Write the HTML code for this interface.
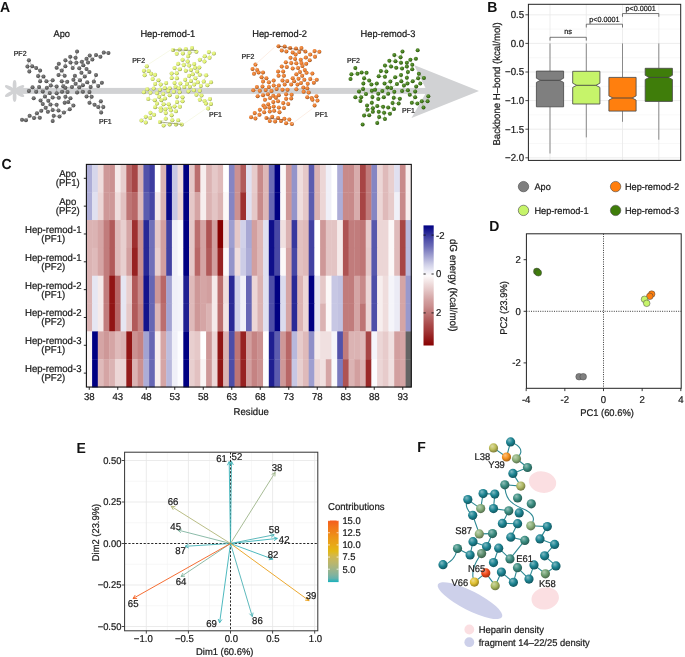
<!DOCTYPE html>
<html><head><meta charset="utf-8"><title>Figure</title>
<style>
html,body{margin:0;padding:0;background:#fff;}
body{width:685px;height:657px;overflow:hidden;}
svg{display:block;will-change:transform;text-rendering:geometricPrecision;font-family:"Liberation Sans", sans-serif;}
</style></head><body>
<svg width="685" height="657" viewBox="0 0 685 657">
<defs><radialGradient id="g0" cx="0.45" cy="0.42" r="0.6" fx="0.4" fy="0.35"><stop offset="0" stop-color="#868686"/><stop offset="0.6" stop-color="#646464"/><stop offset="1" stop-color="#373737"/></radialGradient>
<radialGradient id="g1" cx="0.45" cy="0.42" r="0.6" fx="0.4" fy="0.35"><stop offset="0" stop-color="#e8f592"/><stop offset="0.6" stop-color="#e1f273"/><stop offset="1" stop-color="#7c853f"/></radialGradient>
<radialGradient id="g2" cx="0.45" cy="0.42" r="0.6" fx="0.4" fy="0.35"><stop offset="0" stop-color="#f0995a"/><stop offset="0.6" stop-color="#ec7c2c"/><stop offset="1" stop-color="#824418"/></radialGradient>
<radialGradient id="g3" cx="0.45" cy="0.42" r="0.6" fx="0.4" fy="0.35"><stop offset="0" stop-color="#6a9949"/><stop offset="0.6" stop-color="#407c16"/><stop offset="1" stop-color="#23440c"/></radialGradient>
<linearGradient id="cbar" x1="0" y1="0" x2="0" y2="1"><stop offset="0" stop-color="#000082"/><stop offset="0.04" stop-color="#1a1a8f"/><stop offset="0.08" stop-color="#35359c"/><stop offset="0.12" stop-color="#4f4fa9"/><stop offset="0.17" stop-color="#6969b6"/><stop offset="0.21" stop-color="#8383c2"/><stop offset="0.25" stop-color="#9e9ecf"/><stop offset="0.29" stop-color="#b8b8dc"/><stop offset="0.33" stop-color="#d2d2e9"/><stop offset="0.38" stop-color="#ececf6"/><stop offset="0.42" stop-color="#fdfafa"/><stop offset="0.46" stop-color="#f4e8e8"/><stop offset="0.5" stop-color="#ecd6d6"/><stop offset="0.54" stop-color="#e4c5c5"/><stop offset="0.58" stop-color="#dbb3b3"/><stop offset="0.62" stop-color="#d3a1a1"/><stop offset="0.67" stop-color="#cb9090"/><stop offset="0.71" stop-color="#c27e7e"/><stop offset="0.75" stop-color="#ba6c6c"/><stop offset="0.79" stop-color="#b15a5a"/><stop offset="0.83" stop-color="#a94949"/><stop offset="0.88" stop-color="#a13737"/><stop offset="0.92" stop-color="#982525"/><stop offset="0.96" stop-color="#901313"/><stop offset="1" stop-color="#880202"/></linearGradient>
<linearGradient id="cgr" x1="0" y1="0" x2="0" y2="1"><stop offset="0" stop-color="#f55b1d"/><stop offset="0.06" stop-color="#f36b1c"/><stop offset="0.12" stop-color="#f2781a"/><stop offset="0.19" stop-color="#f08419"/><stop offset="0.25" stop-color="#ee9018"/><stop offset="0.31" stop-color="#eb9b18"/><stop offset="0.38" stop-color="#e9a517"/><stop offset="0.44" stop-color="#e6af17"/><stop offset="0.5" stop-color="#e2b917"/><stop offset="0.56" stop-color="#d6b843"/><stop offset="0.62" stop-color="#c9b75a"/><stop offset="0.69" stop-color="#bbb66c"/><stop offset="0.75" stop-color="#abb57d"/><stop offset="0.81" stop-color="#99b48d"/><stop offset="0.88" stop-color="#83b39d"/><stop offset="0.94" stop-color="#65b2ac"/><stop offset="1" stop-color="#17b1bb"/></linearGradient>
<radialGradient id="g4" cx="0.42" cy="0.38" r="0.62" fx="0.35" fy="0.3"><stop offset="0" stop-color="#82bbc3"/><stop offset="0.55" stop-color="#1c8492"/><stop offset="1" stop-color="#12565f"/></radialGradient>
<radialGradient id="g5" cx="0.42" cy="0.38" r="0.62" fx="0.35" fy="0.3"><stop offset="0" stop-color="#dbdba4"/><stop offset="0.55" stop-color="#bebe5a"/><stop offset="1" stop-color="#7c7c3a"/></radialGradient>
<radialGradient id="g6" cx="0.42" cy="0.38" r="0.62" fx="0.35" fy="0.3"><stop offset="0" stop-color="#fac283"/><stop offset="0.55" stop-color="#f5911e"/><stop offset="1" stop-color="#9f5e14"/></radialGradient>
<radialGradient id="g7" cx="0.42" cy="0.38" r="0.62" fx="0.35" fy="0.3"><stop offset="0" stop-color="#c0d3b5"/><stop offset="0.55" stop-color="#8caf78"/><stop offset="1" stop-color="#5b724e"/></radialGradient>
<radialGradient id="g8" cx="0.42" cy="0.38" r="0.62" fx="0.35" fy="0.3"><stop offset="0" stop-color="#93c0b9"/><stop offset="0.55" stop-color="#3a8c80"/><stop offset="1" stop-color="#265b53"/></radialGradient>
<radialGradient id="g9" cx="0.42" cy="0.38" r="0.62" fx="0.35" fy="0.3"><stop offset="0" stop-color="#d3d8aa"/><stop offset="0.55" stop-color="#afb964"/><stop offset="1" stop-color="#727841"/></radialGradient>
<radialGradient id="g10" cx="0.42" cy="0.38" r="0.62" fx="0.35" fy="0.3"><stop offset="0" stop-color="#bad0b5"/><stop offset="0.55" stop-color="#82aa78"/><stop offset="1" stop-color="#546e4e"/></radialGradient>
<radialGradient id="g11" cx="0.42" cy="0.38" r="0.62" fx="0.35" fy="0.3"><stop offset="0" stop-color="#c0d4b6"/><stop offset="0.55" stop-color="#8cb07a"/><stop offset="1" stop-color="#5b724f"/></radialGradient>
<radialGradient id="g12" cx="0.42" cy="0.38" r="0.62" fx="0.35" fy="0.3"><stop offset="0" stop-color="#c1d4b6"/><stop offset="0.55" stop-color="#8fb07a"/><stop offset="1" stop-color="#5d724f"/></radialGradient>
<radialGradient id="g13" cx="0.42" cy="0.38" r="0.62" fx="0.35" fy="0.3"><stop offset="0" stop-color="#a6c2b0"/><stop offset="0.55" stop-color="#5e9070"/><stop offset="1" stop-color="#3d5e49"/></radialGradient>
<radialGradient id="g14" cx="0.42" cy="0.38" r="0.62" fx="0.35" fy="0.3"><stop offset="0" stop-color="#f79b81"/><stop offset="0.55" stop-color="#f04a1a"/><stop offset="1" stop-color="#9c3011"/></radialGradient>
<radialGradient id="g15" cx="0.42" cy="0.38" r="0.62" fx="0.35" fy="0.3"><stop offset="0" stop-color="#afcab0"/><stop offset="0.55" stop-color="#6e9e70"/><stop offset="1" stop-color="#486749"/></radialGradient>
<radialGradient id="g16" cx="0.42" cy="0.38" r="0.62" fx="0.35" fy="0.3"><stop offset="0" stop-color="#eedc8d"/><stop offset="0.55" stop-color="#e0c030"/><stop offset="1" stop-color="#927d1f"/></radialGradient>
<radialGradient id="g17" cx="0.42" cy="0.38" r="0.62" fx="0.35" fy="0.3"><stop offset="0" stop-color="#cfd8a8"/><stop offset="0.55" stop-color="#a8b860"/><stop offset="1" stop-color="#6d783e"/></radialGradient></defs>
<rect x="0" y="0" width="685" height="657" fill="#fff"/>
<ellipse cx="14.6" cy="85.4" rx="5.4" ry="1.9" fill="#d1d2d4" transform="rotate(-90 14.6 85.4)"/>
<ellipse cx="19.45" cy="88.2" rx="5.4" ry="1.9" fill="#d1d2d4" transform="rotate(-30 19.45 88.2)"/>
<ellipse cx="19.45" cy="93.8" rx="5.4" ry="1.9" fill="#d1d2d4" transform="rotate(30 19.45 93.8)"/>
<ellipse cx="14.6" cy="96.6" rx="5.4" ry="1.9" fill="#d1d2d4" transform="rotate(90 14.6 96.6)"/>
<ellipse cx="9.75" cy="88.2" rx="5.4" ry="1.9" fill="#d1d2d4" transform="rotate(-150 9.75 88.2)"/>
<ellipse cx="9.75" cy="93.8" rx="5.4" ry="1.9" fill="#d1d2d4" transform="rotate(150 9.75 93.8)"/>
<circle cx="14.6" cy="91" r="2.6" fill="#d1d2d4"/>
<rect x="17" y="87.9" width="412" height="6" fill="#d1d2d4" stroke="none" stroke-width="1"/>
<polygon points="414,65 479,91 411.5,118 427,91" fill="#d1d2d4"/>
<text transform="translate(0 11.8) scale(1 1.04)" font-size="14" text-anchor="start" font-weight="bold" fill="#111">A</text>
<text transform="translate(61.7 37) scale(1 1.04)" font-size="9.3" text-anchor="middle" font-weight="normal" fill="#1a1a1a" stroke="#1a1a1a" stroke-width="0.22">Apo</text>
<text transform="translate(167.8 37) scale(1 1.04)" font-size="9.3" text-anchor="middle" font-weight="normal" fill="#1a1a1a" stroke="#1a1a1a" stroke-width="0.22">Hep-remod-1</text>
<text transform="translate(279.6 37) scale(1 1.04)" font-size="9.3" text-anchor="middle" font-weight="normal" fill="#1a1a1a" stroke="#1a1a1a" stroke-width="0.22">Hep-remod-2</text>
<text transform="translate(388 37) scale(1 1.04)" font-size="9.3" text-anchor="middle" font-weight="normal" fill="#1a1a1a" stroke="#1a1a1a" stroke-width="0.22">Hep-remod-3</text>
<line x1="77.04" y1="51.57" x2="75.58" y2="57.85" stroke="#777" stroke-width="0.45"/>
<line x1="103.76" y1="52.59" x2="108.43" y2="53.03" stroke="#777" stroke-width="0.45"/>
<line x1="103.76" y1="52.59" x2="100.4" y2="56.68" stroke="#777" stroke-width="0.45"/>
<line x1="70.18" y1="56.68" x2="75.58" y2="57.85" stroke="#777" stroke-width="0.45"/>
<line x1="70.18" y1="56.68" x2="70.47" y2="62.52" stroke="#777" stroke-width="0.45"/>
<line x1="75.58" y1="57.85" x2="76.31" y2="62.81" stroke="#777" stroke-width="0.45"/>
<line x1="89.74" y1="55.51" x2="86.53" y2="58.87" stroke="#777" stroke-width="0.45"/>
<line x1="89.74" y1="55.51" x2="92.37" y2="59.6" stroke="#777" stroke-width="0.45"/>
<line x1="96.02" y1="54.93" x2="100.4" y2="56.68" stroke="#777" stroke-width="0.45"/>
<line x1="96.02" y1="54.93" x2="92.37" y2="59.6" stroke="#777" stroke-width="0.45"/>
<line x1="92.37" y1="59.6" x2="87.99" y2="62.52" stroke="#777" stroke-width="0.45"/>
<line x1="65.36" y1="60.33" x2="70.47" y2="62.52" stroke="#777" stroke-width="0.45"/>
<line x1="65.36" y1="60.33" x2="65.36" y2="66.17" stroke="#777" stroke-width="0.45"/>
<line x1="70.47" y1="62.52" x2="76.31" y2="62.81" stroke="#777" stroke-width="0.45"/>
<line x1="76.31" y1="62.81" x2="81.86" y2="61.79" stroke="#777" stroke-width="0.45"/>
<line x1="81.86" y1="61.79" x2="83.32" y2="65.15" stroke="#777" stroke-width="0.45"/>
<line x1="81.86" y1="61.79" x2="86.53" y2="58.87" stroke="#777" stroke-width="0.45"/>
<line x1="87.99" y1="62.52" x2="86.53" y2="58.87" stroke="#777" stroke-width="0.45"/>
<line x1="58.8" y1="63.69" x2="56.61" y2="67.63" stroke="#777" stroke-width="0.45"/>
<line x1="65.36" y1="66.17" x2="61.72" y2="70.55" stroke="#777" stroke-width="0.45"/>
<line x1="56.61" y1="67.63" x2="61.72" y2="70.55" stroke="#777" stroke-width="0.45"/>
<line x1="61.72" y1="70.55" x2="58.5" y2="74.93" stroke="#777" stroke-width="0.45"/>
<line x1="72.66" y1="68.07" x2="70.47" y2="62.52" stroke="#777" stroke-width="0.45"/>
<line x1="72.66" y1="68.07" x2="76.31" y2="62.81" stroke="#777" stroke-width="0.45"/>
<line x1="79.23" y1="68.36" x2="81.42" y2="72.74" stroke="#777" stroke-width="0.45"/>
<line x1="79.23" y1="68.36" x2="83.32" y2="65.15" stroke="#777" stroke-width="0.45"/>
<line x1="83.32" y1="65.15" x2="86.53" y2="69.09" stroke="#777" stroke-width="0.45"/>
<line x1="86.53" y1="69.09" x2="89.45" y2="72.01" stroke="#777" stroke-width="0.45"/>
<line x1="89.45" y1="72.01" x2="84.78" y2="76.39" stroke="#777" stroke-width="0.45"/>
<line x1="27.41" y1="66.61" x2="32.23" y2="66.17" stroke="#777" stroke-width="0.45"/>
<line x1="27.41" y1="66.61" x2="29.31" y2="71.57" stroke="#777" stroke-width="0.45"/>
<line x1="32.23" y1="66.17" x2="36.17" y2="68.07" stroke="#777" stroke-width="0.45"/>
<line x1="36.17" y1="68.07" x2="40.11" y2="70.55" stroke="#777" stroke-width="0.45"/>
<line x1="29.31" y1="71.57" x2="32.23" y2="66.17" stroke="#777" stroke-width="0.45"/>
<line x1="40.11" y1="70.55" x2="38.07" y2="75.95" stroke="#777" stroke-width="0.45"/>
<line x1="28.87" y1="60.33" x2="27.41" y2="66.61" stroke="#777" stroke-width="0.45"/>
<line x1="28.87" y1="60.33" x2="32.23" y2="66.17" stroke="#777" stroke-width="0.45"/>
<line x1="58.5" y1="74.93" x2="64.64" y2="75.66" stroke="#777" stroke-width="0.45"/>
<line x1="64.64" y1="75.66" x2="61.72" y2="70.55" stroke="#777" stroke-width="0.45"/>
<line x1="74.85" y1="75.66" x2="73.39" y2="79.74" stroke="#777" stroke-width="0.45"/>
<line x1="74.85" y1="75.66" x2="79.96" y2="80.33" stroke="#777" stroke-width="0.45"/>
<line x1="81.42" y1="72.74" x2="84.78" y2="76.39" stroke="#777" stroke-width="0.45"/>
<line x1="84.78" y1="76.39" x2="79.96" y2="80.33" stroke="#777" stroke-width="0.45"/>
<line x1="96.02" y1="74.93" x2="93.83" y2="81.5" stroke="#777" stroke-width="0.45"/>
<line x1="38.07" y1="75.95" x2="43.47" y2="76.39" stroke="#777" stroke-width="0.45"/>
<line x1="38.07" y1="75.95" x2="40.11" y2="81.2" stroke="#777" stroke-width="0.45"/>
<line x1="43.47" y1="76.39" x2="46.39" y2="81.2" stroke="#777" stroke-width="0.45"/>
<line x1="40.11" y1="81.2" x2="43.47" y2="76.39" stroke="#777" stroke-width="0.45"/>
<line x1="46.39" y1="81.2" x2="50.77" y2="85.58" stroke="#777" stroke-width="0.45"/>
<line x1="52.66" y1="80.33" x2="50.77" y2="85.58" stroke="#777" stroke-width="0.45"/>
<line x1="52.66" y1="80.33" x2="46.39" y2="81.2" stroke="#777" stroke-width="0.45"/>
<line x1="61.72" y1="81.2" x2="63.18" y2="86.17" stroke="#777" stroke-width="0.45"/>
<line x1="61.72" y1="81.2" x2="67.26" y2="81.79" stroke="#777" stroke-width="0.45"/>
<line x1="67.26" y1="81.79" x2="63.18" y2="86.17" stroke="#777" stroke-width="0.45"/>
<line x1="73.39" y1="79.74" x2="75.58" y2="83.69" stroke="#777" stroke-width="0.45"/>
<line x1="79.96" y1="80.33" x2="75.58" y2="83.69" stroke="#777" stroke-width="0.45"/>
<line x1="79.96" y1="80.33" x2="82.88" y2="85.15" stroke="#777" stroke-width="0.45"/>
<line x1="87.26" y1="82.23" x2="82.88" y2="85.15" stroke="#777" stroke-width="0.45"/>
<line x1="87.26" y1="82.23" x2="90.62" y2="87.04" stroke="#777" stroke-width="0.45"/>
<line x1="93.83" y1="81.5" x2="98.21" y2="85.88" stroke="#777" stroke-width="0.45"/>
<line x1="93.83" y1="81.5" x2="90.62" y2="87.04" stroke="#777" stroke-width="0.45"/>
<line x1="101.86" y1="82.66" x2="98.21" y2="85.88" stroke="#777" stroke-width="0.45"/>
<line x1="32.52" y1="87.34" x2="28.87" y2="90.99" stroke="#777" stroke-width="0.45"/>
<line x1="32.52" y1="87.34" x2="36.17" y2="91.72" stroke="#777" stroke-width="0.45"/>
<line x1="39.09" y1="87.04" x2="36.17" y2="91.72" stroke="#777" stroke-width="0.45"/>
<line x1="39.09" y1="87.04" x2="42.74" y2="91.42" stroke="#777" stroke-width="0.45"/>
<line x1="46.82" y1="87.63" x2="50.77" y2="85.58" stroke="#777" stroke-width="0.45"/>
<line x1="46.82" y1="87.63" x2="42.74" y2="91.42" stroke="#777" stroke-width="0.45"/>
<line x1="56.61" y1="86.61" x2="50.77" y2="85.58" stroke="#777" stroke-width="0.45"/>
<line x1="56.61" y1="86.61" x2="56.61" y2="93.18" stroke="#777" stroke-width="0.45"/>
<line x1="63.18" y1="86.17" x2="65.36" y2="87.63" stroke="#777" stroke-width="0.45"/>
<line x1="65.36" y1="87.63" x2="67.55" y2="92.01" stroke="#777" stroke-width="0.45"/>
<line x1="71.93" y1="87.04" x2="75.58" y2="83.69" stroke="#777" stroke-width="0.45"/>
<line x1="71.93" y1="87.04" x2="65.36" y2="87.63" stroke="#777" stroke-width="0.45"/>
<line x1="79.23" y1="87.34" x2="82.88" y2="85.15" stroke="#777" stroke-width="0.45"/>
<line x1="79.23" y1="87.34" x2="75.58" y2="83.69" stroke="#777" stroke-width="0.45"/>
<line x1="90.62" y1="87.04" x2="89.45" y2="92.01" stroke="#777" stroke-width="0.45"/>
<line x1="42.74" y1="91.42" x2="44.93" y2="96.39" stroke="#777" stroke-width="0.45"/>
<line x1="49.74" y1="92.88" x2="52.66" y2="97.55" stroke="#777" stroke-width="0.45"/>
<line x1="49.74" y1="92.88" x2="44.93" y2="96.39" stroke="#777" stroke-width="0.45"/>
<line x1="56.61" y1="93.18" x2="58.8" y2="97.85" stroke="#777" stroke-width="0.45"/>
<line x1="56.61" y1="93.18" x2="62.01" y2="91.72" stroke="#777" stroke-width="0.45"/>
<line x1="62.01" y1="91.72" x2="65.36" y2="87.63" stroke="#777" stroke-width="0.45"/>
<line x1="62.01" y1="91.72" x2="67.55" y2="92.01" stroke="#777" stroke-width="0.45"/>
<line x1="67.55" y1="92.01" x2="65.36" y2="96.82" stroke="#777" stroke-width="0.45"/>
<line x1="77.04" y1="92.45" x2="79.23" y2="87.34" stroke="#777" stroke-width="0.45"/>
<line x1="77.04" y1="92.45" x2="82.88" y2="91.72" stroke="#777" stroke-width="0.45"/>
<line x1="82.88" y1="91.72" x2="79.23" y2="87.34" stroke="#777" stroke-width="0.45"/>
<line x1="89.45" y1="92.01" x2="86.53" y2="96.39" stroke="#777" stroke-width="0.45"/>
<line x1="44.93" y1="96.39" x2="48.28" y2="100.77" stroke="#777" stroke-width="0.45"/>
<line x1="52.66" y1="97.55" x2="48.28" y2="100.77" stroke="#777" stroke-width="0.45"/>
<line x1="58.8" y1="97.85" x2="52.66" y2="97.55" stroke="#777" stroke-width="0.45"/>
<line x1="65.36" y1="96.82" x2="70.47" y2="98.28" stroke="#777" stroke-width="0.45"/>
<line x1="70.47" y1="98.28" x2="68.28" y2="101.93" stroke="#777" stroke-width="0.45"/>
<line x1="86.53" y1="96.39" x2="91.64" y2="96.82" stroke="#777" stroke-width="0.45"/>
<line x1="91.64" y1="96.82" x2="89.45" y2="92.01" stroke="#777" stroke-width="0.45"/>
<line x1="40.55" y1="100.47" x2="42.74" y2="104.12" stroke="#777" stroke-width="0.45"/>
<line x1="40.55" y1="100.47" x2="44.93" y2="96.39" stroke="#777" stroke-width="0.45"/>
<line x1="48.28" y1="100.77" x2="50.47" y2="104.56" stroke="#777" stroke-width="0.45"/>
<line x1="42.74" y1="104.12" x2="45.66" y2="107.77" stroke="#777" stroke-width="0.45"/>
<line x1="50.47" y1="104.56" x2="45.66" y2="107.77" stroke="#777" stroke-width="0.45"/>
<line x1="56.61" y1="104.85" x2="58.5" y2="110.4" stroke="#777" stroke-width="0.45"/>
<line x1="56.61" y1="104.85" x2="50.47" y2="104.56" stroke="#777" stroke-width="0.45"/>
<line x1="64.64" y1="102.66" x2="68.28" y2="101.93" stroke="#777" stroke-width="0.45"/>
<line x1="64.64" y1="102.66" x2="65.36" y2="96.82" stroke="#777" stroke-width="0.45"/>
<line x1="73.39" y1="105.58" x2="69.74" y2="109.23" stroke="#777" stroke-width="0.45"/>
<line x1="73.39" y1="105.58" x2="68.28" y2="101.93" stroke="#777" stroke-width="0.45"/>
<line x1="89.45" y1="102.66" x2="94.56" y2="104.85" stroke="#777" stroke-width="0.45"/>
<line x1="89.45" y1="102.66" x2="91.64" y2="96.82" stroke="#777" stroke-width="0.45"/>
<line x1="94.56" y1="104.85" x2="98.21" y2="107.04" stroke="#777" stroke-width="0.45"/>
<line x1="100.84" y1="101.2" x2="103.32" y2="107.04" stroke="#777" stroke-width="0.45"/>
<line x1="100.84" y1="101.2" x2="98.21" y2="107.04" stroke="#777" stroke-width="0.45"/>
<line x1="98.21" y1="107.04" x2="103.32" y2="107.04" stroke="#777" stroke-width="0.45"/>
<line x1="103.32" y1="107.04" x2="101.13" y2="112.45" stroke="#777" stroke-width="0.45"/>
<line x1="45.66" y1="107.77" x2="47.85" y2="111.86" stroke="#777" stroke-width="0.45"/>
<line x1="52.66" y1="109.96" x2="47.85" y2="111.86" stroke="#777" stroke-width="0.45"/>
<line x1="52.66" y1="109.96" x2="50.47" y2="104.56" stroke="#777" stroke-width="0.45"/>
<line x1="58.5" y1="110.4" x2="63.91" y2="112.45" stroke="#777" stroke-width="0.45"/>
<line x1="58.5" y1="110.4" x2="52.66" y2="109.96" stroke="#777" stroke-width="0.45"/>
<line x1="63.91" y1="112.45" x2="59.53" y2="116.53" stroke="#777" stroke-width="0.45"/>
<line x1="69.74" y1="109.23" x2="63.91" y2="112.45" stroke="#777" stroke-width="0.45"/>
<line x1="36.9" y1="113.32" x2="41.28" y2="110.69" stroke="#777" stroke-width="0.45"/>
<line x1="36.9" y1="113.32" x2="39.82" y2="117.7" stroke="#777" stroke-width="0.45"/>
<line x1="41.28" y1="110.69" x2="45.66" y2="107.77" stroke="#777" stroke-width="0.45"/>
<line x1="101.13" y1="112.45" x2="98.21" y2="107.04" stroke="#777" stroke-width="0.45"/>
<line x1="29.6" y1="115.8" x2="33.98" y2="117.99" stroke="#777" stroke-width="0.45"/>
<line x1="29.6" y1="115.8" x2="25.95" y2="120.18" stroke="#777" stroke-width="0.45"/>
<line x1="33.98" y1="117.99" x2="36.9" y2="113.32" stroke="#777" stroke-width="0.45"/>
<line x1="39.82" y1="117.7" x2="33.98" y2="117.99" stroke="#777" stroke-width="0.45"/>
<line x1="53.69" y1="115.8" x2="52.66" y2="120.91" stroke="#777" stroke-width="0.45"/>
<line x1="53.69" y1="115.8" x2="59.53" y2="116.53" stroke="#777" stroke-width="0.45"/>
<line x1="22.01" y1="119.74" x2="25.95" y2="120.18" stroke="#777" stroke-width="0.45"/>
<circle cx="77.04" cy="51.57" r="2" fill="url(#g0)"/>
<circle cx="103.76" cy="52.59" r="2" fill="url(#g0)"/>
<circle cx="108.43" cy="53.03" r="2" fill="url(#g0)"/>
<circle cx="70.18" cy="56.68" r="2" fill="url(#g0)"/>
<circle cx="75.58" cy="57.85" r="2" fill="url(#g0)"/>
<circle cx="89.74" cy="55.51" r="2" fill="url(#g0)"/>
<circle cx="96.02" cy="54.93" r="2" fill="url(#g0)"/>
<circle cx="100.4" cy="56.68" r="2" fill="url(#g0)"/>
<circle cx="92.37" cy="59.6" r="2" fill="url(#g0)"/>
<circle cx="65.36" cy="60.33" r="2" fill="url(#g0)"/>
<circle cx="70.47" cy="62.52" r="2" fill="url(#g0)"/>
<circle cx="76.31" cy="62.81" r="2" fill="url(#g0)"/>
<circle cx="81.86" cy="61.79" r="2" fill="url(#g0)"/>
<circle cx="87.99" cy="62.52" r="2" fill="url(#g0)"/>
<circle cx="86.53" cy="58.87" r="2" fill="url(#g0)"/>
<circle cx="58.8" cy="63.69" r="2" fill="url(#g0)"/>
<circle cx="65.36" cy="66.17" r="2" fill="url(#g0)"/>
<circle cx="56.61" cy="67.63" r="2" fill="url(#g0)"/>
<circle cx="61.72" cy="70.55" r="2" fill="url(#g0)"/>
<circle cx="72.66" cy="68.07" r="2" fill="url(#g0)"/>
<circle cx="79.23" cy="68.36" r="2" fill="url(#g0)"/>
<circle cx="83.32" cy="65.15" r="2" fill="url(#g0)"/>
<circle cx="86.53" cy="69.09" r="2" fill="url(#g0)"/>
<circle cx="89.45" cy="72.01" r="2" fill="url(#g0)"/>
<circle cx="27.41" cy="66.61" r="2" fill="url(#g0)"/>
<circle cx="32.23" cy="66.17" r="2" fill="url(#g0)"/>
<circle cx="36.17" cy="68.07" r="2" fill="url(#g0)"/>
<circle cx="29.31" cy="71.57" r="2" fill="url(#g0)"/>
<circle cx="40.11" cy="70.55" r="2" fill="url(#g0)"/>
<circle cx="28.87" cy="60.33" r="2" fill="url(#g0)"/>
<circle cx="58.5" cy="74.93" r="2" fill="url(#g0)"/>
<circle cx="64.64" cy="75.66" r="2" fill="url(#g0)"/>
<circle cx="74.85" cy="75.66" r="2" fill="url(#g0)"/>
<circle cx="81.42" cy="72.74" r="2" fill="url(#g0)"/>
<circle cx="84.78" cy="76.39" r="2" fill="url(#g0)"/>
<circle cx="96.02" cy="74.93" r="2" fill="url(#g0)"/>
<circle cx="38.07" cy="75.95" r="2" fill="url(#g0)"/>
<circle cx="43.47" cy="76.39" r="2" fill="url(#g0)"/>
<circle cx="40.11" cy="81.2" r="2" fill="url(#g0)"/>
<circle cx="46.39" cy="81.2" r="2" fill="url(#g0)"/>
<circle cx="52.66" cy="80.33" r="2" fill="url(#g0)"/>
<circle cx="61.72" cy="81.2" r="2" fill="url(#g0)"/>
<circle cx="67.26" cy="81.79" r="2" fill="url(#g0)"/>
<circle cx="73.39" cy="79.74" r="2" fill="url(#g0)"/>
<circle cx="79.96" cy="80.33" r="2" fill="url(#g0)"/>
<circle cx="87.26" cy="82.23" r="2" fill="url(#g0)"/>
<circle cx="93.83" cy="81.5" r="2" fill="url(#g0)"/>
<circle cx="101.86" cy="82.66" r="2" fill="url(#g0)"/>
<circle cx="98.21" cy="85.88" r="2" fill="url(#g0)"/>
<circle cx="32.52" cy="87.34" r="2" fill="url(#g0)"/>
<circle cx="39.09" cy="87.04" r="2" fill="url(#g0)"/>
<circle cx="46.82" cy="87.63" r="2" fill="url(#g0)"/>
<circle cx="50.77" cy="85.58" r="2" fill="url(#g0)"/>
<circle cx="56.61" cy="86.61" r="2" fill="url(#g0)"/>
<circle cx="63.18" cy="86.17" r="2" fill="url(#g0)"/>
<circle cx="65.36" cy="87.63" r="2" fill="url(#g0)"/>
<circle cx="71.93" cy="87.04" r="2" fill="url(#g0)"/>
<circle cx="75.58" cy="83.69" r="2" fill="url(#g0)"/>
<circle cx="79.23" cy="87.34" r="2" fill="url(#g0)"/>
<circle cx="82.88" cy="85.15" r="2" fill="url(#g0)"/>
<circle cx="90.62" cy="87.04" r="2" fill="url(#g0)"/>
<circle cx="28.87" cy="90.99" r="2" fill="url(#g0)"/>
<circle cx="36.17" cy="91.72" r="2" fill="url(#g0)"/>
<circle cx="42.74" cy="91.42" r="2" fill="url(#g0)"/>
<circle cx="49.74" cy="92.88" r="2" fill="url(#g0)"/>
<circle cx="56.61" cy="93.18" r="2" fill="url(#g0)"/>
<circle cx="62.01" cy="91.72" r="2" fill="url(#g0)"/>
<circle cx="67.55" cy="92.01" r="2" fill="url(#g0)"/>
<circle cx="77.04" cy="92.45" r="2" fill="url(#g0)"/>
<circle cx="82.88" cy="91.72" r="2" fill="url(#g0)"/>
<circle cx="89.45" cy="92.01" r="2" fill="url(#g0)"/>
<circle cx="33.69" cy="98.28" r="2" fill="url(#g0)"/>
<circle cx="44.93" cy="96.39" r="2" fill="url(#g0)"/>
<circle cx="52.66" cy="97.55" r="2" fill="url(#g0)"/>
<circle cx="58.8" cy="97.85" r="2" fill="url(#g0)"/>
<circle cx="65.36" cy="96.82" r="2" fill="url(#g0)"/>
<circle cx="70.47" cy="98.28" r="2" fill="url(#g0)"/>
<circle cx="86.53" cy="96.39" r="2" fill="url(#g0)"/>
<circle cx="91.64" cy="96.82" r="2" fill="url(#g0)"/>
<circle cx="40.55" cy="100.47" r="2" fill="url(#g0)"/>
<circle cx="48.28" cy="100.77" r="2" fill="url(#g0)"/>
<circle cx="42.74" cy="104.12" r="2" fill="url(#g0)"/>
<circle cx="50.47" cy="104.56" r="2" fill="url(#g0)"/>
<circle cx="56.61" cy="104.85" r="2" fill="url(#g0)"/>
<circle cx="64.64" cy="102.66" r="2" fill="url(#g0)"/>
<circle cx="68.28" cy="101.93" r="2" fill="url(#g0)"/>
<circle cx="73.39" cy="105.58" r="2" fill="url(#g0)"/>
<circle cx="89.45" cy="102.66" r="2" fill="url(#g0)"/>
<circle cx="94.56" cy="104.85" r="2" fill="url(#g0)"/>
<circle cx="100.84" cy="101.2" r="2" fill="url(#g0)"/>
<circle cx="98.21" cy="107.04" r="2" fill="url(#g0)"/>
<circle cx="103.32" cy="107.04" r="2" fill="url(#g0)"/>
<circle cx="45.66" cy="107.77" r="2" fill="url(#g0)"/>
<circle cx="52.66" cy="109.96" r="2" fill="url(#g0)"/>
<circle cx="58.5" cy="110.4" r="2" fill="url(#g0)"/>
<circle cx="63.91" cy="112.45" r="2" fill="url(#g0)"/>
<circle cx="69.74" cy="109.23" r="2" fill="url(#g0)"/>
<circle cx="36.9" cy="113.32" r="2" fill="url(#g0)"/>
<circle cx="41.28" cy="110.69" r="2" fill="url(#g0)"/>
<circle cx="47.85" cy="111.86" r="2" fill="url(#g0)"/>
<circle cx="101.13" cy="112.45" r="2" fill="url(#g0)"/>
<circle cx="29.6" cy="115.8" r="2" fill="url(#g0)"/>
<circle cx="33.98" cy="117.99" r="2" fill="url(#g0)"/>
<circle cx="39.82" cy="117.7" r="2" fill="url(#g0)"/>
<circle cx="53.69" cy="115.8" r="2" fill="url(#g0)"/>
<circle cx="59.53" cy="116.53" r="2" fill="url(#g0)"/>
<circle cx="22.01" cy="119.74" r="2" fill="url(#g0)"/>
<circle cx="25.95" cy="120.18" r="2" fill="url(#g0)"/>
<circle cx="52.66" cy="120.91" r="2" fill="url(#g0)"/>
<line x1="173.07" y1="49.93" x2="176.72" y2="53.87" stroke="#c8d890" stroke-width="0.45"/>
<line x1="173.07" y1="49.93" x2="179.64" y2="49.49" stroke="#c8d890" stroke-width="0.45"/>
<line x1="179.64" y1="49.49" x2="182.85" y2="53.43" stroke="#c8d890" stroke-width="0.45"/>
<line x1="179.64" y1="49.49" x2="176.72" y2="53.87" stroke="#c8d890" stroke-width="0.45"/>
<line x1="185.77" y1="49.05" x2="182.85" y2="53.43" stroke="#c8d890" stroke-width="0.45"/>
<line x1="185.77" y1="49.05" x2="189.56" y2="52.85" stroke="#c8d890" stroke-width="0.45"/>
<line x1="192.04" y1="48.03" x2="189.56" y2="52.85" stroke="#c8d890" stroke-width="0.45"/>
<line x1="192.04" y1="48.03" x2="196.42" y2="51.68" stroke="#c8d890" stroke-width="0.45"/>
<line x1="196.42" y1="51.68" x2="189.56" y2="52.85" stroke="#c8d890" stroke-width="0.45"/>
<line x1="189.56" y1="52.85" x2="188.1" y2="56.35" stroke="#c8d890" stroke-width="0.45"/>
<line x1="188.1" y1="56.35" x2="187.66" y2="61.61" stroke="#c8d890" stroke-width="0.45"/>
<line x1="208.83" y1="51.97" x2="213.94" y2="53.43" stroke="#c8d890" stroke-width="0.45"/>
<line x1="208.83" y1="51.97" x2="209.56" y2="57.81" stroke="#c8d890" stroke-width="0.45"/>
<line x1="213.94" y1="53.43" x2="209.56" y2="57.81" stroke="#c8d890" stroke-width="0.45"/>
<line x1="204.74" y1="56.35" x2="209.56" y2="57.81" stroke="#c8d890" stroke-width="0.45"/>
<line x1="204.74" y1="56.35" x2="204.45" y2="61.61" stroke="#c8d890" stroke-width="0.45"/>
<line x1="199.78" y1="59.71" x2="204.45" y2="61.61" stroke="#c8d890" stroke-width="0.45"/>
<line x1="199.78" y1="59.71" x2="204.74" y2="56.35" stroke="#c8d890" stroke-width="0.45"/>
<line x1="182.55" y1="59.71" x2="187.66" y2="61.61" stroke="#c8d890" stroke-width="0.45"/>
<line x1="182.55" y1="59.71" x2="183.72" y2="65.11" stroke="#c8d890" stroke-width="0.45"/>
<line x1="187.66" y1="61.61" x2="189.12" y2="65.55" stroke="#c8d890" stroke-width="0.45"/>
<line x1="178.18" y1="63.65" x2="174.53" y2="68.03" stroke="#c8d890" stroke-width="0.45"/>
<line x1="178.18" y1="63.65" x2="183.72" y2="65.11" stroke="#c8d890" stroke-width="0.45"/>
<line x1="183.72" y1="65.11" x2="187.66" y2="61.61" stroke="#c8d890" stroke-width="0.45"/>
<line x1="183.72" y1="65.11" x2="189.12" y2="65.55" stroke="#c8d890" stroke-width="0.45"/>
<line x1="189.12" y1="65.55" x2="191.02" y2="69.93" stroke="#c8d890" stroke-width="0.45"/>
<line x1="194.23" y1="64.09" x2="194.96" y2="67.74" stroke="#c8d890" stroke-width="0.45"/>
<line x1="194.23" y1="64.09" x2="189.12" y2="65.55" stroke="#c8d890" stroke-width="0.45"/>
<line x1="199.34" y1="67.45" x2="194.96" y2="67.74" stroke="#c8d890" stroke-width="0.45"/>
<line x1="199.34" y1="67.45" x2="197.15" y2="71.39" stroke="#c8d890" stroke-width="0.45"/>
<line x1="174.53" y1="68.03" x2="179.93" y2="69.2" stroke="#c8d890" stroke-width="0.45"/>
<line x1="174.53" y1="68.03" x2="176.72" y2="73.28" stroke="#c8d890" stroke-width="0.45"/>
<line x1="179.93" y1="69.2" x2="176.72" y2="73.28" stroke="#c8d890" stroke-width="0.45"/>
<line x1="185.77" y1="70.66" x2="191.02" y2="69.93" stroke="#c8d890" stroke-width="0.45"/>
<line x1="185.77" y1="70.66" x2="183.72" y2="65.11" stroke="#c8d890" stroke-width="0.45"/>
<line x1="191.02" y1="69.93" x2="194.96" y2="67.74" stroke="#c8d890" stroke-width="0.45"/>
<line x1="191.02" y1="69.93" x2="192.77" y2="74.31" stroke="#c8d890" stroke-width="0.45"/>
<line x1="194.96" y1="67.74" x2="197.15" y2="71.39" stroke="#c8d890" stroke-width="0.45"/>
<line x1="146.79" y1="66.28" x2="148.69" y2="70.95" stroke="#c8d890" stroke-width="0.45"/>
<line x1="146.79" y1="66.28" x2="143.87" y2="70.66" stroke="#c8d890" stroke-width="0.45"/>
<line x1="143.87" y1="70.66" x2="144.6" y2="75.33" stroke="#c8d890" stroke-width="0.45"/>
<line x1="143.87" y1="70.66" x2="148.69" y2="70.95" stroke="#c8d890" stroke-width="0.45"/>
<line x1="148.69" y1="70.95" x2="151.17" y2="73.87" stroke="#c8d890" stroke-width="0.45"/>
<line x1="144.6" y1="75.33" x2="148.69" y2="70.95" stroke="#c8d890" stroke-width="0.45"/>
<line x1="151.17" y1="73.87" x2="155.11" y2="74.74" stroke="#c8d890" stroke-width="0.45"/>
<line x1="155.11" y1="74.74" x2="152.63" y2="79.12" stroke="#c8d890" stroke-width="0.45"/>
<line x1="171.61" y1="73.58" x2="171.61" y2="77.96" stroke="#c8d890" stroke-width="0.45"/>
<line x1="171.61" y1="73.58" x2="176.72" y2="73.28" stroke="#c8d890" stroke-width="0.45"/>
<line x1="176.72" y1="73.28" x2="177.01" y2="78.25" stroke="#c8d890" stroke-width="0.45"/>
<line x1="189.12" y1="75.77" x2="192.77" y2="74.31" stroke="#c8d890" stroke-width="0.45"/>
<line x1="189.12" y1="75.77" x2="191.02" y2="80.88" stroke="#c8d890" stroke-width="0.45"/>
<line x1="197.15" y1="71.39" x2="199.78" y2="74.74" stroke="#c8d890" stroke-width="0.45"/>
<line x1="199.78" y1="74.74" x2="195.4" y2="78.25" stroke="#c8d890" stroke-width="0.45"/>
<line x1="206.2" y1="75.33" x2="199.78" y2="74.74" stroke="#c8d890" stroke-width="0.45"/>
<line x1="206.2" y1="75.33" x2="203.72" y2="81.61" stroke="#c8d890" stroke-width="0.45"/>
<line x1="152.63" y1="79.12" x2="151.17" y2="73.87" stroke="#c8d890" stroke-width="0.45"/>
<line x1="158.47" y1="80.15" x2="160.66" y2="84.53" stroke="#c8d890" stroke-width="0.45"/>
<line x1="158.47" y1="80.15" x2="155.11" y2="84.09" stroke="#c8d890" stroke-width="0.45"/>
<line x1="171.61" y1="77.96" x2="177.01" y2="78.25" stroke="#c8d890" stroke-width="0.45"/>
<line x1="185.18" y1="79.71" x2="186.93" y2="83.8" stroke="#c8d890" stroke-width="0.45"/>
<line x1="185.18" y1="79.71" x2="189.12" y2="75.77" stroke="#c8d890" stroke-width="0.45"/>
<line x1="191.02" y1="80.88" x2="194.23" y2="84.53" stroke="#c8d890" stroke-width="0.45"/>
<line x1="191.02" y1="80.88" x2="186.93" y2="83.8" stroke="#c8d890" stroke-width="0.45"/>
<line x1="195.4" y1="78.25" x2="192.77" y2="74.31" stroke="#c8d890" stroke-width="0.45"/>
<line x1="195.4" y1="78.25" x2="197.88" y2="82.34" stroke="#c8d890" stroke-width="0.45"/>
<line x1="197.88" y1="82.34" x2="194.23" y2="84.53" stroke="#c8d890" stroke-width="0.45"/>
<line x1="197.88" y1="82.34" x2="200.8" y2="85.99" stroke="#c8d890" stroke-width="0.45"/>
<line x1="203.72" y1="81.61" x2="207.37" y2="85.26" stroke="#c8d890" stroke-width="0.45"/>
<line x1="203.72" y1="81.61" x2="200.8" y2="85.99" stroke="#c8d890" stroke-width="0.45"/>
<line x1="211.02" y1="82.34" x2="207.37" y2="85.26" stroke="#c8d890" stroke-width="0.45"/>
<line x1="155.11" y1="84.09" x2="153.65" y2="88.47" stroke="#c8d890" stroke-width="0.45"/>
<line x1="160.66" y1="84.53" x2="159.93" y2="89.64" stroke="#c8d890" stroke-width="0.45"/>
<line x1="166.2" y1="83.07" x2="164.74" y2="87.88" stroke="#c8d890" stroke-width="0.45"/>
<line x1="166.2" y1="83.07" x2="160.66" y2="84.53" stroke="#c8d890" stroke-width="0.45"/>
<line x1="174.53" y1="83.07" x2="175.55" y2="86.72" stroke="#c8d890" stroke-width="0.45"/>
<line x1="174.53" y1="83.07" x2="177.01" y2="78.25" stroke="#c8d890" stroke-width="0.45"/>
<line x1="180.36" y1="83.5" x2="178.91" y2="88.18" stroke="#c8d890" stroke-width="0.45"/>
<line x1="180.36" y1="83.5" x2="184.31" y2="87.01" stroke="#c8d890" stroke-width="0.45"/>
<line x1="186.93" y1="83.8" x2="189.85" y2="86.72" stroke="#c8d890" stroke-width="0.45"/>
<line x1="186.93" y1="83.8" x2="184.31" y2="87.01" stroke="#c8d890" stroke-width="0.45"/>
<line x1="200.8" y1="85.99" x2="199.78" y2="90.8" stroke="#c8d890" stroke-width="0.45"/>
<line x1="147.23" y1="89.34" x2="143.87" y2="92.26" stroke="#c8d890" stroke-width="0.45"/>
<line x1="147.23" y1="89.34" x2="150.44" y2="92.85" stroke="#c8d890" stroke-width="0.45"/>
<line x1="153.65" y1="88.47" x2="150.44" y2="92.85" stroke="#c8d890" stroke-width="0.45"/>
<line x1="159.93" y1="89.64" x2="157.01" y2="93.28" stroke="#c8d890" stroke-width="0.45"/>
<line x1="159.93" y1="89.64" x2="164.74" y2="87.88" stroke="#c8d890" stroke-width="0.45"/>
<line x1="164.74" y1="87.88" x2="168.25" y2="91.09" stroke="#c8d890" stroke-width="0.45"/>
<line x1="164.74" y1="87.88" x2="169.71" y2="88.18" stroke="#c8d890" stroke-width="0.45"/>
<line x1="169.71" y1="88.18" x2="168.25" y2="91.09" stroke="#c8d890" stroke-width="0.45"/>
<line x1="175.55" y1="86.72" x2="178.91" y2="88.18" stroke="#c8d890" stroke-width="0.45"/>
<line x1="178.91" y1="88.18" x2="179.64" y2="92.26" stroke="#c8d890" stroke-width="0.45"/>
<line x1="189.85" y1="86.72" x2="188.39" y2="91.39" stroke="#c8d890" stroke-width="0.45"/>
<line x1="143.87" y1="92.26" x2="150.44" y2="92.85" stroke="#c8d890" stroke-width="0.45"/>
<line x1="157.01" y1="93.28" x2="159.2" y2="96.64" stroke="#c8d890" stroke-width="0.45"/>
<line x1="163.28" y1="94.01" x2="165.04" y2="98.39" stroke="#c8d890" stroke-width="0.45"/>
<line x1="163.28" y1="94.01" x2="159.2" y2="96.64" stroke="#c8d890" stroke-width="0.45"/>
<line x1="168.25" y1="91.09" x2="169.71" y2="95.18" stroke="#c8d890" stroke-width="0.45"/>
<line x1="173.8" y1="91.82" x2="169.71" y2="95.18" stroke="#c8d890" stroke-width="0.45"/>
<line x1="173.8" y1="91.82" x2="175.55" y2="86.72" stroke="#c8d890" stroke-width="0.45"/>
<line x1="179.64" y1="92.26" x2="177.01" y2="96.64" stroke="#c8d890" stroke-width="0.45"/>
<line x1="188.39" y1="91.39" x2="193.94" y2="90.36" stroke="#c8d890" stroke-width="0.45"/>
<line x1="193.94" y1="90.36" x2="196.42" y2="94.74" stroke="#c8d890" stroke-width="0.45"/>
<line x1="193.94" y1="90.36" x2="189.85" y2="86.72" stroke="#c8d890" stroke-width="0.45"/>
<line x1="199.78" y1="90.8" x2="201.53" y2="95.47" stroke="#c8d890" stroke-width="0.45"/>
<line x1="159.2" y1="96.64" x2="161.39" y2="100.15" stroke="#c8d890" stroke-width="0.45"/>
<line x1="165.04" y1="98.39" x2="161.39" y2="100.15" stroke="#c8d890" stroke-width="0.45"/>
<line x1="177.01" y1="96.64" x2="177.01" y2="102.04" stroke="#c8d890" stroke-width="0.45"/>
<line x1="182.55" y1="97.23" x2="182.55" y2="101.31" stroke="#c8d890" stroke-width="0.45"/>
<line x1="182.55" y1="97.23" x2="177.01" y2="96.64" stroke="#c8d890" stroke-width="0.45"/>
<line x1="196.42" y1="94.74" x2="201.53" y2="95.47" stroke="#c8d890" stroke-width="0.45"/>
<line x1="201.53" y1="95.47" x2="199.78" y2="99.85" stroke="#c8d890" stroke-width="0.45"/>
<line x1="148.25" y1="99.12" x2="150.44" y2="92.85" stroke="#c8d890" stroke-width="0.45"/>
<line x1="148.25" y1="99.12" x2="154.82" y2="100.15" stroke="#c8d890" stroke-width="0.45"/>
<line x1="154.82" y1="100.15" x2="157.01" y2="103.5" stroke="#c8d890" stroke-width="0.45"/>
<line x1="154.82" y1="100.15" x2="159.2" y2="96.64" stroke="#c8d890" stroke-width="0.45"/>
<line x1="199.78" y1="99.85" x2="204.45" y2="101.02" stroke="#c8d890" stroke-width="0.45"/>
<line x1="204.45" y1="101.02" x2="205.91" y2="103.5" stroke="#c8d890" stroke-width="0.45"/>
<line x1="210" y1="99.12" x2="211.02" y2="103.94" stroke="#c8d890" stroke-width="0.45"/>
<line x1="210" y1="99.12" x2="204.45" y2="101.02" stroke="#c8d890" stroke-width="0.45"/>
<line x1="157.01" y1="103.5" x2="155.11" y2="107.15" stroke="#c8d890" stroke-width="0.45"/>
<line x1="163.58" y1="104.23" x2="161.39" y2="100.15" stroke="#c8d890" stroke-width="0.45"/>
<line x1="163.58" y1="104.23" x2="160.66" y2="108.32" stroke="#c8d890" stroke-width="0.45"/>
<line x1="168.69" y1="104.23" x2="169.71" y2="107.45" stroke="#c8d890" stroke-width="0.45"/>
<line x1="168.69" y1="104.23" x2="163.58" y2="104.23" stroke="#c8d890" stroke-width="0.45"/>
<line x1="177.01" y1="102.04" x2="174.53" y2="106.42" stroke="#c8d890" stroke-width="0.45"/>
<line x1="182.55" y1="101.31" x2="177.01" y2="102.04" stroke="#c8d890" stroke-width="0.45"/>
<line x1="205.91" y1="103.5" x2="211.02" y2="103.94" stroke="#c8d890" stroke-width="0.45"/>
<line x1="155.11" y1="107.15" x2="160.66" y2="108.32" stroke="#c8d890" stroke-width="0.45"/>
<line x1="160.66" y1="108.32" x2="160.66" y2="110.8" stroke="#c8d890" stroke-width="0.45"/>
<line x1="160.66" y1="108.32" x2="165.33" y2="109.34" stroke="#c8d890" stroke-width="0.45"/>
<line x1="165.33" y1="109.34" x2="165.77" y2="112.99" stroke="#c8d890" stroke-width="0.45"/>
<line x1="165.33" y1="109.34" x2="169.71" y2="107.45" stroke="#c8d890" stroke-width="0.45"/>
<line x1="169.71" y1="107.45" x2="170.88" y2="110.36" stroke="#c8d890" stroke-width="0.45"/>
<line x1="174.53" y1="106.42" x2="169.71" y2="107.45" stroke="#c8d890" stroke-width="0.45"/>
<line x1="179.93" y1="106.86" x2="174.53" y2="106.42" stroke="#c8d890" stroke-width="0.45"/>
<line x1="179.93" y1="106.86" x2="177.01" y2="102.04" stroke="#c8d890" stroke-width="0.45"/>
<line x1="208.1" y1="108.61" x2="211.02" y2="103.94" stroke="#c8d890" stroke-width="0.45"/>
<line x1="208.1" y1="108.61" x2="205.91" y2="103.5" stroke="#c8d890" stroke-width="0.45"/>
<line x1="150.44" y1="112.7" x2="154.09" y2="114.74" stroke="#c8d890" stroke-width="0.45"/>
<line x1="150.44" y1="112.7" x2="150.15" y2="118.1" stroke="#c8d890" stroke-width="0.45"/>
<line x1="145.77" y1="116.64" x2="150.15" y2="118.1" stroke="#c8d890" stroke-width="0.45"/>
<line x1="145.77" y1="116.64" x2="145.77" y2="122.48" stroke="#c8d890" stroke-width="0.45"/>
<line x1="154.09" y1="114.74" x2="150.15" y2="118.1" stroke="#c8d890" stroke-width="0.45"/>
<line x1="160.66" y1="110.8" x2="165.33" y2="109.34" stroke="#c8d890" stroke-width="0.45"/>
<line x1="165.77" y1="112.99" x2="160.66" y2="110.8" stroke="#c8d890" stroke-width="0.45"/>
<line x1="170.88" y1="110.36" x2="171.61" y2="115.18" stroke="#c8d890" stroke-width="0.45"/>
<line x1="175.99" y1="111.24" x2="174.53" y2="106.42" stroke="#c8d890" stroke-width="0.45"/>
<line x1="175.99" y1="111.24" x2="170.88" y2="110.36" stroke="#c8d890" stroke-width="0.45"/>
<line x1="171.61" y1="115.18" x2="172.34" y2="120.29" stroke="#c8d890" stroke-width="0.45"/>
<line x1="141.39" y1="120.58" x2="145.77" y2="122.48" stroke="#c8d890" stroke-width="0.45"/>
<line x1="141.39" y1="120.58" x2="145.77" y2="116.64" stroke="#c8d890" stroke-width="0.45"/>
<line x1="159.93" y1="122.04" x2="163.58" y2="125.4" stroke="#c8d890" stroke-width="0.45"/>
<line x1="159.93" y1="122.04" x2="165.77" y2="118.83" stroke="#c8d890" stroke-width="0.45"/>
<line x1="165.77" y1="118.83" x2="165.77" y2="112.99" stroke="#c8d890" stroke-width="0.45"/>
<line x1="172.34" y1="120.29" x2="169.71" y2="124.38" stroke="#c8d890" stroke-width="0.45"/>
<line x1="178.18" y1="120.29" x2="175.99" y2="124.38" stroke="#c8d890" stroke-width="0.45"/>
<line x1="178.18" y1="120.29" x2="181.82" y2="124.38" stroke="#c8d890" stroke-width="0.45"/>
<line x1="163.58" y1="125.4" x2="169.71" y2="124.38" stroke="#c8d890" stroke-width="0.45"/>
<line x1="175.99" y1="124.38" x2="172.34" y2="120.29" stroke="#c8d890" stroke-width="0.45"/>
<line x1="181.82" y1="124.38" x2="175.99" y2="124.38" stroke="#c8d890" stroke-width="0.45"/>
<circle cx="173.07" cy="49.93" r="2" fill="url(#g1)"/>
<circle cx="179.64" cy="49.49" r="2" fill="url(#g1)"/>
<circle cx="185.77" cy="49.05" r="2" fill="url(#g1)"/>
<circle cx="192.04" cy="48.03" r="2" fill="url(#g1)"/>
<circle cx="196.42" cy="51.68" r="2" fill="url(#g1)"/>
<circle cx="176.72" cy="53.87" r="2" fill="url(#g1)"/>
<circle cx="182.85" cy="53.43" r="2" fill="url(#g1)"/>
<circle cx="189.56" cy="52.85" r="2" fill="url(#g1)"/>
<circle cx="188.1" cy="56.35" r="2" fill="url(#g1)"/>
<circle cx="208.83" cy="51.97" r="2" fill="url(#g1)"/>
<circle cx="213.94" cy="53.43" r="2" fill="url(#g1)"/>
<circle cx="204.74" cy="56.35" r="2" fill="url(#g1)"/>
<circle cx="209.56" cy="57.81" r="2" fill="url(#g1)"/>
<circle cx="199.78" cy="59.71" r="2" fill="url(#g1)"/>
<circle cx="204.45" cy="61.61" r="2" fill="url(#g1)"/>
<circle cx="182.55" cy="59.71" r="2" fill="url(#g1)"/>
<circle cx="187.66" cy="61.61" r="2" fill="url(#g1)"/>
<circle cx="178.18" cy="63.65" r="2" fill="url(#g1)"/>
<circle cx="183.72" cy="65.11" r="2" fill="url(#g1)"/>
<circle cx="189.12" cy="65.55" r="2" fill="url(#g1)"/>
<circle cx="194.23" cy="64.09" r="2" fill="url(#g1)"/>
<circle cx="199.34" cy="67.45" r="2" fill="url(#g1)"/>
<circle cx="174.53" cy="68.03" r="2" fill="url(#g1)"/>
<circle cx="179.93" cy="69.2" r="2" fill="url(#g1)"/>
<circle cx="185.77" cy="70.66" r="2" fill="url(#g1)"/>
<circle cx="191.02" cy="69.93" r="2" fill="url(#g1)"/>
<circle cx="194.96" cy="67.74" r="2" fill="url(#g1)"/>
<circle cx="146.79" cy="66.28" r="2" fill="url(#g1)"/>
<circle cx="143.87" cy="70.66" r="2" fill="url(#g1)"/>
<circle cx="148.69" cy="70.95" r="2" fill="url(#g1)"/>
<circle cx="144.6" cy="75.33" r="2" fill="url(#g1)"/>
<circle cx="151.17" cy="73.87" r="2" fill="url(#g1)"/>
<circle cx="155.11" cy="74.74" r="2" fill="url(#g1)"/>
<circle cx="171.61" cy="73.58" r="2" fill="url(#g1)"/>
<circle cx="176.72" cy="73.28" r="2" fill="url(#g1)"/>
<circle cx="189.12" cy="75.77" r="2" fill="url(#g1)"/>
<circle cx="192.77" cy="74.31" r="2" fill="url(#g1)"/>
<circle cx="197.15" cy="71.39" r="2" fill="url(#g1)"/>
<circle cx="199.78" cy="74.74" r="2" fill="url(#g1)"/>
<circle cx="206.2" cy="75.33" r="2" fill="url(#g1)"/>
<circle cx="152.63" cy="79.12" r="2" fill="url(#g1)"/>
<circle cx="158.47" cy="80.15" r="2" fill="url(#g1)"/>
<circle cx="171.61" cy="77.96" r="2" fill="url(#g1)"/>
<circle cx="177.01" cy="78.25" r="2" fill="url(#g1)"/>
<circle cx="185.18" cy="79.71" r="2" fill="url(#g1)"/>
<circle cx="191.02" cy="80.88" r="2" fill="url(#g1)"/>
<circle cx="195.4" cy="78.25" r="2" fill="url(#g1)"/>
<circle cx="197.88" cy="82.34" r="2" fill="url(#g1)"/>
<circle cx="203.72" cy="81.61" r="2" fill="url(#g1)"/>
<circle cx="211.02" cy="82.34" r="2" fill="url(#g1)"/>
<circle cx="155.11" cy="84.09" r="2" fill="url(#g1)"/>
<circle cx="160.66" cy="84.53" r="2" fill="url(#g1)"/>
<circle cx="166.2" cy="83.07" r="2" fill="url(#g1)"/>
<circle cx="174.53" cy="83.07" r="2" fill="url(#g1)"/>
<circle cx="180.36" cy="83.5" r="2" fill="url(#g1)"/>
<circle cx="186.93" cy="83.8" r="2" fill="url(#g1)"/>
<circle cx="194.23" cy="84.53" r="2" fill="url(#g1)"/>
<circle cx="200.8" cy="85.99" r="2" fill="url(#g1)"/>
<circle cx="207.37" cy="85.26" r="2" fill="url(#g1)"/>
<circle cx="147.23" cy="89.34" r="2" fill="url(#g1)"/>
<circle cx="153.65" cy="88.47" r="2" fill="url(#g1)"/>
<circle cx="159.93" cy="89.64" r="2" fill="url(#g1)"/>
<circle cx="164.74" cy="87.88" r="2" fill="url(#g1)"/>
<circle cx="169.71" cy="88.18" r="2" fill="url(#g1)"/>
<circle cx="175.55" cy="86.72" r="2" fill="url(#g1)"/>
<circle cx="178.91" cy="88.18" r="2" fill="url(#g1)"/>
<circle cx="184.31" cy="87.01" r="2" fill="url(#g1)"/>
<circle cx="189.85" cy="86.72" r="2" fill="url(#g1)"/>
<circle cx="143.87" cy="92.26" r="2" fill="url(#g1)"/>
<circle cx="150.44" cy="92.85" r="2" fill="url(#g1)"/>
<circle cx="157.01" cy="93.28" r="2" fill="url(#g1)"/>
<circle cx="163.28" cy="94.01" r="2" fill="url(#g1)"/>
<circle cx="168.25" cy="91.09" r="2" fill="url(#g1)"/>
<circle cx="173.8" cy="91.82" r="2" fill="url(#g1)"/>
<circle cx="179.64" cy="92.26" r="2" fill="url(#g1)"/>
<circle cx="188.39" cy="91.39" r="2" fill="url(#g1)"/>
<circle cx="193.94" cy="90.36" r="2" fill="url(#g1)"/>
<circle cx="199.78" cy="90.8" r="2" fill="url(#g1)"/>
<circle cx="159.2" cy="96.64" r="2" fill="url(#g1)"/>
<circle cx="165.04" cy="98.39" r="2" fill="url(#g1)"/>
<circle cx="169.71" cy="95.18" r="2" fill="url(#g1)"/>
<circle cx="177.01" cy="96.64" r="2" fill="url(#g1)"/>
<circle cx="182.55" cy="97.23" r="2" fill="url(#g1)"/>
<circle cx="196.42" cy="94.74" r="2" fill="url(#g1)"/>
<circle cx="201.53" cy="95.47" r="2" fill="url(#g1)"/>
<circle cx="148.25" cy="99.12" r="2" fill="url(#g1)"/>
<circle cx="154.82" cy="100.15" r="2" fill="url(#g1)"/>
<circle cx="161.39" cy="100.15" r="2" fill="url(#g1)"/>
<circle cx="199.78" cy="99.85" r="2" fill="url(#g1)"/>
<circle cx="204.45" cy="101.02" r="2" fill="url(#g1)"/>
<circle cx="210" cy="99.12" r="2" fill="url(#g1)"/>
<circle cx="157.01" cy="103.5" r="2" fill="url(#g1)"/>
<circle cx="163.58" cy="104.23" r="2" fill="url(#g1)"/>
<circle cx="168.69" cy="104.23" r="2" fill="url(#g1)"/>
<circle cx="177.01" cy="102.04" r="2" fill="url(#g1)"/>
<circle cx="182.55" cy="101.31" r="2" fill="url(#g1)"/>
<circle cx="205.91" cy="103.5" r="2" fill="url(#g1)"/>
<circle cx="211.02" cy="103.94" r="2" fill="url(#g1)"/>
<circle cx="155.11" cy="107.15" r="2" fill="url(#g1)"/>
<circle cx="160.66" cy="108.32" r="2" fill="url(#g1)"/>
<circle cx="165.33" cy="109.34" r="2" fill="url(#g1)"/>
<circle cx="169.71" cy="107.45" r="2" fill="url(#g1)"/>
<circle cx="174.53" cy="106.42" r="2" fill="url(#g1)"/>
<circle cx="179.93" cy="106.86" r="2" fill="url(#g1)"/>
<circle cx="208.1" cy="108.61" r="2" fill="url(#g1)"/>
<circle cx="150.44" cy="112.7" r="2" fill="url(#g1)"/>
<circle cx="145.77" cy="116.64" r="2" fill="url(#g1)"/>
<circle cx="154.09" cy="114.74" r="2" fill="url(#g1)"/>
<circle cx="160.66" cy="110.8" r="2" fill="url(#g1)"/>
<circle cx="165.77" cy="112.99" r="2" fill="url(#g1)"/>
<circle cx="170.88" cy="110.36" r="2" fill="url(#g1)"/>
<circle cx="175.99" cy="111.24" r="2" fill="url(#g1)"/>
<circle cx="171.61" cy="115.18" r="2" fill="url(#g1)"/>
<circle cx="141.39" cy="120.58" r="2" fill="url(#g1)"/>
<circle cx="145.77" cy="122.48" r="2" fill="url(#g1)"/>
<circle cx="150.15" cy="118.1" r="2" fill="url(#g1)"/>
<circle cx="159.93" cy="122.04" r="2" fill="url(#g1)"/>
<circle cx="165.77" cy="118.83" r="2" fill="url(#g1)"/>
<circle cx="172.34" cy="120.29" r="2" fill="url(#g1)"/>
<circle cx="178.18" cy="120.29" r="2" fill="url(#g1)"/>
<circle cx="163.58" cy="125.4" r="2" fill="url(#g1)"/>
<circle cx="169.71" cy="124.38" r="2" fill="url(#g1)"/>
<circle cx="175.99" cy="124.38" r="2" fill="url(#g1)"/>
<circle cx="181.82" cy="124.38" r="2" fill="url(#g1)"/>
<line x1="278.5" y1="46.13" x2="281.72" y2="50.51" stroke="#e8a070" stroke-width="0.45"/>
<line x1="278.5" y1="46.13" x2="284.64" y2="46.57" stroke="#e8a070" stroke-width="0.45"/>
<line x1="284.64" y1="46.57" x2="281.72" y2="50.51" stroke="#e8a070" stroke-width="0.45"/>
<line x1="284.64" y1="46.57" x2="286.39" y2="51.39" stroke="#e8a070" stroke-width="0.45"/>
<line x1="290.18" y1="48.03" x2="292.66" y2="52.41" stroke="#e8a070" stroke-width="0.45"/>
<line x1="290.18" y1="48.03" x2="286.39" y2="51.39" stroke="#e8a070" stroke-width="0.45"/>
<line x1="296.02" y1="48.47" x2="299.23" y2="51.97" stroke="#e8a070" stroke-width="0.45"/>
<line x1="296.02" y1="48.47" x2="292.66" y2="52.41" stroke="#e8a070" stroke-width="0.45"/>
<line x1="301.42" y1="48.03" x2="299.23" y2="51.97" stroke="#e8a070" stroke-width="0.45"/>
<line x1="301.42" y1="48.03" x2="305.36" y2="51.39" stroke="#e8a070" stroke-width="0.45"/>
<line x1="281.72" y1="50.51" x2="286.39" y2="51.39" stroke="#e8a070" stroke-width="0.45"/>
<line x1="292.66" y1="52.41" x2="295.58" y2="54.6" stroke="#e8a070" stroke-width="0.45"/>
<line x1="299.23" y1="51.97" x2="295.58" y2="54.6" stroke="#e8a070" stroke-width="0.45"/>
<line x1="305.36" y1="51.39" x2="310.18" y2="54.6" stroke="#e8a070" stroke-width="0.45"/>
<line x1="314.56" y1="50.95" x2="319.38" y2="51.68" stroke="#e8a070" stroke-width="0.45"/>
<line x1="314.56" y1="50.95" x2="310.18" y2="54.6" stroke="#e8a070" stroke-width="0.45"/>
<line x1="319.38" y1="51.68" x2="315" y2="56.79" stroke="#e8a070" stroke-width="0.45"/>
<line x1="295.58" y1="54.6" x2="295.15" y2="58.98" stroke="#e8a070" stroke-width="0.45"/>
<line x1="310.18" y1="54.6" x2="305.8" y2="57.52" stroke="#e8a070" stroke-width="0.45"/>
<line x1="310.18" y1="54.6" x2="315" y2="56.79" stroke="#e8a070" stroke-width="0.45"/>
<line x1="315" y1="56.79" x2="314.56" y2="50.95" stroke="#e8a070" stroke-width="0.45"/>
<line x1="290.47" y1="57.81" x2="295.15" y2="58.98" stroke="#e8a070" stroke-width="0.45"/>
<line x1="290.47" y1="57.81" x2="291.2" y2="63.07" stroke="#e8a070" stroke-width="0.45"/>
<line x1="295.15" y1="58.98" x2="296.31" y2="63.36" stroke="#e8a070" stroke-width="0.45"/>
<line x1="305.8" y1="57.52" x2="309.74" y2="60.15" stroke="#e8a070" stroke-width="0.45"/>
<line x1="300.69" y1="59.71" x2="301.42" y2="63.07" stroke="#e8a070" stroke-width="0.45"/>
<line x1="300.69" y1="59.71" x2="305.8" y2="57.52" stroke="#e8a070" stroke-width="0.45"/>
<line x1="309.74" y1="60.15" x2="306.24" y2="63.65" stroke="#e8a070" stroke-width="0.45"/>
<line x1="285.8" y1="62.19" x2="286.82" y2="67.01" stroke="#e8a070" stroke-width="0.45"/>
<line x1="285.8" y1="62.19" x2="291.2" y2="63.07" stroke="#e8a070" stroke-width="0.45"/>
<line x1="291.2" y1="63.07" x2="296.31" y2="63.36" stroke="#e8a070" stroke-width="0.45"/>
<line x1="296.31" y1="63.36" x2="298.07" y2="68.03" stroke="#e8a070" stroke-width="0.45"/>
<line x1="301.42" y1="63.07" x2="302.45" y2="65.99" stroke="#e8a070" stroke-width="0.45"/>
<line x1="306.24" y1="63.65" x2="302.45" y2="65.99" stroke="#e8a070" stroke-width="0.45"/>
<line x1="306.24" y1="63.65" x2="301.42" y2="63.07" stroke="#e8a070" stroke-width="0.45"/>
<line x1="281.72" y1="66.57" x2="283.18" y2="71.39" stroke="#e8a070" stroke-width="0.45"/>
<line x1="281.72" y1="66.57" x2="286.82" y2="67.01" stroke="#e8a070" stroke-width="0.45"/>
<line x1="292.66" y1="68.47" x2="298.07" y2="68.03" stroke="#e8a070" stroke-width="0.45"/>
<line x1="292.66" y1="68.47" x2="291.2" y2="63.07" stroke="#e8a070" stroke-width="0.45"/>
<line x1="298.07" y1="68.03" x2="299.96" y2="72.12" stroke="#e8a070" stroke-width="0.45"/>
<line x1="298.07" y1="68.03" x2="302.45" y2="65.99" stroke="#e8a070" stroke-width="0.45"/>
<line x1="304.78" y1="69.93" x2="306.53" y2="72.85" stroke="#e8a070" stroke-width="0.45"/>
<line x1="304.78" y1="69.93" x2="302.45" y2="65.99" stroke="#e8a070" stroke-width="0.45"/>
<line x1="255.44" y1="64.53" x2="252.52" y2="68.91" stroke="#e8a070" stroke-width="0.45"/>
<line x1="255.44" y1="64.53" x2="257.19" y2="69.93" stroke="#e8a070" stroke-width="0.45"/>
<line x1="252.52" y1="68.91" x2="257.19" y2="69.93" stroke="#e8a070" stroke-width="0.45"/>
<line x1="252.52" y1="68.91" x2="253.98" y2="73.87" stroke="#e8a070" stroke-width="0.45"/>
<line x1="257.19" y1="69.93" x2="258.65" y2="72.41" stroke="#e8a070" stroke-width="0.45"/>
<line x1="253.98" y1="73.87" x2="258.65" y2="72.41" stroke="#e8a070" stroke-width="0.45"/>
<line x1="253.98" y1="73.87" x2="257.19" y2="69.93" stroke="#e8a070" stroke-width="0.45"/>
<line x1="258.65" y1="72.41" x2="263.03" y2="72.41" stroke="#e8a070" stroke-width="0.45"/>
<line x1="263.03" y1="72.41" x2="261.57" y2="77.23" stroke="#e8a070" stroke-width="0.45"/>
<line x1="278.07" y1="71.39" x2="278.5" y2="75.77" stroke="#e8a070" stroke-width="0.45"/>
<line x1="278.07" y1="71.39" x2="283.18" y2="71.39" stroke="#e8a070" stroke-width="0.45"/>
<line x1="283.18" y1="71.39" x2="283.91" y2="75.77" stroke="#e8a070" stroke-width="0.45"/>
<line x1="299.96" y1="72.12" x2="302.15" y2="75.77" stroke="#e8a070" stroke-width="0.45"/>
<line x1="299.96" y1="72.12" x2="296.31" y2="74.31" stroke="#e8a070" stroke-width="0.45"/>
<line x1="296.31" y1="74.31" x2="298.5" y2="78.69" stroke="#e8a070" stroke-width="0.45"/>
<line x1="302.15" y1="75.77" x2="304.34" y2="79.71" stroke="#e8a070" stroke-width="0.45"/>
<line x1="306.53" y1="72.85" x2="302.15" y2="75.77" stroke="#e8a070" stroke-width="0.45"/>
<line x1="312.37" y1="73.58" x2="306.53" y2="72.85" stroke="#e8a070" stroke-width="0.45"/>
<line x1="312.37" y1="73.58" x2="310.18" y2="79.12" stroke="#e8a070" stroke-width="0.45"/>
<line x1="261.57" y1="77.23" x2="263.03" y2="81.61" stroke="#e8a070" stroke-width="0.45"/>
<line x1="261.57" y1="77.23" x2="266.39" y2="78.25" stroke="#e8a070" stroke-width="0.45"/>
<line x1="266.39" y1="78.25" x2="263.03" y2="81.61" stroke="#e8a070" stroke-width="0.45"/>
<line x1="266.39" y1="78.25" x2="268.87" y2="82.34" stroke="#e8a070" stroke-width="0.45"/>
<line x1="278.5" y1="75.77" x2="283.91" y2="75.77" stroke="#e8a070" stroke-width="0.45"/>
<line x1="283.91" y1="75.77" x2="282.45" y2="80.58" stroke="#e8a070" stroke-width="0.45"/>
<line x1="292.66" y1="78.25" x2="294.12" y2="81.17" stroke="#e8a070" stroke-width="0.45"/>
<line x1="292.66" y1="78.25" x2="296.31" y2="74.31" stroke="#e8a070" stroke-width="0.45"/>
<line x1="298.5" y1="78.69" x2="302.15" y2="75.77" stroke="#e8a070" stroke-width="0.45"/>
<line x1="304.34" y1="79.71" x2="300.99" y2="83.07" stroke="#e8a070" stroke-width="0.45"/>
<line x1="310.18" y1="79.12" x2="313.83" y2="82.63" stroke="#e8a070" stroke-width="0.45"/>
<line x1="310.18" y1="79.12" x2="307.7" y2="83.8" stroke="#e8a070" stroke-width="0.45"/>
<line x1="316.75" y1="79.71" x2="313.83" y2="82.63" stroke="#e8a070" stroke-width="0.45"/>
<line x1="316.75" y1="79.71" x2="310.18" y2="79.12" stroke="#e8a070" stroke-width="0.45"/>
<line x1="268.87" y1="82.34" x2="268.87" y2="87.01" stroke="#e8a070" stroke-width="0.45"/>
<line x1="273.69" y1="80.58" x2="273.69" y2="85.55" stroke="#e8a070" stroke-width="0.45"/>
<line x1="273.69" y1="80.58" x2="268.87" y2="82.34" stroke="#e8a070" stroke-width="0.45"/>
<line x1="282.45" y1="80.58" x2="284.64" y2="84.53" stroke="#e8a070" stroke-width="0.45"/>
<line x1="282.45" y1="80.58" x2="287.26" y2="80.88" stroke="#e8a070" stroke-width="0.45"/>
<line x1="287.26" y1="80.88" x2="284.64" y2="84.53" stroke="#e8a070" stroke-width="0.45"/>
<line x1="294.12" y1="81.17" x2="291.2" y2="84.53" stroke="#e8a070" stroke-width="0.45"/>
<line x1="300.99" y1="83.07" x2="297.48" y2="84.53" stroke="#e8a070" stroke-width="0.45"/>
<line x1="307.7" y1="83.8" x2="307.26" y2="88.18" stroke="#e8a070" stroke-width="0.45"/>
<line x1="307.7" y1="83.8" x2="304.34" y2="79.71" stroke="#e8a070" stroke-width="0.45"/>
<line x1="256.9" y1="87.01" x2="259.82" y2="90.8" stroke="#e8a070" stroke-width="0.45"/>
<line x1="256.9" y1="87.01" x2="253.25" y2="90.36" stroke="#e8a070" stroke-width="0.45"/>
<line x1="262.45" y1="86.42" x2="265.66" y2="89.93" stroke="#e8a070" stroke-width="0.45"/>
<line x1="262.45" y1="86.42" x2="263.03" y2="81.61" stroke="#e8a070" stroke-width="0.45"/>
<line x1="268.87" y1="87.01" x2="265.66" y2="89.93" stroke="#e8a070" stroke-width="0.45"/>
<line x1="273.69" y1="85.55" x2="276.61" y2="88.91" stroke="#e8a070" stroke-width="0.45"/>
<line x1="278.8" y1="85.55" x2="276.61" y2="88.91" stroke="#e8a070" stroke-width="0.45"/>
<line x1="278.8" y1="85.55" x2="273.69" y2="85.55" stroke="#e8a070" stroke-width="0.45"/>
<line x1="291.2" y1="84.53" x2="287.26" y2="80.88" stroke="#e8a070" stroke-width="0.45"/>
<line x1="297.48" y1="84.53" x2="294.12" y2="81.17" stroke="#e8a070" stroke-width="0.45"/>
<line x1="303.32" y1="87.45" x2="307.26" y2="88.18" stroke="#e8a070" stroke-width="0.45"/>
<line x1="303.32" y1="87.45" x2="303.61" y2="91.82" stroke="#e8a070" stroke-width="0.45"/>
<line x1="253.25" y1="90.36" x2="259.82" y2="90.8" stroke="#e8a070" stroke-width="0.45"/>
<line x1="259.82" y1="90.8" x2="262.45" y2="86.42" stroke="#e8a070" stroke-width="0.45"/>
<line x1="271.5" y1="91.09" x2="268.87" y2="87.01" stroke="#e8a070" stroke-width="0.45"/>
<line x1="271.5" y1="91.09" x2="267.85" y2="94.31" stroke="#e8a070" stroke-width="0.45"/>
<line x1="282.45" y1="89.64" x2="287.55" y2="89.64" stroke="#e8a070" stroke-width="0.45"/>
<line x1="282.45" y1="89.64" x2="278.8" y2="85.55" stroke="#e8a070" stroke-width="0.45"/>
<line x1="287.55" y1="89.64" x2="286.09" y2="94.31" stroke="#e8a070" stroke-width="0.45"/>
<line x1="296.31" y1="89.34" x2="297.48" y2="84.53" stroke="#e8a070" stroke-width="0.45"/>
<line x1="257.63" y1="96.2" x2="263.03" y2="95.18" stroke="#e8a070" stroke-width="0.45"/>
<line x1="257.63" y1="96.2" x2="259.82" y2="90.8" stroke="#e8a070" stroke-width="0.45"/>
<line x1="263.03" y1="95.18" x2="267.85" y2="94.31" stroke="#e8a070" stroke-width="0.45"/>
<line x1="263.03" y1="95.18" x2="264.93" y2="99.85" stroke="#e8a070" stroke-width="0.45"/>
<line x1="267.85" y1="94.31" x2="270.04" y2="98.1" stroke="#e8a070" stroke-width="0.45"/>
<line x1="273.25" y1="95.77" x2="275.88" y2="97.66" stroke="#e8a070" stroke-width="0.45"/>
<line x1="273.25" y1="95.77" x2="270.04" y2="98.1" stroke="#e8a070" stroke-width="0.45"/>
<line x1="278.8" y1="95.18" x2="275.88" y2="97.66" stroke="#e8a070" stroke-width="0.45"/>
<line x1="278.8" y1="95.18" x2="273.25" y2="95.77" stroke="#e8a070" stroke-width="0.45"/>
<line x1="286.09" y1="94.31" x2="286.09" y2="98.69" stroke="#e8a070" stroke-width="0.45"/>
<line x1="291.64" y1="94.74" x2="291.2" y2="98.39" stroke="#e8a070" stroke-width="0.45"/>
<line x1="291.64" y1="94.74" x2="286.09" y2="94.31" stroke="#e8a070" stroke-width="0.45"/>
<line x1="303.61" y1="91.82" x2="308.72" y2="92.55" stroke="#e8a070" stroke-width="0.45"/>
<line x1="308.72" y1="92.55" x2="307.26" y2="88.18" stroke="#e8a070" stroke-width="0.45"/>
<line x1="308.72" y1="92.55" x2="307.26" y2="97.23" stroke="#e8a070" stroke-width="0.45"/>
<line x1="264.93" y1="99.85" x2="270.04" y2="98.1" stroke="#e8a070" stroke-width="0.45"/>
<line x1="286.09" y1="98.69" x2="291.2" y2="98.39" stroke="#e8a070" stroke-width="0.45"/>
<line x1="307.26" y1="97.23" x2="311.64" y2="98.1" stroke="#e8a070" stroke-width="0.45"/>
<line x1="311.64" y1="98.1" x2="312.37" y2="99.85" stroke="#e8a070" stroke-width="0.45"/>
<line x1="316.46" y1="96.2" x2="317.48" y2="100.58" stroke="#e8a070" stroke-width="0.45"/>
<line x1="316.46" y1="96.2" x2="311.64" y2="98.1" stroke="#e8a070" stroke-width="0.45"/>
<line x1="263.47" y1="105.4" x2="264.93" y2="107.45" stroke="#e8a070" stroke-width="0.45"/>
<line x1="263.47" y1="105.4" x2="268.28" y2="104.23" stroke="#e8a070" stroke-width="0.45"/>
<line x1="268.28" y1="104.23" x2="269.31" y2="107.45" stroke="#e8a070" stroke-width="0.45"/>
<line x1="268.28" y1="104.23" x2="264.93" y2="107.45" stroke="#e8a070" stroke-width="0.45"/>
<line x1="273.25" y1="102.04" x2="273.69" y2="106.42" stroke="#e8a070" stroke-width="0.45"/>
<line x1="273.25" y1="102.04" x2="278.07" y2="101.31" stroke="#e8a070" stroke-width="0.45"/>
<line x1="278.07" y1="101.31" x2="275.88" y2="97.66" stroke="#e8a070" stroke-width="0.45"/>
<line x1="283.18" y1="103.07" x2="283.91" y2="107.88" stroke="#e8a070" stroke-width="0.45"/>
<line x1="283.18" y1="103.07" x2="288.28" y2="103.94" stroke="#e8a070" stroke-width="0.45"/>
<line x1="288.28" y1="103.94" x2="286.09" y2="98.69" stroke="#e8a070" stroke-width="0.45"/>
<line x1="312.37" y1="99.85" x2="317.48" y2="100.58" stroke="#e8a070" stroke-width="0.45"/>
<line x1="314.56" y1="105.4" x2="317.48" y2="100.58" stroke="#e8a070" stroke-width="0.45"/>
<line x1="314.56" y1="105.4" x2="312.37" y2="99.85" stroke="#e8a070" stroke-width="0.45"/>
<line x1="259.82" y1="109.78" x2="259.53" y2="114.74" stroke="#e8a070" stroke-width="0.45"/>
<line x1="259.82" y1="109.78" x2="264.2" y2="112.26" stroke="#e8a070" stroke-width="0.45"/>
<line x1="264.93" y1="107.45" x2="269.31" y2="107.45" stroke="#e8a070" stroke-width="0.45"/>
<line x1="269.31" y1="107.45" x2="269.74" y2="111.53" stroke="#e8a070" stroke-width="0.45"/>
<line x1="273.69" y1="106.42" x2="274.12" y2="110.8" stroke="#e8a070" stroke-width="0.45"/>
<line x1="278.8" y1="107.45" x2="279.53" y2="112.26" stroke="#e8a070" stroke-width="0.45"/>
<line x1="278.8" y1="107.45" x2="283.91" y2="107.88" stroke="#e8a070" stroke-width="0.45"/>
<line x1="254.71" y1="112.99" x2="259.53" y2="114.74" stroke="#e8a070" stroke-width="0.45"/>
<line x1="254.71" y1="112.99" x2="255.44" y2="118.54" stroke="#e8a070" stroke-width="0.45"/>
<line x1="264.2" y1="112.26" x2="264.93" y2="107.45" stroke="#e8a070" stroke-width="0.45"/>
<line x1="269.74" y1="111.53" x2="274.12" y2="110.8" stroke="#e8a070" stroke-width="0.45"/>
<line x1="279.53" y1="112.26" x2="274.12" y2="110.8" stroke="#e8a070" stroke-width="0.45"/>
<line x1="251.06" y1="117.37" x2="255.44" y2="118.54" stroke="#e8a070" stroke-width="0.45"/>
<line x1="251.06" y1="117.37" x2="254.71" y2="112.99" stroke="#e8a070" stroke-width="0.45"/>
<line x1="255.44" y1="118.54" x2="259.53" y2="114.74" stroke="#e8a070" stroke-width="0.45"/>
<line x1="266.39" y1="118.1" x2="269.74" y2="121.02" stroke="#e8a070" stroke-width="0.45"/>
<line x1="266.39" y1="118.1" x2="272.23" y2="116.64" stroke="#e8a070" stroke-width="0.45"/>
<line x1="272.23" y1="116.64" x2="269.74" y2="121.02" stroke="#e8a070" stroke-width="0.45"/>
<line x1="272.23" y1="116.64" x2="275.15" y2="121.46" stroke="#e8a070" stroke-width="0.45"/>
<line x1="278.07" y1="118.1" x2="280.99" y2="121.02" stroke="#e8a070" stroke-width="0.45"/>
<line x1="278.07" y1="118.1" x2="275.15" y2="121.46" stroke="#e8a070" stroke-width="0.45"/>
<line x1="284.34" y1="118.83" x2="280.99" y2="121.02" stroke="#e8a070" stroke-width="0.45"/>
<line x1="284.34" y1="118.83" x2="286.09" y2="123.21" stroke="#e8a070" stroke-width="0.45"/>
<line x1="289.31" y1="119.56" x2="286.09" y2="123.21" stroke="#e8a070" stroke-width="0.45"/>
<line x1="289.31" y1="119.56" x2="284.34" y2="118.83" stroke="#e8a070" stroke-width="0.45"/>
<line x1="275.15" y1="121.46" x2="269.74" y2="121.02" stroke="#e8a070" stroke-width="0.45"/>
<line x1="291.93" y1="123.94" x2="289.31" y2="119.56" stroke="#e8a070" stroke-width="0.45"/>
<line x1="291.93" y1="123.94" x2="286.09" y2="123.21" stroke="#e8a070" stroke-width="0.45"/>
<circle cx="278.5" cy="46.13" r="2" fill="url(#g2)"/>
<circle cx="284.64" cy="46.57" r="2" fill="url(#g2)"/>
<circle cx="290.18" cy="48.03" r="2" fill="url(#g2)"/>
<circle cx="296.02" cy="48.47" r="2" fill="url(#g2)"/>
<circle cx="301.42" cy="48.03" r="2" fill="url(#g2)"/>
<circle cx="281.72" cy="50.51" r="2" fill="url(#g2)"/>
<circle cx="286.39" cy="51.39" r="2" fill="url(#g2)"/>
<circle cx="292.66" cy="52.41" r="2" fill="url(#g2)"/>
<circle cx="299.23" cy="51.97" r="2" fill="url(#g2)"/>
<circle cx="305.36" cy="51.39" r="2" fill="url(#g2)"/>
<circle cx="314.56" cy="50.95" r="2" fill="url(#g2)"/>
<circle cx="319.38" cy="51.68" r="2" fill="url(#g2)"/>
<circle cx="295.58" cy="54.6" r="2" fill="url(#g2)"/>
<circle cx="310.18" cy="54.6" r="2" fill="url(#g2)"/>
<circle cx="315" cy="56.79" r="2" fill="url(#g2)"/>
<circle cx="290.47" cy="57.81" r="2" fill="url(#g2)"/>
<circle cx="295.15" cy="58.98" r="2" fill="url(#g2)"/>
<circle cx="305.8" cy="57.52" r="2" fill="url(#g2)"/>
<circle cx="300.69" cy="59.71" r="2" fill="url(#g2)"/>
<circle cx="309.74" cy="60.15" r="2" fill="url(#g2)"/>
<circle cx="285.8" cy="62.19" r="2" fill="url(#g2)"/>
<circle cx="291.2" cy="63.07" r="2" fill="url(#g2)"/>
<circle cx="296.31" cy="63.36" r="2" fill="url(#g2)"/>
<circle cx="301.42" cy="63.07" r="2" fill="url(#g2)"/>
<circle cx="306.24" cy="63.65" r="2" fill="url(#g2)"/>
<circle cx="281.72" cy="66.57" r="2" fill="url(#g2)"/>
<circle cx="286.82" cy="67.01" r="2" fill="url(#g2)"/>
<circle cx="292.66" cy="68.47" r="2" fill="url(#g2)"/>
<circle cx="298.07" cy="68.03" r="2" fill="url(#g2)"/>
<circle cx="302.45" cy="65.99" r="2" fill="url(#g2)"/>
<circle cx="304.78" cy="69.93" r="2" fill="url(#g2)"/>
<circle cx="255.44" cy="64.53" r="2" fill="url(#g2)"/>
<circle cx="252.52" cy="68.91" r="2" fill="url(#g2)"/>
<circle cx="257.19" cy="69.93" r="2" fill="url(#g2)"/>
<circle cx="253.98" cy="73.87" r="2" fill="url(#g2)"/>
<circle cx="258.65" cy="72.41" r="2" fill="url(#g2)"/>
<circle cx="263.03" cy="72.41" r="2" fill="url(#g2)"/>
<circle cx="278.07" cy="71.39" r="2" fill="url(#g2)"/>
<circle cx="283.18" cy="71.39" r="2" fill="url(#g2)"/>
<circle cx="299.96" cy="72.12" r="2" fill="url(#g2)"/>
<circle cx="296.31" cy="74.31" r="2" fill="url(#g2)"/>
<circle cx="302.15" cy="75.77" r="2" fill="url(#g2)"/>
<circle cx="306.53" cy="72.85" r="2" fill="url(#g2)"/>
<circle cx="312.37" cy="73.58" r="2" fill="url(#g2)"/>
<circle cx="261.57" cy="77.23" r="2" fill="url(#g2)"/>
<circle cx="266.39" cy="78.25" r="2" fill="url(#g2)"/>
<circle cx="278.5" cy="75.77" r="2" fill="url(#g2)"/>
<circle cx="283.91" cy="75.77" r="2" fill="url(#g2)"/>
<circle cx="292.66" cy="78.25" r="2" fill="url(#g2)"/>
<circle cx="298.5" cy="78.69" r="2" fill="url(#g2)"/>
<circle cx="304.34" cy="79.71" r="2" fill="url(#g2)"/>
<circle cx="310.18" cy="79.12" r="2" fill="url(#g2)"/>
<circle cx="316.75" cy="79.71" r="2" fill="url(#g2)"/>
<circle cx="263.03" cy="81.61" r="2" fill="url(#g2)"/>
<circle cx="268.87" cy="82.34" r="2" fill="url(#g2)"/>
<circle cx="273.69" cy="80.58" r="2" fill="url(#g2)"/>
<circle cx="282.45" cy="80.58" r="2" fill="url(#g2)"/>
<circle cx="287.26" cy="80.88" r="2" fill="url(#g2)"/>
<circle cx="294.12" cy="81.17" r="2" fill="url(#g2)"/>
<circle cx="300.99" cy="83.07" r="2" fill="url(#g2)"/>
<circle cx="307.7" cy="83.8" r="2" fill="url(#g2)"/>
<circle cx="313.83" cy="82.63" r="2" fill="url(#g2)"/>
<circle cx="256.9" cy="87.01" r="2" fill="url(#g2)"/>
<circle cx="262.45" cy="86.42" r="2" fill="url(#g2)"/>
<circle cx="268.87" cy="87.01" r="2" fill="url(#g2)"/>
<circle cx="273.69" cy="85.55" r="2" fill="url(#g2)"/>
<circle cx="278.8" cy="85.55" r="2" fill="url(#g2)"/>
<circle cx="284.64" cy="84.53" r="2" fill="url(#g2)"/>
<circle cx="291.2" cy="84.53" r="2" fill="url(#g2)"/>
<circle cx="297.48" cy="84.53" r="2" fill="url(#g2)"/>
<circle cx="303.32" cy="87.45" r="2" fill="url(#g2)"/>
<circle cx="307.26" cy="88.18" r="2" fill="url(#g2)"/>
<circle cx="253.25" cy="90.36" r="2" fill="url(#g2)"/>
<circle cx="259.82" cy="90.8" r="2" fill="url(#g2)"/>
<circle cx="265.66" cy="89.93" r="2" fill="url(#g2)"/>
<circle cx="271.5" cy="91.09" r="2" fill="url(#g2)"/>
<circle cx="276.61" cy="88.91" r="2" fill="url(#g2)"/>
<circle cx="282.45" cy="89.64" r="2" fill="url(#g2)"/>
<circle cx="287.55" cy="89.64" r="2" fill="url(#g2)"/>
<circle cx="296.31" cy="89.34" r="2" fill="url(#g2)"/>
<circle cx="257.63" cy="96.2" r="2" fill="url(#g2)"/>
<circle cx="263.03" cy="95.18" r="2" fill="url(#g2)"/>
<circle cx="267.85" cy="94.31" r="2" fill="url(#g2)"/>
<circle cx="273.25" cy="95.77" r="2" fill="url(#g2)"/>
<circle cx="278.8" cy="95.18" r="2" fill="url(#g2)"/>
<circle cx="286.09" cy="94.31" r="2" fill="url(#g2)"/>
<circle cx="291.64" cy="94.74" r="2" fill="url(#g2)"/>
<circle cx="303.61" cy="91.82" r="2" fill="url(#g2)"/>
<circle cx="308.72" cy="92.55" r="2" fill="url(#g2)"/>
<circle cx="264.93" cy="99.85" r="2" fill="url(#g2)"/>
<circle cx="270.04" cy="98.1" r="2" fill="url(#g2)"/>
<circle cx="275.88" cy="97.66" r="2" fill="url(#g2)"/>
<circle cx="286.09" cy="98.69" r="2" fill="url(#g2)"/>
<circle cx="291.2" cy="98.39" r="2" fill="url(#g2)"/>
<circle cx="307.26" cy="97.23" r="2" fill="url(#g2)"/>
<circle cx="311.64" cy="98.1" r="2" fill="url(#g2)"/>
<circle cx="316.46" cy="96.2" r="2" fill="url(#g2)"/>
<circle cx="263.47" cy="105.4" r="2" fill="url(#g2)"/>
<circle cx="268.28" cy="104.23" r="2" fill="url(#g2)"/>
<circle cx="273.25" cy="102.04" r="2" fill="url(#g2)"/>
<circle cx="278.07" cy="101.31" r="2" fill="url(#g2)"/>
<circle cx="283.18" cy="103.07" r="2" fill="url(#g2)"/>
<circle cx="288.28" cy="103.94" r="2" fill="url(#g2)"/>
<circle cx="312.37" cy="99.85" r="2" fill="url(#g2)"/>
<circle cx="317.48" cy="100.58" r="2" fill="url(#g2)"/>
<circle cx="314.56" cy="105.4" r="2" fill="url(#g2)"/>
<circle cx="259.82" cy="109.78" r="2" fill="url(#g2)"/>
<circle cx="264.93" cy="107.45" r="2" fill="url(#g2)"/>
<circle cx="269.31" cy="107.45" r="2" fill="url(#g2)"/>
<circle cx="273.69" cy="106.42" r="2" fill="url(#g2)"/>
<circle cx="278.8" cy="107.45" r="2" fill="url(#g2)"/>
<circle cx="283.91" cy="107.88" r="2" fill="url(#g2)"/>
<circle cx="254.71" cy="112.99" r="2" fill="url(#g2)"/>
<circle cx="259.53" cy="114.74" r="2" fill="url(#g2)"/>
<circle cx="264.2" cy="112.26" r="2" fill="url(#g2)"/>
<circle cx="269.74" cy="111.53" r="2" fill="url(#g2)"/>
<circle cx="274.12" cy="110.8" r="2" fill="url(#g2)"/>
<circle cx="279.53" cy="112.26" r="2" fill="url(#g2)"/>
<circle cx="251.06" cy="117.37" r="2" fill="url(#g2)"/>
<circle cx="255.44" cy="118.54" r="2" fill="url(#g2)"/>
<circle cx="266.39" cy="118.1" r="2" fill="url(#g2)"/>
<circle cx="272.23" cy="116.64" r="2" fill="url(#g2)"/>
<circle cx="278.07" cy="118.1" r="2" fill="url(#g2)"/>
<circle cx="284.34" cy="118.83" r="2" fill="url(#g2)"/>
<circle cx="289.31" cy="119.56" r="2" fill="url(#g2)"/>
<circle cx="269.74" cy="121.02" r="2" fill="url(#g2)"/>
<circle cx="275.15" cy="121.46" r="2" fill="url(#g2)"/>
<circle cx="280.99" cy="121.02" r="2" fill="url(#g2)"/>
<circle cx="286.09" cy="123.21" r="2" fill="url(#g2)"/>
<circle cx="291.93" cy="123.94" r="2" fill="url(#g2)"/>
<line x1="402.48" y1="51.39" x2="400.58" y2="57.23" stroke="#8ab070" stroke-width="0.45"/>
<line x1="394.31" y1="54.89" x2="395.47" y2="61.17" stroke="#8ab070" stroke-width="0.45"/>
<line x1="394.31" y1="54.89" x2="400.58" y2="57.23" stroke="#8ab070" stroke-width="0.45"/>
<line x1="400.58" y1="57.23" x2="401.02" y2="62.63" stroke="#8ab070" stroke-width="0.45"/>
<line x1="415.91" y1="58.69" x2="410.36" y2="59.71" stroke="#8ab070" stroke-width="0.45"/>
<line x1="410.36" y1="59.71" x2="406.86" y2="62.63" stroke="#8ab070" stroke-width="0.45"/>
<line x1="410.36" y1="59.71" x2="412.26" y2="64.82" stroke="#8ab070" stroke-width="0.45"/>
<line x1="389.34" y1="60.73" x2="391.09" y2="66.57" stroke="#8ab070" stroke-width="0.45"/>
<line x1="389.34" y1="60.73" x2="395.47" y2="61.17" stroke="#8ab070" stroke-width="0.45"/>
<line x1="395.47" y1="61.17" x2="401.02" y2="62.63" stroke="#8ab070" stroke-width="0.45"/>
<line x1="406.86" y1="62.63" x2="406.86" y2="66.57" stroke="#8ab070" stroke-width="0.45"/>
<line x1="412.26" y1="64.82" x2="412.26" y2="69.2" stroke="#8ab070" stroke-width="0.45"/>
<line x1="384.96" y1="65.55" x2="386.42" y2="71.39" stroke="#8ab070" stroke-width="0.45"/>
<line x1="384.96" y1="65.55" x2="391.09" y2="66.57" stroke="#8ab070" stroke-width="0.45"/>
<line x1="391.09" y1="66.57" x2="396.2" y2="67.74" stroke="#8ab070" stroke-width="0.45"/>
<line x1="396.2" y1="67.74" x2="402.04" y2="68.47" stroke="#8ab070" stroke-width="0.45"/>
<line x1="402.04" y1="68.47" x2="406.86" y2="66.57" stroke="#8ab070" stroke-width="0.45"/>
<line x1="412.26" y1="69.2" x2="407.88" y2="72.12" stroke="#8ab070" stroke-width="0.45"/>
<line x1="407.88" y1="72.12" x2="406.86" y2="66.57" stroke="#8ab070" stroke-width="0.45"/>
<line x1="355.33" y1="68.03" x2="357.52" y2="73.87" stroke="#8ab070" stroke-width="0.45"/>
<line x1="351.39" y1="74.31" x2="350.51" y2="79.12" stroke="#8ab070" stroke-width="0.45"/>
<line x1="351.39" y1="74.31" x2="357.52" y2="73.87" stroke="#8ab070" stroke-width="0.45"/>
<line x1="357.52" y1="73.87" x2="361.61" y2="72.41" stroke="#8ab070" stroke-width="0.45"/>
<line x1="361.61" y1="72.41" x2="366.57" y2="72.85" stroke="#8ab070" stroke-width="0.45"/>
<line x1="366.57" y1="72.85" x2="364.09" y2="78.25" stroke="#8ab070" stroke-width="0.45"/>
<line x1="380.88" y1="70.95" x2="386.42" y2="71.39" stroke="#8ab070" stroke-width="0.45"/>
<line x1="380.88" y1="70.95" x2="378.69" y2="76.2" stroke="#8ab070" stroke-width="0.45"/>
<line x1="386.42" y1="71.39" x2="384.96" y2="76.79" stroke="#8ab070" stroke-width="0.45"/>
<line x1="378.69" y1="76.2" x2="384.96" y2="76.79" stroke="#8ab070" stroke-width="0.45"/>
<line x1="395.18" y1="77.23" x2="401.02" y2="75.04" stroke="#8ab070" stroke-width="0.45"/>
<line x1="395.18" y1="77.23" x2="390.36" y2="81.61" stroke="#8ab070" stroke-width="0.45"/>
<line x1="401.02" y1="75.04" x2="401.31" y2="81.17" stroke="#8ab070" stroke-width="0.45"/>
<line x1="406.86" y1="77.66" x2="407.88" y2="72.12" stroke="#8ab070" stroke-width="0.45"/>
<line x1="406.86" y1="77.66" x2="407.45" y2="83.5" stroke="#8ab070" stroke-width="0.45"/>
<line x1="412.7" y1="81.17" x2="407.45" y2="83.5" stroke="#8ab070" stroke-width="0.45"/>
<line x1="412.7" y1="81.17" x2="418.1" y2="78.25" stroke="#8ab070" stroke-width="0.45"/>
<line x1="418.83" y1="73.87" x2="418.1" y2="78.25" stroke="#8ab070" stroke-width="0.45"/>
<line x1="418.83" y1="73.87" x2="423.94" y2="77.96" stroke="#8ab070" stroke-width="0.45"/>
<line x1="418.1" y1="78.25" x2="420.29" y2="83.5" stroke="#8ab070" stroke-width="0.45"/>
<line x1="423.94" y1="77.96" x2="418.1" y2="78.25" stroke="#8ab070" stroke-width="0.45"/>
<line x1="364.09" y1="78.25" x2="363.36" y2="83.5" stroke="#8ab070" stroke-width="0.45"/>
<line x1="364.09" y1="78.25" x2="369.2" y2="80.58" stroke="#8ab070" stroke-width="0.45"/>
<line x1="369.2" y1="80.58" x2="371.39" y2="84.53" stroke="#8ab070" stroke-width="0.45"/>
<line x1="363.36" y1="83.5" x2="363.07" y2="88.91" stroke="#8ab070" stroke-width="0.45"/>
<line x1="371.39" y1="84.53" x2="376.79" y2="83.5" stroke="#8ab070" stroke-width="0.45"/>
<line x1="376.79" y1="83.5" x2="375.04" y2="89.64" stroke="#8ab070" stroke-width="0.45"/>
<line x1="384.53" y1="83.5" x2="387.45" y2="87.45" stroke="#8ab070" stroke-width="0.45"/>
<line x1="384.53" y1="83.5" x2="390.36" y2="81.61" stroke="#8ab070" stroke-width="0.45"/>
<line x1="390.36" y1="81.61" x2="391.09" y2="87.88" stroke="#8ab070" stroke-width="0.45"/>
<line x1="396.93" y1="84.09" x2="401.31" y2="81.17" stroke="#8ab070" stroke-width="0.45"/>
<line x1="396.93" y1="84.09" x2="391.09" y2="87.88" stroke="#8ab070" stroke-width="0.45"/>
<line x1="401.31" y1="81.17" x2="403.94" y2="85.55" stroke="#8ab070" stroke-width="0.45"/>
<line x1="407.45" y1="83.5" x2="403.94" y2="85.55" stroke="#8ab070" stroke-width="0.45"/>
<line x1="420.29" y1="83.5" x2="416.2" y2="86.42" stroke="#8ab070" stroke-width="0.45"/>
<line x1="416.2" y1="86.42" x2="415.18" y2="91.39" stroke="#8ab070" stroke-width="0.45"/>
<line x1="358.98" y1="91.39" x2="363.07" y2="88.91" stroke="#8ab070" stroke-width="0.45"/>
<line x1="358.98" y1="91.39" x2="361.17" y2="97.23" stroke="#8ab070" stroke-width="0.45"/>
<line x1="365.99" y1="94.01" x2="361.17" y2="97.23" stroke="#8ab070" stroke-width="0.45"/>
<line x1="365.99" y1="94.01" x2="363.07" y2="88.91" stroke="#8ab070" stroke-width="0.45"/>
<line x1="371.82" y1="90.8" x2="375.04" y2="89.64" stroke="#8ab070" stroke-width="0.45"/>
<line x1="371.82" y1="90.8" x2="372.41" y2="96.93" stroke="#8ab070" stroke-width="0.45"/>
<line x1="375.04" y1="89.64" x2="378.25" y2="93.72" stroke="#8ab070" stroke-width="0.45"/>
<line x1="378.25" y1="93.72" x2="382.34" y2="91.09" stroke="#8ab070" stroke-width="0.45"/>
<line x1="382.34" y1="91.09" x2="387.45" y2="87.45" stroke="#8ab070" stroke-width="0.45"/>
<line x1="387.45" y1="87.45" x2="391.09" y2="87.88" stroke="#8ab070" stroke-width="0.45"/>
<line x1="391.09" y1="87.88" x2="394.31" y2="91.82" stroke="#8ab070" stroke-width="0.45"/>
<line x1="394.31" y1="91.82" x2="393.72" y2="97.66" stroke="#8ab070" stroke-width="0.45"/>
<line x1="388.18" y1="93.72" x2="383.8" y2="97.23" stroke="#8ab070" stroke-width="0.45"/>
<line x1="388.18" y1="93.72" x2="387.45" y2="87.45" stroke="#8ab070" stroke-width="0.45"/>
<line x1="402.04" y1="91.09" x2="403.94" y2="85.55" stroke="#8ab070" stroke-width="0.45"/>
<line x1="402.04" y1="91.09" x2="407.88" y2="90.36" stroke="#8ab070" stroke-width="0.45"/>
<line x1="407.88" y1="90.36" x2="409.78" y2="94.74" stroke="#8ab070" stroke-width="0.45"/>
<line x1="409.78" y1="94.74" x2="415.18" y2="97.23" stroke="#8ab070" stroke-width="0.45"/>
<line x1="415.18" y1="91.39" x2="415.18" y2="97.23" stroke="#8ab070" stroke-width="0.45"/>
<line x1="355.33" y1="97.23" x2="361.17" y2="97.23" stroke="#8ab070" stroke-width="0.45"/>
<line x1="355.33" y1="97.23" x2="360.44" y2="101.02" stroke="#8ab070" stroke-width="0.45"/>
<line x1="361.17" y1="97.23" x2="360.44" y2="101.02" stroke="#8ab070" stroke-width="0.45"/>
<line x1="372.41" y1="96.93" x2="371.82" y2="102.77" stroke="#8ab070" stroke-width="0.45"/>
<line x1="378.25" y1="99.12" x2="378.25" y2="93.72" stroke="#8ab070" stroke-width="0.45"/>
<line x1="378.25" y1="99.12" x2="383.8" y2="97.23" stroke="#8ab070" stroke-width="0.45"/>
<line x1="393.72" y1="97.66" x2="392.55" y2="103.07" stroke="#8ab070" stroke-width="0.45"/>
<line x1="399.85" y1="98.69" x2="398.69" y2="103.5" stroke="#8ab070" stroke-width="0.45"/>
<line x1="399.85" y1="98.69" x2="393.72" y2="97.66" stroke="#8ab070" stroke-width="0.45"/>
<line x1="428.32" y1="96.2" x2="427.59" y2="101.31" stroke="#8ab070" stroke-width="0.45"/>
<line x1="427.59" y1="101.31" x2="421.75" y2="101.31" stroke="#8ab070" stroke-width="0.45"/>
<line x1="367.01" y1="105.4" x2="367.45" y2="109.78" stroke="#8ab070" stroke-width="0.45"/>
<line x1="367.01" y1="105.4" x2="371.82" y2="102.77" stroke="#8ab070" stroke-width="0.45"/>
<line x1="371.82" y1="102.77" x2="372.85" y2="108.32" stroke="#8ab070" stroke-width="0.45"/>
<line x1="377.23" y1="105.99" x2="372.85" y2="108.32" stroke="#8ab070" stroke-width="0.45"/>
<line x1="377.23" y1="105.99" x2="383.07" y2="106.86" stroke="#8ab070" stroke-width="0.45"/>
<line x1="383.07" y1="106.86" x2="388.18" y2="107.45" stroke="#8ab070" stroke-width="0.45"/>
<line x1="388.18" y1="107.45" x2="394.01" y2="108.91" stroke="#8ab070" stroke-width="0.45"/>
<line x1="392.55" y1="103.07" x2="394.01" y2="108.91" stroke="#8ab070" stroke-width="0.45"/>
<line x1="398.69" y1="103.5" x2="392.55" y2="103.07" stroke="#8ab070" stroke-width="0.45"/>
<line x1="411.82" y1="102.77" x2="417.37" y2="103.5" stroke="#8ab070" stroke-width="0.45"/>
<line x1="411.82" y1="102.77" x2="415.18" y2="97.23" stroke="#8ab070" stroke-width="0.45"/>
<line x1="417.37" y1="103.5" x2="421.75" y2="101.31" stroke="#8ab070" stroke-width="0.45"/>
<line x1="423.5" y1="107.45" x2="421.75" y2="101.31" stroke="#8ab070" stroke-width="0.45"/>
<line x1="367.45" y1="109.78" x2="372.85" y2="108.32" stroke="#8ab070" stroke-width="0.45"/>
<line x1="372.85" y1="108.32" x2="372.85" y2="111.82" stroke="#8ab070" stroke-width="0.45"/>
<line x1="372.85" y1="111.82" x2="369.2" y2="115.18" stroke="#8ab070" stroke-width="0.45"/>
<line x1="378.69" y1="111.82" x2="379.12" y2="117.08" stroke="#8ab070" stroke-width="0.45"/>
<line x1="378.69" y1="111.82" x2="384.09" y2="112.7" stroke="#8ab070" stroke-width="0.45"/>
<line x1="384.09" y1="112.7" x2="383.07" y2="106.86" stroke="#8ab070" stroke-width="0.45"/>
<line x1="389.93" y1="113.72" x2="384.09" y2="112.7" stroke="#8ab070" stroke-width="0.45"/>
<line x1="389.93" y1="113.72" x2="394.01" y2="108.91" stroke="#8ab070" stroke-width="0.45"/>
<line x1="364.09" y1="115.62" x2="369.2" y2="115.18" stroke="#8ab070" stroke-width="0.45"/>
<line x1="364.09" y1="115.62" x2="367.45" y2="109.78" stroke="#8ab070" stroke-width="0.45"/>
<line x1="379.12" y1="117.08" x2="377.23" y2="122.92" stroke="#8ab070" stroke-width="0.45"/>
<line x1="384.96" y1="119.12" x2="379.12" y2="117.08" stroke="#8ab070" stroke-width="0.45"/>
<line x1="384.96" y1="119.12" x2="384.09" y2="112.7" stroke="#8ab070" stroke-width="0.45"/>
<circle cx="402.48" cy="51.39" r="2" fill="url(#g3)"/>
<circle cx="417.66" cy="50.22" r="2" fill="url(#g3)"/>
<circle cx="394.31" cy="54.89" r="2" fill="url(#g3)"/>
<circle cx="400.58" cy="57.23" r="2" fill="url(#g3)"/>
<circle cx="415.91" cy="58.69" r="2" fill="url(#g3)"/>
<circle cx="410.36" cy="59.71" r="2" fill="url(#g3)"/>
<circle cx="389.34" cy="60.73" r="2" fill="url(#g3)"/>
<circle cx="395.47" cy="61.17" r="2" fill="url(#g3)"/>
<circle cx="401.02" cy="62.63" r="2" fill="url(#g3)"/>
<circle cx="406.86" cy="62.63" r="2" fill="url(#g3)"/>
<circle cx="412.26" cy="64.82" r="2" fill="url(#g3)"/>
<circle cx="384.96" cy="65.55" r="2" fill="url(#g3)"/>
<circle cx="391.09" cy="66.57" r="2" fill="url(#g3)"/>
<circle cx="396.2" cy="67.74" r="2" fill="url(#g3)"/>
<circle cx="402.04" cy="68.47" r="2" fill="url(#g3)"/>
<circle cx="406.86" cy="66.57" r="2" fill="url(#g3)"/>
<circle cx="412.26" cy="69.2" r="2" fill="url(#g3)"/>
<circle cx="407.88" cy="72.12" r="2" fill="url(#g3)"/>
<circle cx="355.33" cy="68.03" r="2" fill="url(#g3)"/>
<circle cx="351.39" cy="74.31" r="2" fill="url(#g3)"/>
<circle cx="357.52" cy="73.87" r="2" fill="url(#g3)"/>
<circle cx="361.61" cy="72.41" r="2" fill="url(#g3)"/>
<circle cx="366.57" cy="72.85" r="2" fill="url(#g3)"/>
<circle cx="350.51" cy="79.12" r="2" fill="url(#g3)"/>
<circle cx="380.88" cy="70.95" r="2" fill="url(#g3)"/>
<circle cx="386.42" cy="71.39" r="2" fill="url(#g3)"/>
<circle cx="378.69" cy="76.2" r="2" fill="url(#g3)"/>
<circle cx="384.96" cy="76.79" r="2" fill="url(#g3)"/>
<circle cx="395.18" cy="77.23" r="2" fill="url(#g3)"/>
<circle cx="401.02" cy="75.04" r="2" fill="url(#g3)"/>
<circle cx="406.86" cy="77.66" r="2" fill="url(#g3)"/>
<circle cx="412.7" cy="81.17" r="2" fill="url(#g3)"/>
<circle cx="418.83" cy="73.87" r="2" fill="url(#g3)"/>
<circle cx="418.1" cy="78.25" r="2" fill="url(#g3)"/>
<circle cx="423.94" cy="77.96" r="2" fill="url(#g3)"/>
<circle cx="364.09" cy="78.25" r="2" fill="url(#g3)"/>
<circle cx="369.2" cy="80.58" r="2" fill="url(#g3)"/>
<circle cx="363.36" cy="83.5" r="2" fill="url(#g3)"/>
<circle cx="371.39" cy="84.53" r="2" fill="url(#g3)"/>
<circle cx="376.79" cy="83.5" r="2" fill="url(#g3)"/>
<circle cx="384.53" cy="83.5" r="2" fill="url(#g3)"/>
<circle cx="390.36" cy="81.61" r="2" fill="url(#g3)"/>
<circle cx="396.93" cy="84.09" r="2" fill="url(#g3)"/>
<circle cx="401.31" cy="81.17" r="2" fill="url(#g3)"/>
<circle cx="407.45" cy="83.5" r="2" fill="url(#g3)"/>
<circle cx="420.29" cy="83.5" r="2" fill="url(#g3)"/>
<circle cx="416.2" cy="86.42" r="2" fill="url(#g3)"/>
<circle cx="358.98" cy="91.39" r="2" fill="url(#g3)"/>
<circle cx="363.07" cy="88.91" r="2" fill="url(#g3)"/>
<circle cx="365.99" cy="94.01" r="2" fill="url(#g3)"/>
<circle cx="371.82" cy="90.8" r="2" fill="url(#g3)"/>
<circle cx="375.04" cy="89.64" r="2" fill="url(#g3)"/>
<circle cx="378.25" cy="93.72" r="2" fill="url(#g3)"/>
<circle cx="382.34" cy="91.09" r="2" fill="url(#g3)"/>
<circle cx="387.45" cy="87.45" r="2" fill="url(#g3)"/>
<circle cx="391.09" cy="87.88" r="2" fill="url(#g3)"/>
<circle cx="394.31" cy="91.82" r="2" fill="url(#g3)"/>
<circle cx="388.18" cy="93.72" r="2" fill="url(#g3)"/>
<circle cx="402.04" cy="91.09" r="2" fill="url(#g3)"/>
<circle cx="407.88" cy="90.36" r="2" fill="url(#g3)"/>
<circle cx="409.78" cy="94.74" r="2" fill="url(#g3)"/>
<circle cx="415.18" cy="91.39" r="2" fill="url(#g3)"/>
<circle cx="403.94" cy="85.55" r="2" fill="url(#g3)"/>
<circle cx="355.33" cy="97.23" r="2" fill="url(#g3)"/>
<circle cx="361.17" cy="97.23" r="2" fill="url(#g3)"/>
<circle cx="360.44" cy="101.02" r="2" fill="url(#g3)"/>
<circle cx="372.41" cy="96.93" r="2" fill="url(#g3)"/>
<circle cx="378.25" cy="99.12" r="2" fill="url(#g3)"/>
<circle cx="383.8" cy="97.23" r="2" fill="url(#g3)"/>
<circle cx="393.72" cy="97.66" r="2" fill="url(#g3)"/>
<circle cx="399.85" cy="98.69" r="2" fill="url(#g3)"/>
<circle cx="415.18" cy="97.23" r="2" fill="url(#g3)"/>
<circle cx="428.32" cy="96.2" r="2" fill="url(#g3)"/>
<circle cx="427.59" cy="101.31" r="2" fill="url(#g3)"/>
<circle cx="367.01" cy="105.4" r="2" fill="url(#g3)"/>
<circle cx="371.82" cy="102.77" r="2" fill="url(#g3)"/>
<circle cx="377.23" cy="105.99" r="2" fill="url(#g3)"/>
<circle cx="383.07" cy="106.86" r="2" fill="url(#g3)"/>
<circle cx="388.18" cy="107.45" r="2" fill="url(#g3)"/>
<circle cx="392.55" cy="103.07" r="2" fill="url(#g3)"/>
<circle cx="398.69" cy="103.5" r="2" fill="url(#g3)"/>
<circle cx="394.01" cy="108.91" r="2" fill="url(#g3)"/>
<circle cx="411.82" cy="102.77" r="2" fill="url(#g3)"/>
<circle cx="417.37" cy="103.5" r="2" fill="url(#g3)"/>
<circle cx="421.75" cy="101.31" r="2" fill="url(#g3)"/>
<circle cx="423.5" cy="107.45" r="2" fill="url(#g3)"/>
<circle cx="367.45" cy="109.78" r="2" fill="url(#g3)"/>
<circle cx="372.85" cy="108.32" r="2" fill="url(#g3)"/>
<circle cx="372.85" cy="111.82" r="2" fill="url(#g3)"/>
<circle cx="378.69" cy="111.82" r="2" fill="url(#g3)"/>
<circle cx="384.09" cy="112.7" r="2" fill="url(#g3)"/>
<circle cx="389.93" cy="113.72" r="2" fill="url(#g3)"/>
<circle cx="364.09" cy="115.62" r="2" fill="url(#g3)"/>
<circle cx="369.2" cy="115.18" r="2" fill="url(#g3)"/>
<circle cx="379.12" cy="117.08" r="2" fill="url(#g3)"/>
<circle cx="384.96" cy="119.12" r="2" fill="url(#g3)"/>
<circle cx="377.23" cy="122.92" r="2" fill="url(#g3)"/>
<circle cx="362.63" cy="124.38" r="2" fill="url(#g3)"/>
<line x1="149" y1="64" x2="172.3" y2="48.8" stroke="#eef3cf" stroke-width="0.5"/>
<line x1="182.6" y1="124.7" x2="205.9" y2="108.6" stroke="#eef3cf" stroke-width="0.5"/>
<line x1="173" y1="49.9" x2="196.4" y2="50.5" stroke="#6d7440" stroke-width="0.6"/>
<line x1="159.9" y1="122" x2="181.8" y2="124.4" stroke="#6d7440" stroke-width="0.6"/>
<line x1="255.4" y1="64.5" x2="274.4" y2="47.3" stroke="#f8dccb" stroke-width="0.5"/>
<line x1="291.9" y1="123.9" x2="312.4" y2="108.6" stroke="#f8dccb" stroke-width="0.5"/>
<line x1="278.5" y1="46.1" x2="305" y2="51" stroke="#7a4020" stroke-width="0.6"/>
<line x1="266.4" y1="118.1" x2="283.2" y2="119.6" stroke="#7a4020" stroke-width="0.6"/>
<text transform="translate(13.7 56.2) scale(1 1.04)" font-size="7" text-anchor="start" font-weight="normal" fill="#222" stroke="#222" stroke-width="0.22">PF2</text>
<text transform="translate(98.9 123.8) scale(1 1.04)" font-size="7" text-anchor="start" font-weight="normal" fill="#222" stroke="#222" stroke-width="0.22">PF1</text>
<text transform="translate(132.2 62.6) scale(1 1.04)" font-size="7" text-anchor="start" font-weight="normal" fill="#222" stroke="#222" stroke-width="0.22">PF2</text>
<text transform="translate(209.1 116.6) scale(1 1.04)" font-size="7" text-anchor="start" font-weight="normal" fill="#222" stroke="#222" stroke-width="0.22">PF1</text>
<text transform="translate(241.6 59.3) scale(1 1.04)" font-size="7" text-anchor="start" font-weight="normal" fill="#222" stroke="#222" stroke-width="0.22">PF2</text>
<text transform="translate(315 117.1) scale(1 1.04)" font-size="7" text-anchor="start" font-weight="normal" fill="#222" stroke="#222" stroke-width="0.22">PF1</text>
<text transform="translate(347 62.6) scale(1 1.04)" font-size="7" text-anchor="start" font-weight="normal" fill="#222" stroke="#222" stroke-width="0.22">PF2</text>
<text transform="translate(402 112.6) scale(1 1.04)" font-size="7" text-anchor="start" font-weight="normal" fill="#222" stroke="#222" stroke-width="0.22">PF1</text>
<rect x="528.4" y="4.3" width="152.3" height="156.1" fill="#ffffff" stroke="none" stroke-width="1"/>
<line x1="528.4" y1="29.1" x2="680.7" y2="29.1" stroke="#f3f3f3" stroke-width="0.6"/>
<line x1="528.4" y1="57.7" x2="680.7" y2="57.7" stroke="#f3f3f3" stroke-width="0.6"/>
<line x1="528.4" y1="86.3" x2="680.7" y2="86.3" stroke="#f3f3f3" stroke-width="0.6"/>
<line x1="528.4" y1="114.9" x2="680.7" y2="114.9" stroke="#f3f3f3" stroke-width="0.6"/>
<line x1="528.4" y1="143.5" x2="680.7" y2="143.5" stroke="#f3f3f3" stroke-width="0.6"/>
<line x1="528.4" y1="14.8" x2="680.7" y2="14.8" stroke="#e9e9e9" stroke-width="0.8"/>
<line x1="528.4" y1="43.4" x2="680.7" y2="43.4" stroke="#e9e9e9" stroke-width="0.8"/>
<line x1="528.4" y1="72" x2="680.7" y2="72" stroke="#e9e9e9" stroke-width="0.8"/>
<line x1="528.4" y1="100.6" x2="680.7" y2="100.6" stroke="#e9e9e9" stroke-width="0.8"/>
<line x1="528.4" y1="129.2" x2="680.7" y2="129.2" stroke="#e9e9e9" stroke-width="0.8"/>
<line x1="528.4" y1="157.8" x2="680.7" y2="157.8" stroke="#e9e9e9" stroke-width="0.8"/>
<line x1="550" y1="4.3" x2="550" y2="160.4" stroke="#e9e9e9" stroke-width="0.8"/>
<line x1="586.3" y1="4.3" x2="586.3" y2="160.4" stroke="#e9e9e9" stroke-width="0.8"/>
<line x1="622.5" y1="4.3" x2="622.5" y2="160.4" stroke="#e9e9e9" stroke-width="0.8"/>
<line x1="658.8" y1="4.3" x2="658.8" y2="160.4" stroke="#e9e9e9" stroke-width="0.8"/>
<line x1="550" y1="43.4" x2="550" y2="71.1" stroke="#8a8a8a" stroke-width="1"/>
<line x1="550" y1="106.8" x2="550" y2="153.5" stroke="#8a8a8a" stroke-width="1"/>
<polygon points="536.4,71.1 563.6,71.1 563.6,78.2 559.6,80.3 563.6,82.4 563.6,106.8 536.4,106.8 536.4,82.4 540.4,80.3 536.4,78.2" fill="#7f7f7f" stroke="#4a4a4a" stroke-width="0.85"/>
<line x1="540.4" y1="80.3" x2="559.6" y2="80.3" stroke="#444" stroke-width="0.9"/>
<line x1="586.3" y1="43.4" x2="586.3" y2="71.3" stroke="#8a8a8a" stroke-width="1"/>
<line x1="586.3" y1="104" x2="586.3" y2="137.4" stroke="#8a8a8a" stroke-width="1"/>
<polygon points="572.7,71.3 599.9,71.3 599.9,83.2 595.9,85.3 599.9,87.4 599.9,104 572.7,104 572.7,87.4 576.7,85.3 572.7,83.2" fill="#c6f46a" stroke="#4a4a4a" stroke-width="0.85"/>
<line x1="576.7" y1="85.3" x2="595.9" y2="85.3" stroke="#444" stroke-width="0.9"/>
<line x1="622.5" y1="43.4" x2="622.5" y2="77.4" stroke="#8a8a8a" stroke-width="1"/>
<line x1="622.5" y1="111.1" x2="622.5" y2="121.8" stroke="#8a8a8a" stroke-width="1"/>
<polygon points="608.9,77.4 636.1,77.4 636.1,95.9 632.1,98 636.1,100.1 636.1,111.1 608.9,111.1 608.9,100.1 612.9,98 608.9,95.9" fill="#ff7f0e" stroke="#4a4a4a" stroke-width="0.85"/>
<line x1="612.9" y1="98" x2="632.1" y2="98" stroke="#444" stroke-width="0.9"/>
<line x1="658.8" y1="43.4" x2="658.8" y2="68.3" stroke="#8a8a8a" stroke-width="1"/>
<line x1="658.8" y1="101.4" x2="658.8" y2="139.7" stroke="#8a8a8a" stroke-width="1"/>
<polygon points="645.2,68.3 672.4,68.3 672.4,75.3 668.4,77.4 672.4,79.5 672.4,101.4 645.2,101.4 645.2,79.5 649.2,77.4 645.2,75.3" fill="#3f7d0a" stroke="#4a4a4a" stroke-width="0.85"/>
<line x1="649.2" y1="77.4" x2="668.4" y2="77.4" stroke="#444" stroke-width="0.9"/>
<rect x="528.4" y="4.3" width="152.3" height="156.1" fill="none" stroke="#222" stroke-width="1"/>
<line x1="525.4" y1="14.8" x2="528.4" y2="14.8" stroke="#222" stroke-width="0.8"/>
<text transform="translate(524.2 18.2) scale(1 1.04)" font-size="9.7" text-anchor="end" font-weight="normal" fill="#1a1a1a" stroke="#1a1a1a" stroke-width="0.22">0.5</text>
<line x1="525.4" y1="43.4" x2="528.4" y2="43.4" stroke="#222" stroke-width="0.8"/>
<text transform="translate(524.2 46.8) scale(1 1.04)" font-size="9.7" text-anchor="end" font-weight="normal" fill="#1a1a1a" stroke="#1a1a1a" stroke-width="0.22">0.0</text>
<line x1="525.4" y1="72" x2="528.4" y2="72" stroke="#222" stroke-width="0.8"/>
<text transform="translate(524.2 75.4) scale(1 1.04)" font-size="9.7" text-anchor="end" font-weight="normal" fill="#1a1a1a" stroke="#1a1a1a" stroke-width="0.22">−0.5</text>
<line x1="525.4" y1="100.6" x2="528.4" y2="100.6" stroke="#222" stroke-width="0.8"/>
<text transform="translate(524.2 104) scale(1 1.04)" font-size="9.7" text-anchor="end" font-weight="normal" fill="#1a1a1a" stroke="#1a1a1a" stroke-width="0.22">−1.0</text>
<line x1="525.4" y1="129.2" x2="528.4" y2="129.2" stroke="#222" stroke-width="0.8"/>
<text transform="translate(524.2 132.6) scale(1 1.04)" font-size="9.7" text-anchor="end" font-weight="normal" fill="#1a1a1a" stroke="#1a1a1a" stroke-width="0.22">−1.5</text>
<line x1="525.4" y1="157.8" x2="528.4" y2="157.8" stroke="#222" stroke-width="0.8"/>
<text transform="translate(524.2 161.2) scale(1 1.04)" font-size="9.7" text-anchor="end" font-weight="normal" fill="#1a1a1a" stroke="#1a1a1a" stroke-width="0.22">−2.0</text>
<text transform="translate(497.5 84) rotate(-90) scale(1 1.04)" font-size="9.6" text-anchor="middle" font-weight="normal" fill="#1a1a1a" stroke="#1a1a1a" stroke-width="0.22" dominant-baseline="central">Backbone H–bond (kcal/mol)</text>
<polyline points="550,40.6 550,37.3 586.3,37.3 586.3,40.6" fill="none" stroke="#555" stroke-width="0.8"/>
<text transform="translate(568.15 33.5) scale(1 1.04)" font-size="7.4" text-anchor="middle" font-weight="normal" fill="#222" stroke="#222" stroke-width="0.22">ns</text>
<polyline points="586.3,27.5 586.3,24.2 622.5,24.2 622.5,27.5" fill="none" stroke="#555" stroke-width="0.8"/>
<text transform="translate(604.4 21.6) scale(1 1.04)" font-size="7.2" text-anchor="middle" font-weight="normal" fill="#222" stroke="#222" stroke-width="0.22">p&lt;0.0001</text>
<polyline points="622.5,16.8 622.5,13.5 658.8,13.5 658.8,16.8" fill="none" stroke="#555" stroke-width="0.8"/>
<text transform="translate(640.65 11) scale(1 1.04)" font-size="7.2" text-anchor="middle" font-weight="normal" fill="#222" stroke="#222" stroke-width="0.22">p&lt;0.0001</text>
<text transform="translate(487.3 11.5) scale(1 1.04)" font-size="14" text-anchor="start" font-weight="bold" fill="#111">B</text>
<circle cx="523.5" cy="186.6" r="5.2" fill="#7f7f7f" stroke="#444" stroke-width="0.6"/>
<text transform="translate(534.4 190) scale(1 1.04)" font-size="9.2" text-anchor="start" font-weight="normal" fill="#1a1a1a" stroke="#1a1a1a" stroke-width="0.22">Apo</text>
<circle cx="615.6" cy="186.6" r="5.2" fill="#ff7f0e" stroke="#444" stroke-width="0.6"/>
<text transform="translate(624.9 190) scale(1 1.04)" font-size="9.2" text-anchor="start" font-weight="normal" fill="#1a1a1a" stroke="#1a1a1a" stroke-width="0.22">Hep-remod-2</text>
<circle cx="523.5" cy="210.4" r="5.2" fill="#c6f46a" stroke="#444" stroke-width="0.6"/>
<text transform="translate(534.4 213.8) scale(1 1.04)" font-size="9.2" text-anchor="start" font-weight="normal" fill="#1a1a1a" stroke="#1a1a1a" stroke-width="0.22">Hep-remod-1</text>
<circle cx="615.6" cy="210.4" r="5.2" fill="#3f7d0a" stroke="#444" stroke-width="0.6"/>
<text transform="translate(624.9 213.8) scale(1 1.04)" font-size="9.2" text-anchor="start" font-weight="normal" fill="#1a1a1a" stroke="#1a1a1a" stroke-width="0.22">Hep-remod-3</text>
<rect x="86.4" y="164.4" width="6.05" height="28.18" fill="#adadd7" stroke="none" stroke-width="1"/>
<rect x="92.1" y="164.4" width="6.05" height="28.18" fill="#d6d6eb" stroke="none" stroke-width="1"/>
<rect x="97.8" y="164.4" width="6.05" height="28.18" fill="#efdddd" stroke="none" stroke-width="1"/>
<rect x="103.5" y="164.4" width="6.05" height="28.18" fill="#ce9898" stroke="none" stroke-width="1"/>
<rect x="109.2" y="164.4" width="6.05" height="28.18" fill="#cb9191" stroke="none" stroke-width="1"/>
<rect x="114.9" y="164.4" width="6.05" height="28.18" fill="#f5eaea" stroke="none" stroke-width="1"/>
<rect x="120.6" y="164.4" width="6.05" height="28.18" fill="#e8cfcf" stroke="none" stroke-width="1"/>
<rect x="126.3" y="164.4" width="6.05" height="28.18" fill="#b86767" stroke="none" stroke-width="1"/>
<rect x="132" y="164.4" width="6.05" height="28.18" fill="#a74545" stroke="none" stroke-width="1"/>
<rect x="137.7" y="164.4" width="6.05" height="28.18" fill="#dbb3b3" stroke="none" stroke-width="1"/>
<rect x="143.4" y="164.4" width="6.05" height="28.18" fill="#5252aa" stroke="none" stroke-width="1"/>
<rect x="149.1" y="164.4" width="6.05" height="28.18" fill="#3d3da0" stroke="none" stroke-width="1"/>
<rect x="154.8" y="164.4" width="6.05" height="28.18" fill="#ffffff" stroke="none" stroke-width="1"/>
<rect x="160.5" y="164.4" width="6.05" height="28.18" fill="#dbb3b3" stroke="none" stroke-width="1"/>
<rect x="166.2" y="164.4" width="6.05" height="28.18" fill="#0a0a87" stroke="none" stroke-width="1"/>
<rect x="171.9" y="164.4" width="6.05" height="28.18" fill="#c7c7e4" stroke="none" stroke-width="1"/>
<rect x="177.6" y="164.4" width="6.05" height="28.18" fill="#efdddd" stroke="none" stroke-width="1"/>
<rect x="183.3" y="164.4" width="6.05" height="28.18" fill="#000082" stroke="none" stroke-width="1"/>
<rect x="189" y="164.4" width="6.05" height="28.18" fill="#e5c8c8" stroke="none" stroke-width="1"/>
<rect x="194.7" y="164.4" width="6.05" height="28.18" fill="#bb6e6e" stroke="none" stroke-width="1"/>
<rect x="200.4" y="164.4" width="6.05" height="28.18" fill="#f7eeee" stroke="none" stroke-width="1"/>
<rect x="206.1" y="164.4" width="6.05" height="28.18" fill="#dbb3b3" stroke="none" stroke-width="1"/>
<rect x="211.8" y="164.4" width="6.05" height="28.18" fill="#e5c8c8" stroke="none" stroke-width="1"/>
<rect x="217.5" y="164.4" width="6.05" height="28.18" fill="#dfbaba" stroke="none" stroke-width="1"/>
<rect x="223.2" y="164.4" width="6.05" height="28.18" fill="#ffffff" stroke="none" stroke-width="1"/>
<rect x="228.9" y="164.4" width="6.05" height="28.18" fill="#8585c3" stroke="none" stroke-width="1"/>
<rect x="234.6" y="164.4" width="6.05" height="28.18" fill="#cb9191" stroke="none" stroke-width="1"/>
<rect x="240.3" y="164.4" width="6.05" height="28.18" fill="#b15a5a" stroke="none" stroke-width="1"/>
<rect x="246" y="164.4" width="6.05" height="28.18" fill="#e0e0f0" stroke="none" stroke-width="1"/>
<rect x="251.7" y="164.4" width="6.05" height="28.18" fill="#e7cbcb" stroke="none" stroke-width="1"/>
<rect x="257.4" y="164.4" width="6.05" height="28.18" fill="#c88a8a" stroke="none" stroke-width="1"/>
<rect x="263.1" y="164.4" width="6.05" height="28.18" fill="#ddb7b7" stroke="none" stroke-width="1"/>
<rect x="268.8" y="164.4" width="6.05" height="28.18" fill="#6b6bb6" stroke="none" stroke-width="1"/>
<rect x="274.5" y="164.4" width="6.05" height="28.18" fill="#000082" stroke="none" stroke-width="1"/>
<rect x="280.2" y="164.4" width="6.05" height="28.18" fill="#fcf8f8" stroke="none" stroke-width="1"/>
<rect x="285.9" y="164.4" width="6.05" height="28.18" fill="#ce9898" stroke="none" stroke-width="1"/>
<rect x="291.6" y="164.4" width="6.05" height="28.18" fill="#9494ca" stroke="none" stroke-width="1"/>
<rect x="297.3" y="164.4" width="6.05" height="28.18" fill="#efdddd" stroke="none" stroke-width="1"/>
<rect x="303" y="164.4" width="6.05" height="28.18" fill="#e5c8c8" stroke="none" stroke-width="1"/>
<rect x="308.7" y="164.4" width="6.05" height="28.18" fill="#5c5caf" stroke="none" stroke-width="1"/>
<rect x="314.4" y="164.4" width="6.05" height="28.18" fill="#dbb3b3" stroke="none" stroke-width="1"/>
<rect x="320.1" y="164.4" width="6.05" height="28.18" fill="#ecd6d6" stroke="none" stroke-width="1"/>
<rect x="325.8" y="164.4" width="6.05" height="28.18" fill="#f0f0f8" stroke="none" stroke-width="1"/>
<rect x="331.5" y="164.4" width="6.05" height="28.18" fill="#ffffff" stroke="none" stroke-width="1"/>
<rect x="337.2" y="164.4" width="6.05" height="28.18" fill="#adadd7" stroke="none" stroke-width="1"/>
<rect x="342.9" y="164.4" width="6.05" height="28.18" fill="#c88a8a" stroke="none" stroke-width="1"/>
<rect x="348.6" y="164.4" width="6.05" height="28.18" fill="#c88a8a" stroke="none" stroke-width="1"/>
<rect x="354.3" y="164.4" width="6.05" height="28.18" fill="#d8acac" stroke="none" stroke-width="1"/>
<rect x="360" y="164.4" width="6.05" height="28.18" fill="#a74545" stroke="none" stroke-width="1"/>
<rect x="365.7" y="164.4" width="6.05" height="28.18" fill="#c17c7c" stroke="none" stroke-width="1"/>
<rect x="371.4" y="164.4" width="6.05" height="28.18" fill="#8585c3" stroke="none" stroke-width="1"/>
<rect x="377.1" y="164.4" width="6.05" height="28.18" fill="#ecd6d6" stroke="none" stroke-width="1"/>
<rect x="382.8" y="164.4" width="6.05" height="28.18" fill="#dfbaba" stroke="none" stroke-width="1"/>
<rect x="388.5" y="164.4" width="6.05" height="28.18" fill="#e8cfcf" stroke="none" stroke-width="1"/>
<rect x="394.2" y="164.4" width="6.05" height="28.18" fill="#e0e0f0" stroke="none" stroke-width="1"/>
<rect x="399.9" y="164.4" width="6.05" height="28.18" fill="#c88a8a" stroke="none" stroke-width="1"/>
<rect x="405.6" y="164.4" width="6.05" height="28.18" fill="#f7eeee" stroke="none" stroke-width="1"/>
<rect x="86.4" y="192.23" width="6.05" height="28.18" fill="#adadd7" stroke="none" stroke-width="1"/>
<rect x="92.1" y="192.23" width="6.05" height="28.18" fill="#e0e0f0" stroke="none" stroke-width="1"/>
<rect x="97.8" y="192.23" width="6.05" height="28.18" fill="#ecd6d6" stroke="none" stroke-width="1"/>
<rect x="103.5" y="192.23" width="6.05" height="28.18" fill="#ce9898" stroke="none" stroke-width="1"/>
<rect x="109.2" y="192.23" width="6.05" height="28.18" fill="#ce9898" stroke="none" stroke-width="1"/>
<rect x="114.9" y="192.23" width="6.05" height="28.18" fill="#efdddd" stroke="none" stroke-width="1"/>
<rect x="120.6" y="192.23" width="6.05" height="28.18" fill="#e2c1c1" stroke="none" stroke-width="1"/>
<rect x="126.3" y="192.23" width="6.05" height="28.18" fill="#be7575" stroke="none" stroke-width="1"/>
<rect x="132" y="192.23" width="6.05" height="28.18" fill="#b86767" stroke="none" stroke-width="1"/>
<rect x="137.7" y="192.23" width="6.05" height="28.18" fill="#dfbaba" stroke="none" stroke-width="1"/>
<rect x="143.4" y="192.23" width="6.05" height="28.18" fill="#5c5caf" stroke="none" stroke-width="1"/>
<rect x="149.1" y="192.23" width="6.05" height="28.18" fill="#4747a5" stroke="none" stroke-width="1"/>
<rect x="154.8" y="192.23" width="6.05" height="28.18" fill="#f5eaea" stroke="none" stroke-width="1"/>
<rect x="160.5" y="192.23" width="6.05" height="28.18" fill="#dbb3b3" stroke="none" stroke-width="1"/>
<rect x="166.2" y="192.23" width="6.05" height="28.18" fill="#0a0a87" stroke="none" stroke-width="1"/>
<rect x="171.9" y="192.23" width="6.05" height="28.18" fill="#c7c7e4" stroke="none" stroke-width="1"/>
<rect x="177.6" y="192.23" width="6.05" height="28.18" fill="#ecd6d6" stroke="none" stroke-width="1"/>
<rect x="183.3" y="192.23" width="6.05" height="28.18" fill="#000082" stroke="none" stroke-width="1"/>
<rect x="189" y="192.23" width="6.05" height="28.18" fill="#e5c8c8" stroke="none" stroke-width="1"/>
<rect x="194.7" y="192.23" width="6.05" height="28.18" fill="#d5a5a5" stroke="none" stroke-width="1"/>
<rect x="200.4" y="192.23" width="6.05" height="28.18" fill="#f7eeee" stroke="none" stroke-width="1"/>
<rect x="206.1" y="192.23" width="6.05" height="28.18" fill="#dbb3b3" stroke="none" stroke-width="1"/>
<rect x="211.8" y="192.23" width="6.05" height="28.18" fill="#e3c4c4" stroke="none" stroke-width="1"/>
<rect x="217.5" y="192.23" width="6.05" height="28.18" fill="#dbb3b3" stroke="none" stroke-width="1"/>
<rect x="223.2" y="192.23" width="6.05" height="28.18" fill="#fcf8f8" stroke="none" stroke-width="1"/>
<rect x="228.9" y="192.23" width="6.05" height="28.18" fill="#8585c3" stroke="none" stroke-width="1"/>
<rect x="234.6" y="192.23" width="6.05" height="28.18" fill="#cb9191" stroke="none" stroke-width="1"/>
<rect x="240.3" y="192.23" width="6.05" height="28.18" fill="#9e3030" stroke="none" stroke-width="1"/>
<rect x="246" y="192.23" width="6.05" height="28.18" fill="#e0e0f0" stroke="none" stroke-width="1"/>
<rect x="251.7" y="192.23" width="6.05" height="28.18" fill="#e5c8c8" stroke="none" stroke-width="1"/>
<rect x="257.4" y="192.23" width="6.05" height="28.18" fill="#c88a8a" stroke="none" stroke-width="1"/>
<rect x="263.1" y="192.23" width="6.05" height="28.18" fill="#ddb7b7" stroke="none" stroke-width="1"/>
<rect x="268.8" y="192.23" width="6.05" height="28.18" fill="#6666b4" stroke="none" stroke-width="1"/>
<rect x="274.5" y="192.23" width="6.05" height="28.18" fill="#000082" stroke="none" stroke-width="1"/>
<rect x="280.2" y="192.23" width="6.05" height="28.18" fill="#fcf8f8" stroke="none" stroke-width="1"/>
<rect x="285.9" y="192.23" width="6.05" height="28.18" fill="#ce9898" stroke="none" stroke-width="1"/>
<rect x="291.6" y="192.23" width="6.05" height="28.18" fill="#9494ca" stroke="none" stroke-width="1"/>
<rect x="297.3" y="192.23" width="6.05" height="28.18" fill="#efdddd" stroke="none" stroke-width="1"/>
<rect x="303" y="192.23" width="6.05" height="28.18" fill="#e5c8c8" stroke="none" stroke-width="1"/>
<rect x="308.7" y="192.23" width="6.05" height="28.18" fill="#5c5caf" stroke="none" stroke-width="1"/>
<rect x="314.4" y="192.23" width="6.05" height="28.18" fill="#dbb3b3" stroke="none" stroke-width="1"/>
<rect x="320.1" y="192.23" width="6.05" height="28.18" fill="#ecd6d6" stroke="none" stroke-width="1"/>
<rect x="325.8" y="192.23" width="6.05" height="28.18" fill="#f0f0f8" stroke="none" stroke-width="1"/>
<rect x="331.5" y="192.23" width="6.05" height="28.18" fill="#ffffff" stroke="none" stroke-width="1"/>
<rect x="337.2" y="192.23" width="6.05" height="28.18" fill="#adadd7" stroke="none" stroke-width="1"/>
<rect x="342.9" y="192.23" width="6.05" height="28.18" fill="#c88a8a" stroke="none" stroke-width="1"/>
<rect x="348.6" y="192.23" width="6.05" height="28.18" fill="#c88a8a" stroke="none" stroke-width="1"/>
<rect x="354.3" y="192.23" width="6.05" height="28.18" fill="#d8acac" stroke="none" stroke-width="1"/>
<rect x="360" y="192.23" width="6.05" height="28.18" fill="#a74545" stroke="none" stroke-width="1"/>
<rect x="365.7" y="192.23" width="6.05" height="28.18" fill="#c17c7c" stroke="none" stroke-width="1"/>
<rect x="371.4" y="192.23" width="6.05" height="28.18" fill="#8585c3" stroke="none" stroke-width="1"/>
<rect x="377.1" y="192.23" width="6.05" height="28.18" fill="#ecd6d6" stroke="none" stroke-width="1"/>
<rect x="382.8" y="192.23" width="6.05" height="28.18" fill="#dfbaba" stroke="none" stroke-width="1"/>
<rect x="388.5" y="192.23" width="6.05" height="28.18" fill="#e7cbcb" stroke="none" stroke-width="1"/>
<rect x="394.2" y="192.23" width="6.05" height="28.18" fill="#f0f0f8" stroke="none" stroke-width="1"/>
<rect x="399.9" y="192.23" width="6.05" height="28.18" fill="#c88a8a" stroke="none" stroke-width="1"/>
<rect x="405.6" y="192.23" width="6.05" height="28.18" fill="#f7eeee" stroke="none" stroke-width="1"/>
<rect x="86.4" y="220.06" width="6.05" height="28.18" fill="#dbb3b3" stroke="none" stroke-width="1"/>
<rect x="92.1" y="220.06" width="6.05" height="28.18" fill="#dbb3b3" stroke="none" stroke-width="1"/>
<rect x="97.8" y="220.06" width="6.05" height="28.18" fill="#d5a5a5" stroke="none" stroke-width="1"/>
<rect x="103.5" y="220.06" width="6.05" height="28.18" fill="#c17c7c" stroke="none" stroke-width="1"/>
<rect x="109.2" y="220.06" width="6.05" height="28.18" fill="#b15a5a" stroke="none" stroke-width="1"/>
<rect x="114.9" y="220.06" width="6.05" height="28.18" fill="#dfbaba" stroke="none" stroke-width="1"/>
<rect x="120.6" y="220.06" width="6.05" height="28.18" fill="#e8cfcf" stroke="none" stroke-width="1"/>
<rect x="126.3" y="220.06" width="6.05" height="28.18" fill="#d5a5a5" stroke="none" stroke-width="1"/>
<rect x="132" y="220.06" width="6.05" height="28.18" fill="#9e3030" stroke="none" stroke-width="1"/>
<rect x="137.7" y="220.06" width="6.05" height="28.18" fill="#cb9191" stroke="none" stroke-width="1"/>
<rect x="143.4" y="220.06" width="6.05" height="28.18" fill="#292996" stroke="none" stroke-width="1"/>
<rect x="149.1" y="220.06" width="6.05" height="28.18" fill="#7070b9" stroke="none" stroke-width="1"/>
<rect x="154.8" y="220.06" width="6.05" height="28.18" fill="#e5c8c8" stroke="none" stroke-width="1"/>
<rect x="160.5" y="220.06" width="6.05" height="28.18" fill="#d29f9f" stroke="none" stroke-width="1"/>
<rect x="166.2" y="220.06" width="6.05" height="28.18" fill="#4242a2" stroke="none" stroke-width="1"/>
<rect x="171.9" y="220.06" width="6.05" height="28.18" fill="#f0f0f8" stroke="none" stroke-width="1"/>
<rect x="177.6" y="220.06" width="6.05" height="28.18" fill="#fafafc" stroke="none" stroke-width="1"/>
<rect x="183.3" y="220.06" width="6.05" height="28.18" fill="#000082" stroke="none" stroke-width="1"/>
<rect x="189" y="220.06" width="6.05" height="28.18" fill="#e5c8c8" stroke="none" stroke-width="1"/>
<rect x="194.7" y="220.06" width="6.05" height="28.18" fill="#bb6e6e" stroke="none" stroke-width="1"/>
<rect x="200.4" y="220.06" width="6.05" height="28.18" fill="#d5a5a5" stroke="none" stroke-width="1"/>
<rect x="206.1" y="220.06" width="6.05" height="28.18" fill="#ae5353" stroke="none" stroke-width="1"/>
<rect x="211.8" y="220.06" width="6.05" height="28.18" fill="#d29f9f" stroke="none" stroke-width="1"/>
<rect x="217.5" y="220.06" width="6.05" height="28.18" fill="#870000" stroke="none" stroke-width="1"/>
<rect x="223.2" y="220.06" width="6.05" height="28.18" fill="#efdddd" stroke="none" stroke-width="1"/>
<rect x="228.9" y="220.06" width="6.05" height="28.18" fill="#9e9ed0" stroke="none" stroke-width="1"/>
<rect x="234.6" y="220.06" width="6.05" height="28.18" fill="#e5c8c8" stroke="none" stroke-width="1"/>
<rect x="240.3" y="220.06" width="6.05" height="28.18" fill="#d1d1e9" stroke="none" stroke-width="1"/>
<rect x="246" y="220.06" width="6.05" height="28.18" fill="#a8a8d4" stroke="none" stroke-width="1"/>
<rect x="251.7" y="220.06" width="6.05" height="28.18" fill="#d29f9f" stroke="none" stroke-width="1"/>
<rect x="257.4" y="220.06" width="6.05" height="28.18" fill="#ddb7b7" stroke="none" stroke-width="1"/>
<rect x="263.1" y="220.06" width="6.05" height="28.18" fill="#e0e0f0" stroke="none" stroke-width="1"/>
<rect x="268.8" y="220.06" width="6.05" height="28.18" fill="#0f0f8a" stroke="none" stroke-width="1"/>
<rect x="274.5" y="220.06" width="6.05" height="28.18" fill="#4747a5" stroke="none" stroke-width="1"/>
<rect x="280.2" y="220.06" width="6.05" height="28.18" fill="#f0e0e0" stroke="none" stroke-width="1"/>
<rect x="285.9" y="220.06" width="6.05" height="28.18" fill="#dbb3b3" stroke="none" stroke-width="1"/>
<rect x="291.6" y="220.06" width="6.05" height="28.18" fill="#38389e" stroke="none" stroke-width="1"/>
<rect x="297.3" y="220.06" width="6.05" height="28.18" fill="#e2c1c1" stroke="none" stroke-width="1"/>
<rect x="303" y="220.06" width="6.05" height="28.18" fill="#dfbaba" stroke="none" stroke-width="1"/>
<rect x="308.7" y="220.06" width="6.05" height="28.18" fill="#4242a2" stroke="none" stroke-width="1"/>
<rect x="314.4" y="220.06" width="6.05" height="28.18" fill="#ffffff" stroke="none" stroke-width="1"/>
<rect x="320.1" y="220.06" width="6.05" height="28.18" fill="#ce9898" stroke="none" stroke-width="1"/>
<rect x="325.8" y="220.06" width="6.05" height="28.18" fill="#e3c4c4" stroke="none" stroke-width="1"/>
<rect x="331.5" y="220.06" width="6.05" height="28.18" fill="#e3c4c4" stroke="none" stroke-width="1"/>
<rect x="337.2" y="220.06" width="6.05" height="28.18" fill="#f5eaea" stroke="none" stroke-width="1"/>
<rect x="342.9" y="220.06" width="6.05" height="28.18" fill="#ae5353" stroke="none" stroke-width="1"/>
<rect x="348.6" y="220.06" width="6.05" height="28.18" fill="#c17c7c" stroke="none" stroke-width="1"/>
<rect x="354.3" y="220.06" width="6.05" height="28.18" fill="#c17c7c" stroke="none" stroke-width="1"/>
<rect x="360" y="220.06" width="6.05" height="28.18" fill="#be7575" stroke="none" stroke-width="1"/>
<rect x="365.7" y="220.06" width="6.05" height="28.18" fill="#e7cbcb" stroke="none" stroke-width="1"/>
<rect x="371.4" y="220.06" width="6.05" height="28.18" fill="#5757ac" stroke="none" stroke-width="1"/>
<rect x="377.1" y="220.06" width="6.05" height="28.18" fill="#ecd6d6" stroke="none" stroke-width="1"/>
<rect x="382.8" y="220.06" width="6.05" height="28.18" fill="#ecd6d6" stroke="none" stroke-width="1"/>
<rect x="388.5" y="220.06" width="6.05" height="28.18" fill="#fcf8f8" stroke="none" stroke-width="1"/>
<rect x="394.2" y="220.06" width="6.05" height="28.18" fill="#dfbaba" stroke="none" stroke-width="1"/>
<rect x="399.9" y="220.06" width="6.05" height="28.18" fill="#a74545" stroke="none" stroke-width="1"/>
<rect x="405.6" y="220.06" width="6.05" height="28.18" fill="#b8b8dc" stroke="none" stroke-width="1"/>
<rect x="86.4" y="247.89" width="6.05" height="28.18" fill="#dbb3b3" stroke="none" stroke-width="1"/>
<rect x="92.1" y="247.89" width="6.05" height="28.18" fill="#dfbaba" stroke="none" stroke-width="1"/>
<rect x="97.8" y="247.89" width="6.05" height="28.18" fill="#d5a5a5" stroke="none" stroke-width="1"/>
<rect x="103.5" y="247.89" width="6.05" height="28.18" fill="#c17c7c" stroke="none" stroke-width="1"/>
<rect x="109.2" y="247.89" width="6.05" height="28.18" fill="#b15a5a" stroke="none" stroke-width="1"/>
<rect x="114.9" y="247.89" width="6.05" height="28.18" fill="#dfbaba" stroke="none" stroke-width="1"/>
<rect x="120.6" y="247.89" width="6.05" height="28.18" fill="#e8cfcf" stroke="none" stroke-width="1"/>
<rect x="126.3" y="247.89" width="6.05" height="28.18" fill="#d29f9f" stroke="none" stroke-width="1"/>
<rect x="132" y="247.89" width="6.05" height="28.18" fill="#972222" stroke="none" stroke-width="1"/>
<rect x="137.7" y="247.89" width="6.05" height="28.18" fill="#cb9191" stroke="none" stroke-width="1"/>
<rect x="143.4" y="247.89" width="6.05" height="28.18" fill="#292996" stroke="none" stroke-width="1"/>
<rect x="149.1" y="247.89" width="6.05" height="28.18" fill="#7070b9" stroke="none" stroke-width="1"/>
<rect x="154.8" y="247.89" width="6.05" height="28.18" fill="#e8cfcf" stroke="none" stroke-width="1"/>
<rect x="160.5" y="247.89" width="6.05" height="28.18" fill="#d29f9f" stroke="none" stroke-width="1"/>
<rect x="166.2" y="247.89" width="6.05" height="28.18" fill="#4242a2" stroke="none" stroke-width="1"/>
<rect x="171.9" y="247.89" width="6.05" height="28.18" fill="#f0f0f8" stroke="none" stroke-width="1"/>
<rect x="177.6" y="247.89" width="6.05" height="28.18" fill="#fafafc" stroke="none" stroke-width="1"/>
<rect x="183.3" y="247.89" width="6.05" height="28.18" fill="#000082" stroke="none" stroke-width="1"/>
<rect x="189" y="247.89" width="6.05" height="28.18" fill="#e5c8c8" stroke="none" stroke-width="1"/>
<rect x="194.7" y="247.89" width="6.05" height="28.18" fill="#b86767" stroke="none" stroke-width="1"/>
<rect x="200.4" y="247.89" width="6.05" height="28.18" fill="#d5a5a5" stroke="none" stroke-width="1"/>
<rect x="206.1" y="247.89" width="6.05" height="28.18" fill="#b15a5a" stroke="none" stroke-width="1"/>
<rect x="211.8" y="247.89" width="6.05" height="28.18" fill="#d29f9f" stroke="none" stroke-width="1"/>
<rect x="217.5" y="247.89" width="6.05" height="28.18" fill="#972222" stroke="none" stroke-width="1"/>
<rect x="223.2" y="247.89" width="6.05" height="28.18" fill="#fcf8f8" stroke="none" stroke-width="1"/>
<rect x="228.9" y="247.89" width="6.05" height="28.18" fill="#9494ca" stroke="none" stroke-width="1"/>
<rect x="234.6" y="247.89" width="6.05" height="28.18" fill="#efdddd" stroke="none" stroke-width="1"/>
<rect x="240.3" y="247.89" width="6.05" height="28.18" fill="#cccce6" stroke="none" stroke-width="1"/>
<rect x="246" y="247.89" width="6.05" height="28.18" fill="#adadd7" stroke="none" stroke-width="1"/>
<rect x="251.7" y="247.89" width="6.05" height="28.18" fill="#d29f9f" stroke="none" stroke-width="1"/>
<rect x="257.4" y="247.89" width="6.05" height="28.18" fill="#ddb7b7" stroke="none" stroke-width="1"/>
<rect x="263.1" y="247.89" width="6.05" height="28.18" fill="#e0e0f0" stroke="none" stroke-width="1"/>
<rect x="268.8" y="247.89" width="6.05" height="28.18" fill="#0f0f8a" stroke="none" stroke-width="1"/>
<rect x="274.5" y="247.89" width="6.05" height="28.18" fill="#4747a5" stroke="none" stroke-width="1"/>
<rect x="280.2" y="247.89" width="6.05" height="28.18" fill="#fcf8f8" stroke="none" stroke-width="1"/>
<rect x="285.9" y="247.89" width="6.05" height="28.18" fill="#d5a5a5" stroke="none" stroke-width="1"/>
<rect x="291.6" y="247.89" width="6.05" height="28.18" fill="#4747a5" stroke="none" stroke-width="1"/>
<rect x="297.3" y="247.89" width="6.05" height="28.18" fill="#e2c1c1" stroke="none" stroke-width="1"/>
<rect x="303" y="247.89" width="6.05" height="28.18" fill="#dfbaba" stroke="none" stroke-width="1"/>
<rect x="308.7" y="247.89" width="6.05" height="28.18" fill="#4242a2" stroke="none" stroke-width="1"/>
<rect x="314.4" y="247.89" width="6.05" height="28.18" fill="#ffffff" stroke="none" stroke-width="1"/>
<rect x="320.1" y="247.89" width="6.05" height="28.18" fill="#ce9898" stroke="none" stroke-width="1"/>
<rect x="325.8" y="247.89" width="6.05" height="28.18" fill="#e3c4c4" stroke="none" stroke-width="1"/>
<rect x="331.5" y="247.89" width="6.05" height="28.18" fill="#e3c4c4" stroke="none" stroke-width="1"/>
<rect x="337.2" y="247.89" width="6.05" height="28.18" fill="#f5eaea" stroke="none" stroke-width="1"/>
<rect x="342.9" y="247.89" width="6.05" height="28.18" fill="#ae5353" stroke="none" stroke-width="1"/>
<rect x="348.6" y="247.89" width="6.05" height="28.18" fill="#c17c7c" stroke="none" stroke-width="1"/>
<rect x="354.3" y="247.89" width="6.05" height="28.18" fill="#c17c7c" stroke="none" stroke-width="1"/>
<rect x="360" y="247.89" width="6.05" height="28.18" fill="#be7575" stroke="none" stroke-width="1"/>
<rect x="365.7" y="247.89" width="6.05" height="28.18" fill="#e5c8c8" stroke="none" stroke-width="1"/>
<rect x="371.4" y="247.89" width="6.05" height="28.18" fill="#5757ac" stroke="none" stroke-width="1"/>
<rect x="377.1" y="247.89" width="6.05" height="28.18" fill="#ecd6d6" stroke="none" stroke-width="1"/>
<rect x="382.8" y="247.89" width="6.05" height="28.18" fill="#ecd6d6" stroke="none" stroke-width="1"/>
<rect x="388.5" y="247.89" width="6.05" height="28.18" fill="#fcf8f8" stroke="none" stroke-width="1"/>
<rect x="394.2" y="247.89" width="6.05" height="28.18" fill="#dfbaba" stroke="none" stroke-width="1"/>
<rect x="399.9" y="247.89" width="6.05" height="28.18" fill="#a74545" stroke="none" stroke-width="1"/>
<rect x="405.6" y="247.89" width="6.05" height="28.18" fill="#b8b8dc" stroke="none" stroke-width="1"/>
<rect x="86.4" y="275.72" width="6.05" height="28.18" fill="#dbb3b3" stroke="none" stroke-width="1"/>
<rect x="92.1" y="275.72" width="6.05" height="28.18" fill="#e6e6f2" stroke="none" stroke-width="1"/>
<rect x="97.8" y="275.72" width="6.05" height="28.18" fill="#f5eaea" stroke="none" stroke-width="1"/>
<rect x="103.5" y="275.72" width="6.05" height="28.18" fill="#c17c7c" stroke="none" stroke-width="1"/>
<rect x="109.2" y="275.72" width="6.05" height="28.18" fill="#911515" stroke="none" stroke-width="1"/>
<rect x="114.9" y="275.72" width="6.05" height="28.18" fill="#b86767" stroke="none" stroke-width="1"/>
<rect x="120.6" y="275.72" width="6.05" height="28.18" fill="#e6e6f2" stroke="none" stroke-width="1"/>
<rect x="126.3" y="275.72" width="6.05" height="28.18" fill="#e8cfcf" stroke="none" stroke-width="1"/>
<rect x="132" y="275.72" width="6.05" height="28.18" fill="#b15a5a" stroke="none" stroke-width="1"/>
<rect x="137.7" y="275.72" width="6.05" height="28.18" fill="#c88a8a" stroke="none" stroke-width="1"/>
<rect x="143.4" y="275.72" width="6.05" height="28.18" fill="#14148c" stroke="none" stroke-width="1"/>
<rect x="149.1" y="275.72" width="6.05" height="28.18" fill="#6666b4" stroke="none" stroke-width="1"/>
<rect x="154.8" y="275.72" width="6.05" height="28.18" fill="#ce9898" stroke="none" stroke-width="1"/>
<rect x="160.5" y="275.72" width="6.05" height="28.18" fill="#b86767" stroke="none" stroke-width="1"/>
<rect x="166.2" y="275.72" width="6.05" height="28.18" fill="#a3a3d2" stroke="none" stroke-width="1"/>
<rect x="171.9" y="275.72" width="6.05" height="28.18" fill="#f0f0f8" stroke="none" stroke-width="1"/>
<rect x="177.6" y="275.72" width="6.05" height="28.18" fill="#f3f3f9" stroke="none" stroke-width="1"/>
<rect x="183.3" y="275.72" width="6.05" height="28.18" fill="#1f1f91" stroke="none" stroke-width="1"/>
<rect x="189" y="275.72" width="6.05" height="28.18" fill="#dfbaba" stroke="none" stroke-width="1"/>
<rect x="194.7" y="275.72" width="6.05" height="28.18" fill="#ce9898" stroke="none" stroke-width="1"/>
<rect x="200.4" y="275.72" width="6.05" height="28.18" fill="#d5a5a5" stroke="none" stroke-width="1"/>
<rect x="206.1" y="275.72" width="6.05" height="28.18" fill="#d29f9f" stroke="none" stroke-width="1"/>
<rect x="211.8" y="275.72" width="6.05" height="28.18" fill="#f5eaea" stroke="none" stroke-width="1"/>
<rect x="217.5" y="275.72" width="6.05" height="28.18" fill="#bb6e6e" stroke="none" stroke-width="1"/>
<rect x="223.2" y="275.72" width="6.05" height="28.18" fill="#efdddd" stroke="none" stroke-width="1"/>
<rect x="228.9" y="275.72" width="6.05" height="28.18" fill="#292996" stroke="none" stroke-width="1"/>
<rect x="234.6" y="275.72" width="6.05" height="28.18" fill="#d1d1e9" stroke="none" stroke-width="1"/>
<rect x="240.3" y="275.72" width="6.05" height="28.18" fill="#f0f0f8" stroke="none" stroke-width="1"/>
<rect x="246" y="275.72" width="6.05" height="28.18" fill="#6666b4" stroke="none" stroke-width="1"/>
<rect x="251.7" y="275.72" width="6.05" height="28.18" fill="#ecd6d6" stroke="none" stroke-width="1"/>
<rect x="257.4" y="275.72" width="6.05" height="28.18" fill="#dbb3b3" stroke="none" stroke-width="1"/>
<rect x="263.1" y="275.72" width="6.05" height="28.18" fill="#e0e0f0" stroke="none" stroke-width="1"/>
<rect x="268.8" y="275.72" width="6.05" height="28.18" fill="#4d4da8" stroke="none" stroke-width="1"/>
<rect x="274.5" y="275.72" width="6.05" height="28.18" fill="#000082" stroke="none" stroke-width="1"/>
<rect x="280.2" y="275.72" width="6.05" height="28.18" fill="#dbdbed" stroke="none" stroke-width="1"/>
<rect x="285.9" y="275.72" width="6.05" height="28.18" fill="#d5a5a5" stroke="none" stroke-width="1"/>
<rect x="291.6" y="275.72" width="6.05" height="28.18" fill="#292996" stroke="none" stroke-width="1"/>
<rect x="297.3" y="275.72" width="6.05" height="28.18" fill="#dbb3b3" stroke="none" stroke-width="1"/>
<rect x="303" y="275.72" width="6.05" height="28.18" fill="#ecd6d6" stroke="none" stroke-width="1"/>
<rect x="308.7" y="275.72" width="6.05" height="28.18" fill="#000082" stroke="none" stroke-width="1"/>
<rect x="314.4" y="275.72" width="6.05" height="28.18" fill="#e6e6f2" stroke="none" stroke-width="1"/>
<rect x="320.1" y="275.72" width="6.05" height="28.18" fill="#e5c8c8" stroke="none" stroke-width="1"/>
<rect x="325.8" y="275.72" width="6.05" height="28.18" fill="#fcf8f8" stroke="none" stroke-width="1"/>
<rect x="331.5" y="275.72" width="6.05" height="28.18" fill="#c7c7e4" stroke="none" stroke-width="1"/>
<rect x="337.2" y="275.72" width="6.05" height="28.18" fill="#c2c2e1" stroke="none" stroke-width="1"/>
<rect x="342.9" y="275.72" width="6.05" height="28.18" fill="#c17c7c" stroke="none" stroke-width="1"/>
<rect x="348.6" y="275.72" width="6.05" height="28.18" fill="#c17c7c" stroke="none" stroke-width="1"/>
<rect x="354.3" y="275.72" width="6.05" height="28.18" fill="#d5a5a5" stroke="none" stroke-width="1"/>
<rect x="360" y="275.72" width="6.05" height="28.18" fill="#c88a8a" stroke="none" stroke-width="1"/>
<rect x="365.7" y="275.72" width="6.05" height="28.18" fill="#ecd6d6" stroke="none" stroke-width="1"/>
<rect x="371.4" y="275.72" width="6.05" height="28.18" fill="#4d4da8" stroke="none" stroke-width="1"/>
<rect x="377.1" y="275.72" width="6.05" height="28.18" fill="#f7eeee" stroke="none" stroke-width="1"/>
<rect x="382.8" y="275.72" width="6.05" height="28.18" fill="#efdddd" stroke="none" stroke-width="1"/>
<rect x="388.5" y="275.72" width="6.05" height="28.18" fill="#f5f5fa" stroke="none" stroke-width="1"/>
<rect x="394.2" y="275.72" width="6.05" height="28.18" fill="#ebebf5" stroke="none" stroke-width="1"/>
<rect x="399.9" y="275.72" width="6.05" height="28.18" fill="#d5a5a5" stroke="none" stroke-width="1"/>
<rect x="405.6" y="275.72" width="6.05" height="28.18" fill="#9999cd" stroke="none" stroke-width="1"/>
<rect x="86.4" y="303.55" width="6.05" height="28.18" fill="#dbb3b3" stroke="none" stroke-width="1"/>
<rect x="92.1" y="303.55" width="6.05" height="28.18" fill="#e6e6f2" stroke="none" stroke-width="1"/>
<rect x="97.8" y="303.55" width="6.05" height="28.18" fill="#f5eaea" stroke="none" stroke-width="1"/>
<rect x="103.5" y="303.55" width="6.05" height="28.18" fill="#c17c7c" stroke="none" stroke-width="1"/>
<rect x="109.2" y="303.55" width="6.05" height="28.18" fill="#911515" stroke="none" stroke-width="1"/>
<rect x="114.9" y="303.55" width="6.05" height="28.18" fill="#b86767" stroke="none" stroke-width="1"/>
<rect x="120.6" y="303.55" width="6.05" height="28.18" fill="#e6e6f2" stroke="none" stroke-width="1"/>
<rect x="126.3" y="303.55" width="6.05" height="28.18" fill="#e5c8c8" stroke="none" stroke-width="1"/>
<rect x="132" y="303.55" width="6.05" height="28.18" fill="#b15a5a" stroke="none" stroke-width="1"/>
<rect x="137.7" y="303.55" width="6.05" height="28.18" fill="#c58383" stroke="none" stroke-width="1"/>
<rect x="143.4" y="303.55" width="6.05" height="28.18" fill="#14148c" stroke="none" stroke-width="1"/>
<rect x="149.1" y="303.55" width="6.05" height="28.18" fill="#6666b4" stroke="none" stroke-width="1"/>
<rect x="154.8" y="303.55" width="6.05" height="28.18" fill="#ddb7b7" stroke="none" stroke-width="1"/>
<rect x="160.5" y="303.55" width="6.05" height="28.18" fill="#bb6e6e" stroke="none" stroke-width="1"/>
<rect x="166.2" y="303.55" width="6.05" height="28.18" fill="#a3a3d2" stroke="none" stroke-width="1"/>
<rect x="171.9" y="303.55" width="6.05" height="28.18" fill="#f0f0f8" stroke="none" stroke-width="1"/>
<rect x="177.6" y="303.55" width="6.05" height="28.18" fill="#f3f3f9" stroke="none" stroke-width="1"/>
<rect x="183.3" y="303.55" width="6.05" height="28.18" fill="#1f1f91" stroke="none" stroke-width="1"/>
<rect x="189" y="303.55" width="6.05" height="28.18" fill="#dfbaba" stroke="none" stroke-width="1"/>
<rect x="194.7" y="303.55" width="6.05" height="28.18" fill="#ce9898" stroke="none" stroke-width="1"/>
<rect x="200.4" y="303.55" width="6.05" height="28.18" fill="#d5a5a5" stroke="none" stroke-width="1"/>
<rect x="206.1" y="303.55" width="6.05" height="28.18" fill="#dbb3b3" stroke="none" stroke-width="1"/>
<rect x="211.8" y="303.55" width="6.05" height="28.18" fill="#f5eaea" stroke="none" stroke-width="1"/>
<rect x="217.5" y="303.55" width="6.05" height="28.18" fill="#bb6e6e" stroke="none" stroke-width="1"/>
<rect x="223.2" y="303.55" width="6.05" height="28.18" fill="#f2e3e3" stroke="none" stroke-width="1"/>
<rect x="228.9" y="303.55" width="6.05" height="28.18" fill="#292996" stroke="none" stroke-width="1"/>
<rect x="234.6" y="303.55" width="6.05" height="28.18" fill="#d1d1e9" stroke="none" stroke-width="1"/>
<rect x="240.3" y="303.55" width="6.05" height="28.18" fill="#f0f0f8" stroke="none" stroke-width="1"/>
<rect x="246" y="303.55" width="6.05" height="28.18" fill="#6666b4" stroke="none" stroke-width="1"/>
<rect x="251.7" y="303.55" width="6.05" height="28.18" fill="#ecd6d6" stroke="none" stroke-width="1"/>
<rect x="257.4" y="303.55" width="6.05" height="28.18" fill="#dbb3b3" stroke="none" stroke-width="1"/>
<rect x="263.1" y="303.55" width="6.05" height="28.18" fill="#e0e0f0" stroke="none" stroke-width="1"/>
<rect x="268.8" y="303.55" width="6.05" height="28.18" fill="#4d4da8" stroke="none" stroke-width="1"/>
<rect x="274.5" y="303.55" width="6.05" height="28.18" fill="#000082" stroke="none" stroke-width="1"/>
<rect x="280.2" y="303.55" width="6.05" height="28.18" fill="#dbdbed" stroke="none" stroke-width="1"/>
<rect x="285.9" y="303.55" width="6.05" height="28.18" fill="#d5a5a5" stroke="none" stroke-width="1"/>
<rect x="291.6" y="303.55" width="6.05" height="28.18" fill="#292996" stroke="none" stroke-width="1"/>
<rect x="297.3" y="303.55" width="6.05" height="28.18" fill="#dbb3b3" stroke="none" stroke-width="1"/>
<rect x="303" y="303.55" width="6.05" height="28.18" fill="#ecd6d6" stroke="none" stroke-width="1"/>
<rect x="308.7" y="303.55" width="6.05" height="28.18" fill="#000082" stroke="none" stroke-width="1"/>
<rect x="314.4" y="303.55" width="6.05" height="28.18" fill="#e6e6f2" stroke="none" stroke-width="1"/>
<rect x="320.1" y="303.55" width="6.05" height="28.18" fill="#dbb3b3" stroke="none" stroke-width="1"/>
<rect x="325.8" y="303.55" width="6.05" height="28.18" fill="#fcf8f8" stroke="none" stroke-width="1"/>
<rect x="331.5" y="303.55" width="6.05" height="28.18" fill="#c7c7e4" stroke="none" stroke-width="1"/>
<rect x="337.2" y="303.55" width="6.05" height="28.18" fill="#c2c2e1" stroke="none" stroke-width="1"/>
<rect x="342.9" y="303.55" width="6.05" height="28.18" fill="#c17c7c" stroke="none" stroke-width="1"/>
<rect x="348.6" y="303.55" width="6.05" height="28.18" fill="#c17c7c" stroke="none" stroke-width="1"/>
<rect x="354.3" y="303.55" width="6.05" height="28.18" fill="#d5a5a5" stroke="none" stroke-width="1"/>
<rect x="360" y="303.55" width="6.05" height="28.18" fill="#be7575" stroke="none" stroke-width="1"/>
<rect x="365.7" y="303.55" width="6.05" height="28.18" fill="#ecd6d6" stroke="none" stroke-width="1"/>
<rect x="371.4" y="303.55" width="6.05" height="28.18" fill="#4d4da8" stroke="none" stroke-width="1"/>
<rect x="377.1" y="303.55" width="6.05" height="28.18" fill="#f7eeee" stroke="none" stroke-width="1"/>
<rect x="382.8" y="303.55" width="6.05" height="28.18" fill="#efdddd" stroke="none" stroke-width="1"/>
<rect x="388.5" y="303.55" width="6.05" height="28.18" fill="#f5f5fa" stroke="none" stroke-width="1"/>
<rect x="394.2" y="303.55" width="6.05" height="28.18" fill="#ebebf5" stroke="none" stroke-width="1"/>
<rect x="399.9" y="303.55" width="6.05" height="28.18" fill="#d5a5a5" stroke="none" stroke-width="1"/>
<rect x="405.6" y="303.55" width="6.05" height="28.18" fill="#9999cd" stroke="none" stroke-width="1"/>
<rect x="86.4" y="331.38" width="6.05" height="28.18" fill="#faf5f5" stroke="none" stroke-width="1"/>
<rect x="92.1" y="331.38" width="6.05" height="28.18" fill="#000082" stroke="none" stroke-width="1"/>
<rect x="97.8" y="331.38" width="6.05" height="28.18" fill="#d5a5a5" stroke="none" stroke-width="1"/>
<rect x="103.5" y="331.38" width="6.05" height="28.18" fill="#ce9898" stroke="none" stroke-width="1"/>
<rect x="109.2" y="331.38" width="6.05" height="28.18" fill="#d5a5a5" stroke="none" stroke-width="1"/>
<rect x="114.9" y="331.38" width="6.05" height="28.18" fill="#dfbaba" stroke="none" stroke-width="1"/>
<rect x="120.6" y="331.38" width="6.05" height="28.18" fill="#dbb3b3" stroke="none" stroke-width="1"/>
<rect x="126.3" y="331.38" width="6.05" height="28.18" fill="#911515" stroke="none" stroke-width="1"/>
<rect x="132" y="331.38" width="6.05" height="28.18" fill="#cb9191" stroke="none" stroke-width="1"/>
<rect x="137.7" y="331.38" width="6.05" height="28.18" fill="#c58383" stroke="none" stroke-width="1"/>
<rect x="143.4" y="331.38" width="6.05" height="28.18" fill="#a3a3d2" stroke="none" stroke-width="1"/>
<rect x="149.1" y="331.38" width="6.05" height="28.18" fill="#6666b4" stroke="none" stroke-width="1"/>
<rect x="154.8" y="331.38" width="6.05" height="28.18" fill="#f7eeee" stroke="none" stroke-width="1"/>
<rect x="160.5" y="331.38" width="6.05" height="28.18" fill="#d5a5a5" stroke="none" stroke-width="1"/>
<rect x="166.2" y="331.38" width="6.05" height="28.18" fill="#bdbdde" stroke="none" stroke-width="1"/>
<rect x="171.9" y="331.38" width="6.05" height="28.18" fill="#f0f0f8" stroke="none" stroke-width="1"/>
<rect x="177.6" y="331.38" width="6.05" height="28.18" fill="#fcfcfe" stroke="none" stroke-width="1"/>
<rect x="183.3" y="331.38" width="6.05" height="28.18" fill="#000082" stroke="none" stroke-width="1"/>
<rect x="189" y="331.38" width="6.05" height="28.18" fill="#e8cfcf" stroke="none" stroke-width="1"/>
<rect x="194.7" y="331.38" width="6.05" height="28.18" fill="#e5c8c8" stroke="none" stroke-width="1"/>
<rect x="200.4" y="331.38" width="6.05" height="28.18" fill="#ffffff" stroke="none" stroke-width="1"/>
<rect x="206.1" y="331.38" width="6.05" height="28.18" fill="#ce9898" stroke="none" stroke-width="1"/>
<rect x="211.8" y="331.38" width="6.05" height="28.18" fill="#ecd6d6" stroke="none" stroke-width="1"/>
<rect x="217.5" y="331.38" width="6.05" height="28.18" fill="#911515" stroke="none" stroke-width="1"/>
<rect x="223.2" y="331.38" width="6.05" height="28.18" fill="#dbb3b3" stroke="none" stroke-width="1"/>
<rect x="228.9" y="331.38" width="6.05" height="28.18" fill="#4d4da8" stroke="none" stroke-width="1"/>
<rect x="234.6" y="331.38" width="6.05" height="28.18" fill="#be7575" stroke="none" stroke-width="1"/>
<rect x="240.3" y="331.38" width="6.05" height="28.18" fill="#972222" stroke="none" stroke-width="1"/>
<rect x="246" y="331.38" width="6.05" height="28.18" fill="#d29f9f" stroke="none" stroke-width="1"/>
<rect x="251.7" y="331.38" width="6.05" height="28.18" fill="#c58383" stroke="none" stroke-width="1"/>
<rect x="257.4" y="331.38" width="6.05" height="28.18" fill="#cb9191" stroke="none" stroke-width="1"/>
<rect x="263.1" y="331.38" width="6.05" height="28.18" fill="#ffffff" stroke="none" stroke-width="1"/>
<rect x="268.8" y="331.38" width="6.05" height="28.18" fill="#1f1f91" stroke="none" stroke-width="1"/>
<rect x="274.5" y="331.38" width="6.05" height="28.18" fill="#5c5caf" stroke="none" stroke-width="1"/>
<rect x="280.2" y="331.38" width="6.05" height="28.18" fill="#ce9898" stroke="none" stroke-width="1"/>
<rect x="285.9" y="331.38" width="6.05" height="28.18" fill="#b86767" stroke="none" stroke-width="1"/>
<rect x="291.6" y="331.38" width="6.05" height="28.18" fill="#b8b8dc" stroke="none" stroke-width="1"/>
<rect x="297.3" y="331.38" width="6.05" height="28.18" fill="#e7cbcb" stroke="none" stroke-width="1"/>
<rect x="303" y="331.38" width="6.05" height="28.18" fill="#dfbaba" stroke="none" stroke-width="1"/>
<rect x="308.7" y="331.38" width="6.05" height="28.18" fill="#8f8fc8" stroke="none" stroke-width="1"/>
<rect x="314.4" y="331.38" width="6.05" height="28.18" fill="#f5eaea" stroke="none" stroke-width="1"/>
<rect x="320.1" y="331.38" width="6.05" height="28.18" fill="#f0e0e0" stroke="none" stroke-width="1"/>
<rect x="325.8" y="331.38" width="6.05" height="28.18" fill="#f0e0e0" stroke="none" stroke-width="1"/>
<rect x="331.5" y="331.38" width="6.05" height="28.18" fill="#f5f5fa" stroke="none" stroke-width="1"/>
<rect x="337.2" y="331.38" width="6.05" height="28.18" fill="#5252aa" stroke="none" stroke-width="1"/>
<rect x="342.9" y="331.38" width="6.05" height="28.18" fill="#c17c7c" stroke="none" stroke-width="1"/>
<rect x="348.6" y="331.38" width="6.05" height="28.18" fill="#dbb3b3" stroke="none" stroke-width="1"/>
<rect x="354.3" y="331.38" width="6.05" height="28.18" fill="#dbb3b3" stroke="none" stroke-width="1"/>
<rect x="360" y="331.38" width="6.05" height="28.18" fill="#dfbaba" stroke="none" stroke-width="1"/>
<rect x="365.7" y="331.38" width="6.05" height="28.18" fill="#a74545" stroke="none" stroke-width="1"/>
<rect x="371.4" y="331.38" width="6.05" height="28.18" fill="#f5f5fa" stroke="none" stroke-width="1"/>
<rect x="377.1" y="331.38" width="6.05" height="28.18" fill="#ecd6d6" stroke="none" stroke-width="1"/>
<rect x="382.8" y="331.38" width="6.05" height="28.18" fill="#e7cbcb" stroke="none" stroke-width="1"/>
<rect x="388.5" y="331.38" width="6.05" height="28.18" fill="#f0e0e0" stroke="none" stroke-width="1"/>
<rect x="394.2" y="331.38" width="6.05" height="28.18" fill="#d29f9f" stroke="none" stroke-width="1"/>
<rect x="399.9" y="331.38" width="6.05" height="28.18" fill="#d5a5a5" stroke="none" stroke-width="1"/>
<rect x="405.6" y="331.38" width="6.05" height="28.18" fill="#646464" stroke="none" stroke-width="1"/>
<rect x="86.4" y="359.21" width="6.05" height="28.18" fill="#faf5f5" stroke="none" stroke-width="1"/>
<rect x="92.1" y="359.21" width="6.05" height="28.18" fill="#000082" stroke="none" stroke-width="1"/>
<rect x="97.8" y="359.21" width="6.05" height="28.18" fill="#dfbaba" stroke="none" stroke-width="1"/>
<rect x="103.5" y="359.21" width="6.05" height="28.18" fill="#d5a5a5" stroke="none" stroke-width="1"/>
<rect x="109.2" y="359.21" width="6.05" height="28.18" fill="#dbb3b3" stroke="none" stroke-width="1"/>
<rect x="114.9" y="359.21" width="6.05" height="28.18" fill="#ecd6d6" stroke="none" stroke-width="1"/>
<rect x="120.6" y="359.21" width="6.05" height="28.18" fill="#ecd6d6" stroke="none" stroke-width="1"/>
<rect x="126.3" y="359.21" width="6.05" height="28.18" fill="#941c1c" stroke="none" stroke-width="1"/>
<rect x="132" y="359.21" width="6.05" height="28.18" fill="#dbb3b3" stroke="none" stroke-width="1"/>
<rect x="137.7" y="359.21" width="6.05" height="28.18" fill="#cb9191" stroke="none" stroke-width="1"/>
<rect x="143.4" y="359.21" width="6.05" height="28.18" fill="#adadd7" stroke="none" stroke-width="1"/>
<rect x="149.1" y="359.21" width="6.05" height="28.18" fill="#6666b4" stroke="none" stroke-width="1"/>
<rect x="154.8" y="359.21" width="6.05" height="28.18" fill="#f7eeee" stroke="none" stroke-width="1"/>
<rect x="160.5" y="359.21" width="6.05" height="28.18" fill="#d5a5a5" stroke="none" stroke-width="1"/>
<rect x="166.2" y="359.21" width="6.05" height="28.18" fill="#b8b8dc" stroke="none" stroke-width="1"/>
<rect x="171.9" y="359.21" width="6.05" height="28.18" fill="#f0f0f8" stroke="none" stroke-width="1"/>
<rect x="177.6" y="359.21" width="6.05" height="28.18" fill="#fcfcfe" stroke="none" stroke-width="1"/>
<rect x="183.3" y="359.21" width="6.05" height="28.18" fill="#000082" stroke="none" stroke-width="1"/>
<rect x="189" y="359.21" width="6.05" height="28.18" fill="#e8cfcf" stroke="none" stroke-width="1"/>
<rect x="194.7" y="359.21" width="6.05" height="28.18" fill="#e2c1c1" stroke="none" stroke-width="1"/>
<rect x="200.4" y="359.21" width="6.05" height="28.18" fill="#faf5f5" stroke="none" stroke-width="1"/>
<rect x="206.1" y="359.21" width="6.05" height="28.18" fill="#ce9898" stroke="none" stroke-width="1"/>
<rect x="211.8" y="359.21" width="6.05" height="28.18" fill="#ecd6d6" stroke="none" stroke-width="1"/>
<rect x="217.5" y="359.21" width="6.05" height="28.18" fill="#911515" stroke="none" stroke-width="1"/>
<rect x="223.2" y="359.21" width="6.05" height="28.18" fill="#dbb3b3" stroke="none" stroke-width="1"/>
<rect x="228.9" y="359.21" width="6.05" height="28.18" fill="#4d4da8" stroke="none" stroke-width="1"/>
<rect x="234.6" y="359.21" width="6.05" height="28.18" fill="#be7575" stroke="none" stroke-width="1"/>
<rect x="240.3" y="359.21" width="6.05" height="28.18" fill="#972222" stroke="none" stroke-width="1"/>
<rect x="246" y="359.21" width="6.05" height="28.18" fill="#d29f9f" stroke="none" stroke-width="1"/>
<rect x="251.7" y="359.21" width="6.05" height="28.18" fill="#c58383" stroke="none" stroke-width="1"/>
<rect x="257.4" y="359.21" width="6.05" height="28.18" fill="#cb9191" stroke="none" stroke-width="1"/>
<rect x="263.1" y="359.21" width="6.05" height="28.18" fill="#fdfdfe" stroke="none" stroke-width="1"/>
<rect x="268.8" y="359.21" width="6.05" height="28.18" fill="#1f1f91" stroke="none" stroke-width="1"/>
<rect x="274.5" y="359.21" width="6.05" height="28.18" fill="#5c5caf" stroke="none" stroke-width="1"/>
<rect x="280.2" y="359.21" width="6.05" height="28.18" fill="#ce9898" stroke="none" stroke-width="1"/>
<rect x="285.9" y="359.21" width="6.05" height="28.18" fill="#b86767" stroke="none" stroke-width="1"/>
<rect x="291.6" y="359.21" width="6.05" height="28.18" fill="#c7c7e4" stroke="none" stroke-width="1"/>
<rect x="297.3" y="359.21" width="6.05" height="28.18" fill="#e8cfcf" stroke="none" stroke-width="1"/>
<rect x="303" y="359.21" width="6.05" height="28.18" fill="#dfbaba" stroke="none" stroke-width="1"/>
<rect x="308.7" y="359.21" width="6.05" height="28.18" fill="#9e9ed0" stroke="none" stroke-width="1"/>
<rect x="314.4" y="359.21" width="6.05" height="28.18" fill="#ecd6d6" stroke="none" stroke-width="1"/>
<rect x="320.1" y="359.21" width="6.05" height="28.18" fill="#f0e0e0" stroke="none" stroke-width="1"/>
<rect x="325.8" y="359.21" width="6.05" height="28.18" fill="#d5a5a5" stroke="none" stroke-width="1"/>
<rect x="331.5" y="359.21" width="6.05" height="28.18" fill="#fafafc" stroke="none" stroke-width="1"/>
<rect x="337.2" y="359.21" width="6.05" height="28.18" fill="#7a7abe" stroke="none" stroke-width="1"/>
<rect x="342.9" y="359.21" width="6.05" height="28.18" fill="#ae5353" stroke="none" stroke-width="1"/>
<rect x="348.6" y="359.21" width="6.05" height="28.18" fill="#dbb3b3" stroke="none" stroke-width="1"/>
<rect x="354.3" y="359.21" width="6.05" height="28.18" fill="#d29f9f" stroke="none" stroke-width="1"/>
<rect x="360" y="359.21" width="6.05" height="28.18" fill="#dbb3b3" stroke="none" stroke-width="1"/>
<rect x="365.7" y="359.21" width="6.05" height="28.18" fill="#9a2929" stroke="none" stroke-width="1"/>
<rect x="371.4" y="359.21" width="6.05" height="28.18" fill="#fcfcfe" stroke="none" stroke-width="1"/>
<rect x="377.1" y="359.21" width="6.05" height="28.18" fill="#ecd6d6" stroke="none" stroke-width="1"/>
<rect x="382.8" y="359.21" width="6.05" height="28.18" fill="#e7cbcb" stroke="none" stroke-width="1"/>
<rect x="388.5" y="359.21" width="6.05" height="28.18" fill="#f0e0e0" stroke="none" stroke-width="1"/>
<rect x="394.2" y="359.21" width="6.05" height="28.18" fill="#d29f9f" stroke="none" stroke-width="1"/>
<rect x="399.9" y="359.21" width="6.05" height="28.18" fill="#d5a5a5" stroke="none" stroke-width="1"/>
<rect x="405.6" y="359.21" width="6.05" height="28.18" fill="#646464" stroke="none" stroke-width="1"/>
<rect x="86.4" y="164.4" width="324.9" height="222.64" fill="none" stroke="#111" stroke-width="1.1"/>
<line x1="83.8" y1="178.31" x2="86.4" y2="178.31" stroke="#111" stroke-width="0.9"/>
<text transform="translate(67.7 177.31) scale(1 1.04)" font-size="9.6" text-anchor="middle" font-weight="normal" fill="#1a1a1a" stroke="#1a1a1a" stroke-width="0.22">Apo</text>
<text transform="translate(67.7 186.22) scale(1 1.04)" font-size="9.6" text-anchor="middle" font-weight="normal" fill="#1a1a1a" stroke="#1a1a1a" stroke-width="0.22">(PF1)</text>
<line x1="83.8" y1="206.15" x2="86.4" y2="206.15" stroke="#111" stroke-width="0.9"/>
<text transform="translate(67.7 205.15) scale(1 1.04)" font-size="9.6" text-anchor="middle" font-weight="normal" fill="#1a1a1a" stroke="#1a1a1a" stroke-width="0.22">Apo</text>
<text transform="translate(67.7 214.05) scale(1 1.04)" font-size="9.6" text-anchor="middle" font-weight="normal" fill="#1a1a1a" stroke="#1a1a1a" stroke-width="0.22">(PF2)</text>
<line x1="83.8" y1="233.97" x2="86.4" y2="233.97" stroke="#111" stroke-width="0.9"/>
<text transform="translate(53.23 232.97) scale(1 1.04)" font-size="9.6" text-anchor="middle" font-weight="normal" fill="#1a1a1a" stroke="#1a1a1a" stroke-width="0.22">Hep-remod-1</text>
<text transform="translate(53.23 241.88) scale(1 1.04)" font-size="9.6" text-anchor="middle" font-weight="normal" fill="#1a1a1a" stroke="#1a1a1a" stroke-width="0.22">(PF1)</text>
<line x1="83.8" y1="261.81" x2="86.4" y2="261.81" stroke="#111" stroke-width="0.9"/>
<text transform="translate(53.23 260.81) scale(1 1.04)" font-size="9.6" text-anchor="middle" font-weight="normal" fill="#1a1a1a" stroke="#1a1a1a" stroke-width="0.22">Hep-remod-1</text>
<text transform="translate(53.23 269.7) scale(1 1.04)" font-size="9.6" text-anchor="middle" font-weight="normal" fill="#1a1a1a" stroke="#1a1a1a" stroke-width="0.22">(PF2)</text>
<line x1="83.8" y1="289.63" x2="86.4" y2="289.63" stroke="#111" stroke-width="0.9"/>
<text transform="translate(53.23 288.63) scale(1 1.04)" font-size="9.6" text-anchor="middle" font-weight="normal" fill="#1a1a1a" stroke="#1a1a1a" stroke-width="0.22">Hep-remod-2</text>
<text transform="translate(53.23 297.53) scale(1 1.04)" font-size="9.6" text-anchor="middle" font-weight="normal" fill="#1a1a1a" stroke="#1a1a1a" stroke-width="0.22">(PF1)</text>
<line x1="83.8" y1="317.47" x2="86.4" y2="317.47" stroke="#111" stroke-width="0.9"/>
<text transform="translate(53.23 316.47) scale(1 1.04)" font-size="9.6" text-anchor="middle" font-weight="normal" fill="#1a1a1a" stroke="#1a1a1a" stroke-width="0.22">Hep-remod-2</text>
<text transform="translate(53.23 325.37) scale(1 1.04)" font-size="9.6" text-anchor="middle" font-weight="normal" fill="#1a1a1a" stroke="#1a1a1a" stroke-width="0.22">(PF2)</text>
<line x1="83.8" y1="345.29" x2="86.4" y2="345.29" stroke="#111" stroke-width="0.9"/>
<text transform="translate(53.23 344.29) scale(1 1.04)" font-size="9.6" text-anchor="middle" font-weight="normal" fill="#1a1a1a" stroke="#1a1a1a" stroke-width="0.22">Hep-remod-3</text>
<text transform="translate(53.23 353.19) scale(1 1.04)" font-size="9.6" text-anchor="middle" font-weight="normal" fill="#1a1a1a" stroke="#1a1a1a" stroke-width="0.22">(PF1)</text>
<line x1="83.8" y1="373.12" x2="86.4" y2="373.12" stroke="#111" stroke-width="0.9"/>
<text transform="translate(53.23 372.12) scale(1 1.04)" font-size="9.6" text-anchor="middle" font-weight="normal" fill="#1a1a1a" stroke="#1a1a1a" stroke-width="0.22">Hep-remod-3</text>
<text transform="translate(53.23 381.02) scale(1 1.04)" font-size="9.6" text-anchor="middle" font-weight="normal" fill="#1a1a1a" stroke="#1a1a1a" stroke-width="0.22">(PF2)</text>
<line x1="89.25" y1="387.04" x2="89.25" y2="389.84" stroke="#111" stroke-width="0.9"/>
<text transform="translate(89.25 399.5) scale(1 1.04)" font-size="9.6" text-anchor="middle" font-weight="normal" fill="#1a1a1a" stroke="#1a1a1a" stroke-width="0.22">38</text>
<line x1="117.75" y1="387.04" x2="117.75" y2="389.84" stroke="#111" stroke-width="0.9"/>
<text transform="translate(117.75 399.5) scale(1 1.04)" font-size="9.6" text-anchor="middle" font-weight="normal" fill="#1a1a1a" stroke="#1a1a1a" stroke-width="0.22">43</text>
<line x1="146.25" y1="387.04" x2="146.25" y2="389.84" stroke="#111" stroke-width="0.9"/>
<text transform="translate(146.25 399.5) scale(1 1.04)" font-size="9.6" text-anchor="middle" font-weight="normal" fill="#1a1a1a" stroke="#1a1a1a" stroke-width="0.22">48</text>
<line x1="174.75" y1="387.04" x2="174.75" y2="389.84" stroke="#111" stroke-width="0.9"/>
<text transform="translate(174.75 399.5) scale(1 1.04)" font-size="9.6" text-anchor="middle" font-weight="normal" fill="#1a1a1a" stroke="#1a1a1a" stroke-width="0.22">53</text>
<line x1="203.25" y1="387.04" x2="203.25" y2="389.84" stroke="#111" stroke-width="0.9"/>
<text transform="translate(203.25 399.5) scale(1 1.04)" font-size="9.6" text-anchor="middle" font-weight="normal" fill="#1a1a1a" stroke="#1a1a1a" stroke-width="0.22">58</text>
<line x1="231.75" y1="387.04" x2="231.75" y2="389.84" stroke="#111" stroke-width="0.9"/>
<text transform="translate(231.75 399.5) scale(1 1.04)" font-size="9.6" text-anchor="middle" font-weight="normal" fill="#1a1a1a" stroke="#1a1a1a" stroke-width="0.22">63</text>
<line x1="260.25" y1="387.04" x2="260.25" y2="389.84" stroke="#111" stroke-width="0.9"/>
<text transform="translate(260.25 399.5) scale(1 1.04)" font-size="9.6" text-anchor="middle" font-weight="normal" fill="#1a1a1a" stroke="#1a1a1a" stroke-width="0.22">68</text>
<line x1="288.75" y1="387.04" x2="288.75" y2="389.84" stroke="#111" stroke-width="0.9"/>
<text transform="translate(288.75 399.5) scale(1 1.04)" font-size="9.6" text-anchor="middle" font-weight="normal" fill="#1a1a1a" stroke="#1a1a1a" stroke-width="0.22">73</text>
<line x1="317.25" y1="387.04" x2="317.25" y2="389.84" stroke="#111" stroke-width="0.9"/>
<text transform="translate(317.25 399.5) scale(1 1.04)" font-size="9.6" text-anchor="middle" font-weight="normal" fill="#1a1a1a" stroke="#1a1a1a" stroke-width="0.22">78</text>
<line x1="345.75" y1="387.04" x2="345.75" y2="389.84" stroke="#111" stroke-width="0.9"/>
<text transform="translate(345.75 399.5) scale(1 1.04)" font-size="9.6" text-anchor="middle" font-weight="normal" fill="#1a1a1a" stroke="#1a1a1a" stroke-width="0.22">83</text>
<line x1="374.25" y1="387.04" x2="374.25" y2="389.84" stroke="#111" stroke-width="0.9"/>
<text transform="translate(374.25 399.5) scale(1 1.04)" font-size="9.6" text-anchor="middle" font-weight="normal" fill="#1a1a1a" stroke="#1a1a1a" stroke-width="0.22">88</text>
<line x1="402.75" y1="387.04" x2="402.75" y2="389.84" stroke="#111" stroke-width="0.9"/>
<text transform="translate(402.75 399.5) scale(1 1.04)" font-size="9.6" text-anchor="middle" font-weight="normal" fill="#1a1a1a" stroke="#1a1a1a" stroke-width="0.22">93</text>
<text transform="translate(251.2 414.8) scale(1 1.04)" font-size="9.6" text-anchor="middle" font-weight="normal" fill="#1a1a1a" stroke="#1a1a1a" stroke-width="0.22">Residue</text>
<text transform="translate(1.5 168.6) scale(1 1.04)" font-size="14" text-anchor="start" font-weight="bold" fill="#111">C</text>
<rect x="423.5" y="225.4" width="10.2" height="120.1" fill="url(#cbar)" stroke="none" stroke-width="1"/>
<line x1="423.5" y1="235.1" x2="425.7" y2="235.1" stroke="#111" stroke-width="0.9"/>
<line x1="431.5" y1="235.1" x2="433.7" y2="235.1" stroke="#111" stroke-width="0.9"/>
<text transform="translate(436 238.5) scale(1 1.04)" font-size="9.6" text-anchor="start" font-weight="normal" fill="#1a1a1a" stroke="#1a1a1a" stroke-width="0.22">-2</text>
<line x1="423.5" y1="274" x2="425.7" y2="274" stroke="#111" stroke-width="0.9"/>
<line x1="431.5" y1="274" x2="433.7" y2="274" stroke="#111" stroke-width="0.9"/>
<text transform="translate(436 277.4) scale(1 1.04)" font-size="9.6" text-anchor="start" font-weight="normal" fill="#1a1a1a" stroke="#1a1a1a" stroke-width="0.22">0</text>
<line x1="423.5" y1="312.9" x2="425.7" y2="312.9" stroke="#111" stroke-width="0.9"/>
<line x1="431.5" y1="312.9" x2="433.7" y2="312.9" stroke="#111" stroke-width="0.9"/>
<text transform="translate(436 316.3) scale(1 1.04)" font-size="9.6" text-anchor="start" font-weight="normal" fill="#1a1a1a" stroke="#1a1a1a" stroke-width="0.22">2</text>
<text transform="translate(452.9 285.2) rotate(90) scale(1 1.04)" font-size="9.8" text-anchor="middle" font-weight="normal" fill="#1a1a1a" stroke="#1a1a1a" stroke-width="0.22" dominant-baseline="central">dG energy (Kcal/mol)</text>
<rect x="526.4" y="233.8" width="154.8" height="154.5" fill="none" stroke="#222" stroke-width="1"/>
<line x1="603.5" y1="233.8" x2="603.5" y2="388.3" stroke="#222" stroke-width="0.9" stroke-dasharray="1,1.3"/>
<line x1="526.4" y1="311.3" x2="681.2" y2="311.3" stroke="#222" stroke-width="0.9" stroke-dasharray="1,1.3"/>
<line x1="526.18" y1="388.3" x2="526.18" y2="391.1" stroke="#222" stroke-width="0.9"/>
<text transform="translate(526.18 403) scale(1 1.04)" font-size="9.6" text-anchor="middle" font-weight="normal" fill="#1a1a1a" stroke="#1a1a1a" stroke-width="0.22">-4</text>
<line x1="564.84" y1="388.3" x2="564.84" y2="391.1" stroke="#222" stroke-width="0.9"/>
<text transform="translate(564.84 403) scale(1 1.04)" font-size="9.6" text-anchor="middle" font-weight="normal" fill="#1a1a1a" stroke="#1a1a1a" stroke-width="0.22">-2</text>
<line x1="603.5" y1="388.3" x2="603.5" y2="391.1" stroke="#222" stroke-width="0.9"/>
<text transform="translate(603.5 403) scale(1 1.04)" font-size="9.6" text-anchor="middle" font-weight="normal" fill="#1a1a1a" stroke="#1a1a1a" stroke-width="0.22">0</text>
<line x1="642.16" y1="388.3" x2="642.16" y2="391.1" stroke="#222" stroke-width="0.9"/>
<text transform="translate(642.16 403) scale(1 1.04)" font-size="9.6" text-anchor="middle" font-weight="normal" fill="#1a1a1a" stroke="#1a1a1a" stroke-width="0.22">2</text>
<line x1="680.82" y1="388.3" x2="680.82" y2="391.1" stroke="#222" stroke-width="0.9"/>
<text transform="translate(680.82 403) scale(1 1.04)" font-size="9.6" text-anchor="middle" font-weight="normal" fill="#1a1a1a" stroke="#1a1a1a" stroke-width="0.22">4</text>
<line x1="523.6" y1="362.9" x2="526.4" y2="362.9" stroke="#222" stroke-width="0.9"/>
<text transform="translate(520.9 366.3) scale(1 1.04)" font-size="9.6" text-anchor="end" font-weight="normal" fill="#1a1a1a" stroke="#1a1a1a" stroke-width="0.22">-2</text>
<line x1="523.6" y1="311.3" x2="526.4" y2="311.3" stroke="#222" stroke-width="0.9"/>
<text transform="translate(520.9 314.7) scale(1 1.04)" font-size="9.6" text-anchor="end" font-weight="normal" fill="#1a1a1a" stroke="#1a1a1a" stroke-width="0.22">0</text>
<line x1="523.6" y1="259.7" x2="526.4" y2="259.7" stroke="#222" stroke-width="0.9"/>
<text transform="translate(520.9 263.1) scale(1 1.04)" font-size="9.6" text-anchor="end" font-weight="normal" fill="#1a1a1a" stroke="#1a1a1a" stroke-width="0.22">2</text>
<text transform="translate(607 415.6) scale(1 1.04)" font-size="9.4" text-anchor="middle" font-weight="normal" fill="#1a1a1a" stroke="#1a1a1a" stroke-width="0.22">PC1 (60.6%)</text>
<text transform="translate(503.8 308) rotate(-90) scale(1 1.04)" font-size="9.4" text-anchor="middle" font-weight="normal" fill="#1a1a1a" stroke="#1a1a1a" stroke-width="0.22" dominant-baseline="central">PC2 (23.9%)</text>
<circle cx="536.8" cy="271.4" r="3.3" fill="#3f7d0a" stroke="#444" stroke-width="0.5"/>
<circle cx="538.3" cy="272.8" r="3.3" fill="#3f7d0a" stroke="#444" stroke-width="0.5"/>
<circle cx="579.1" cy="376.7" r="3.3" fill="#7f7f7f" stroke="#444" stroke-width="0.5"/>
<circle cx="583.2" cy="376.7" r="3.3" fill="#7f7f7f" stroke="#444" stroke-width="0.5"/>
<circle cx="651.7" cy="294.1" r="3.3" fill="#ff7f0e" stroke="#444" stroke-width="0.5"/>
<circle cx="649.8" cy="296.3" r="3.3" fill="#ff7f0e" stroke="#444" stroke-width="0.5"/>
<circle cx="644.5" cy="299.3" r="3.3" fill="#c6f46a" stroke="#444" stroke-width="0.5"/>
<circle cx="646.7" cy="303.3" r="3.3" fill="#c6f46a" stroke="#444" stroke-width="0.5"/>
<text transform="translate(489.3 230.6) scale(1 1.04)" font-size="14" text-anchor="start" font-weight="bold" fill="#111">D</text>
<line x1="167.35" y1="452.2" x2="167.35" y2="630.8" stroke="#f2f2f2" stroke-width="0.6"/>
<line x1="209.45" y1="452.2" x2="209.45" y2="630.8" stroke="#f2f2f2" stroke-width="0.6"/>
<line x1="251.55" y1="452.2" x2="251.55" y2="630.8" stroke="#f2f2f2" stroke-width="0.6"/>
<line x1="293.65" y1="452.2" x2="293.65" y2="630.8" stroke="#f2f2f2" stroke-width="0.6"/>
<line x1="124.6" y1="481.25" x2="317.8" y2="481.25" stroke="#f2f2f2" stroke-width="0.6"/>
<line x1="124.6" y1="522.75" x2="317.8" y2="522.75" stroke="#f2f2f2" stroke-width="0.6"/>
<line x1="124.6" y1="564.25" x2="317.8" y2="564.25" stroke="#f2f2f2" stroke-width="0.6"/>
<line x1="124.6" y1="605.75" x2="317.8" y2="605.75" stroke="#f2f2f2" stroke-width="0.6"/>
<line x1="146.3" y1="452.2" x2="146.3" y2="630.8" stroke="#e6e6e6" stroke-width="0.8"/>
<line x1="188.4" y1="452.2" x2="188.4" y2="630.8" stroke="#e6e6e6" stroke-width="0.8"/>
<line x1="272.6" y1="452.2" x2="272.6" y2="630.8" stroke="#e6e6e6" stroke-width="0.8"/>
<line x1="314.7" y1="452.2" x2="314.7" y2="630.8" stroke="#e6e6e6" stroke-width="0.8"/>
<line x1="124.6" y1="460.5" x2="317.8" y2="460.5" stroke="#e6e6e6" stroke-width="0.8"/>
<line x1="124.6" y1="502" x2="317.8" y2="502" stroke="#e6e6e6" stroke-width="0.8"/>
<line x1="124.6" y1="585" x2="317.8" y2="585" stroke="#e6e6e6" stroke-width="0.8"/>
<line x1="124.6" y1="626.5" x2="317.8" y2="626.5" stroke="#e6e6e6" stroke-width="0.8"/>
<line x1="230.5" y1="452.2" x2="230.5" y2="630.8" stroke="#111" stroke-width="0.9" stroke-dasharray="2.2,1.6"/>
<line x1="124.6" y1="543.5" x2="317.8" y2="543.5" stroke="#111" stroke-width="0.9" stroke-dasharray="2.2,1.6"/>
<line x1="230.5" y1="543.5" x2="229.2" y2="461.6" stroke="#3ab1b8" stroke-width="0.9"/>
<polyline points="231.16,465.17 229.2,461.6 227.36,465.23" fill="none" stroke="#3ab1b8" stroke-width="0.9"/>
<line x1="230.5" y1="543.5" x2="277.4" y2="538.4" stroke="#3ab1b8" stroke-width="0.9"/>
<polyline points="274.03,540.68 277.4,538.4 273.62,536.9" fill="none" stroke="#3ab1b8" stroke-width="0.9"/>
<line x1="230.5" y1="543.5" x2="272.8" y2="559.2" stroke="#3ab1b8" stroke-width="0.9"/>
<polyline points="268.76,559.73 272.8,559.2 270.09,556.17" fill="none" stroke="#3ab1b8" stroke-width="0.9"/>
<line x1="230.5" y1="543.5" x2="219.6" y2="622.8" stroke="#3ab1b8" stroke-width="0.9"/>
<polyline points="218.21,618.97 219.6,622.8 221.97,619.49" fill="none" stroke="#3ab1b8" stroke-width="0.9"/>
<line x1="230.5" y1="543.5" x2="231.5" y2="461.3" stroke="#44b1b6" stroke-width="0.9"/>
<polyline points="233.36,464.92 231.5,461.3 229.56,464.88" fill="none" stroke="#44b1b6" stroke-width="0.9"/>
<line x1="230.5" y1="543.5" x2="185" y2="546.3" stroke="#44b1b6" stroke-width="0.9"/>
<polyline points="188.48,544.18 185,546.3 188.71,547.98" fill="none" stroke="#44b1b6" stroke-width="0.9"/>
<line x1="230.5" y1="543.5" x2="274.2" y2="534.8" stroke="#4cb1b4" stroke-width="0.9"/>
<polyline points="271.04,537.37 274.2,534.8 270.3,533.64" fill="none" stroke="#4cb1b4" stroke-width="0.9"/>
<line x1="230.5" y1="543.5" x2="252.3" y2="616.6" stroke="#4cb1b4" stroke-width="0.9"/>
<polyline points="249.45,613.69 252.3,616.6 253.09,612.61" fill="none" stroke="#4cb1b4" stroke-width="0.9"/>
<line x1="230.5" y1="543.5" x2="177.8" y2="530" stroke="#7fb39f" stroke-width="0.9"/>
<polyline points="181.76,529.05 177.8,530 180.82,532.73" fill="none" stroke="#7fb39f" stroke-width="0.9"/>
<line x1="230.5" y1="543.5" x2="181" y2="576.6" stroke="#82b39d" stroke-width="0.9"/>
<polyline points="182.94,573.02 181,576.6 185.05,576.18" fill="none" stroke="#82b39d" stroke-width="0.9"/>
<line x1="230.5" y1="543.5" x2="275.2" y2="472.4" stroke="#9db489" stroke-width="0.9"/>
<polyline points="274.89,476.46 275.2,472.4 271.68,474.44" fill="none" stroke="#9db489" stroke-width="0.9"/>
<line x1="230.5" y1="543.5" x2="171.2" y2="506.3" stroke="#b1b577" stroke-width="0.9"/>
<polyline points="175.26,506.6 171.2,506.3 173.24,509.82" fill="none" stroke="#b1b577" stroke-width="0.9"/>
<line x1="230.5" y1="543.5" x2="309.1" y2="600.7" stroke="#ea9f18" stroke-width="0.9"/>
<polyline points="305.07,600.12 309.1,600.7 307.31,597.05" fill="none" stroke="#ea9f18" stroke-width="0.9"/>
<line x1="230.5" y1="543.5" x2="133" y2="598.5" stroke="#f45e1d" stroke-width="0.9"/>
<polyline points="135.2,595.08 133,598.5 137.07,598.39" fill="none" stroke="#f45e1d" stroke-width="0.9"/>
<text transform="translate(221.5 461.5) scale(1 1.04)" font-size="9.6" text-anchor="middle" font-weight="normal" fill="#1a1a1a" stroke="#1a1a1a" stroke-width="0.22">61</text>
<text transform="translate(236.9 460.4) scale(1 1.04)" font-size="9.6" text-anchor="middle" font-weight="normal" fill="#1a1a1a" stroke="#1a1a1a" stroke-width="0.22">52</text>
<text transform="translate(277 471.1) scale(1 1.04)" font-size="9.6" text-anchor="middle" font-weight="normal" fill="#1a1a1a" stroke="#1a1a1a" stroke-width="0.22">38</text>
<text transform="translate(173 505.2) scale(1 1.04)" font-size="9.6" text-anchor="middle" font-weight="normal" fill="#1a1a1a" stroke="#1a1a1a" stroke-width="0.22">66</text>
<text transform="translate(175.7 530.4) scale(1 1.04)" font-size="9.6" text-anchor="middle" font-weight="normal" fill="#1a1a1a" stroke="#1a1a1a" stroke-width="0.22">45</text>
<text transform="translate(180.6 553.8) scale(1 1.04)" font-size="9.6" text-anchor="middle" font-weight="normal" fill="#1a1a1a" stroke="#1a1a1a" stroke-width="0.22">87</text>
<text transform="translate(274.2 532.9) scale(1 1.04)" font-size="9.6" text-anchor="middle" font-weight="normal" fill="#1a1a1a" stroke="#1a1a1a" stroke-width="0.22">58</text>
<text transform="translate(284.2 542.5) scale(1 1.04)" font-size="9.6" text-anchor="middle" font-weight="normal" fill="#1a1a1a" stroke="#1a1a1a" stroke-width="0.22">42</text>
<text transform="translate(273.1 557.8) scale(1 1.04)" font-size="9.6" text-anchor="middle" font-weight="normal" fill="#1a1a1a" stroke="#1a1a1a" stroke-width="0.22">82</text>
<text transform="translate(181 584.9) scale(1 1.04)" font-size="9.6" text-anchor="middle" font-weight="normal" fill="#1a1a1a" stroke="#1a1a1a" stroke-width="0.22">64</text>
<text transform="translate(133.2 607.4) scale(1 1.04)" font-size="9.6" text-anchor="middle" font-weight="normal" fill="#1a1a1a" stroke="#1a1a1a" stroke-width="0.22">65</text>
<text transform="translate(311 599) scale(1 1.04)" font-size="9.6" text-anchor="middle" font-weight="normal" fill="#1a1a1a" stroke="#1a1a1a" stroke-width="0.22">39</text>
<text transform="translate(257.4 624.1) scale(1 1.04)" font-size="9.6" text-anchor="middle" font-weight="normal" fill="#1a1a1a" stroke="#1a1a1a" stroke-width="0.22">86</text>
<text transform="translate(211.5 626.8) scale(1 1.04)" font-size="9.6" text-anchor="middle" font-weight="normal" fill="#1a1a1a" stroke="#1a1a1a" stroke-width="0.22">69</text>
<rect x="124.6" y="452.2" width="193.2" height="178.6" fill="none" stroke="#333" stroke-width="1"/>
<line x1="121.8" y1="460.5" x2="124.6" y2="460.5" stroke="#333" stroke-width="0.9"/>
<text transform="translate(121.4 463.9) scale(1 1.04)" font-size="9.4" text-anchor="end" font-weight="normal" fill="#1a1a1a" stroke="#1a1a1a" stroke-width="0.22">0.50</text>
<line x1="121.8" y1="502" x2="124.6" y2="502" stroke="#333" stroke-width="0.9"/>
<text transform="translate(121.4 505.4) scale(1 1.04)" font-size="9.4" text-anchor="end" font-weight="normal" fill="#1a1a1a" stroke="#1a1a1a" stroke-width="0.22">0.25</text>
<line x1="121.8" y1="543.5" x2="124.6" y2="543.5" stroke="#333" stroke-width="0.9"/>
<text transform="translate(121.4 546.9) scale(1 1.04)" font-size="9.4" text-anchor="end" font-weight="normal" fill="#1a1a1a" stroke="#1a1a1a" stroke-width="0.22">0.00</text>
<line x1="121.8" y1="585" x2="124.6" y2="585" stroke="#333" stroke-width="0.9"/>
<text transform="translate(121.4 588.4) scale(1 1.04)" font-size="9.4" text-anchor="end" font-weight="normal" fill="#1a1a1a" stroke="#1a1a1a" stroke-width="0.22">−0.25</text>
<line x1="121.8" y1="626.5" x2="124.6" y2="626.5" stroke="#333" stroke-width="0.9"/>
<text transform="translate(121.4 629.9) scale(1 1.04)" font-size="9.4" text-anchor="end" font-weight="normal" fill="#1a1a1a" stroke="#1a1a1a" stroke-width="0.22">−0.50</text>
<line x1="146.3" y1="630.8" x2="146.3" y2="633.6" stroke="#333" stroke-width="0.9"/>
<text transform="translate(143.3 642.2) scale(1 1.04)" font-size="9.6" text-anchor="middle" font-weight="normal" fill="#1a1a1a" stroke="#1a1a1a" stroke-width="0.22">−1.0</text>
<line x1="188.4" y1="630.8" x2="188.4" y2="633.6" stroke="#333" stroke-width="0.9"/>
<text transform="translate(184.4 642.2) scale(1 1.04)" font-size="9.6" text-anchor="middle" font-weight="normal" fill="#1a1a1a" stroke="#1a1a1a" stroke-width="0.22">−0.5</text>
<line x1="230.5" y1="630.8" x2="230.5" y2="633.6" stroke="#333" stroke-width="0.9"/>
<text transform="translate(231.3 642.2) scale(1 1.04)" font-size="9.6" text-anchor="middle" font-weight="normal" fill="#1a1a1a" stroke="#1a1a1a" stroke-width="0.22">0.0</text>
<line x1="272.6" y1="630.8" x2="272.6" y2="633.6" stroke="#333" stroke-width="0.9"/>
<text transform="translate(272.8 642.2) scale(1 1.04)" font-size="9.6" text-anchor="middle" font-weight="normal" fill="#1a1a1a" stroke="#1a1a1a" stroke-width="0.22">0.5</text>
<line x1="314.7" y1="630.8" x2="314.7" y2="633.6" stroke="#333" stroke-width="0.9"/>
<text transform="translate(315.5 642.2) scale(1 1.04)" font-size="9.6" text-anchor="middle" font-weight="normal" fill="#1a1a1a" stroke="#1a1a1a" stroke-width="0.22">1.0</text>
<text transform="translate(224.7 655.4) scale(1 1.04)" font-size="9.4" text-anchor="middle" font-weight="normal" fill="#1a1a1a" stroke="#1a1a1a" stroke-width="0.22">Dim1 (60.6%)</text>
<text transform="translate(95.2 532.5) rotate(-90) scale(1 1.04)" font-size="9.4" text-anchor="middle" font-weight="normal" fill="#1a1a1a" stroke="#1a1a1a" stroke-width="0.22" dominant-baseline="central">Dim2 (23.9%)</text>
<text transform="translate(76.6 452.5) scale(1 1.04)" font-size="14" text-anchor="start" font-weight="bold" fill="#111">E</text>
<text transform="translate(328 509.8) scale(1 1.04)" font-size="9.6" text-anchor="start" font-weight="normal" fill="#1a1a1a" stroke="#1a1a1a" stroke-width="0.22">Contributions</text>
<rect x="328" y="520.5" width="10.6" height="61.6" fill="url(#cgr)" stroke="none" stroke-width="1"/>
<line x1="328" y1="520.6" x2="330" y2="520.6" stroke="#fff" stroke-width="0.7"/>
<line x1="336.6" y1="520.6" x2="338.6" y2="520.6" stroke="#fff" stroke-width="0.7"/>
<text transform="translate(342.4 524) scale(1 1.04)" font-size="9.4" text-anchor="start" font-weight="normal" fill="#1a1a1a" stroke="#1a1a1a" stroke-width="0.22">15.0</text>
<line x1="328" y1="532.75" x2="330" y2="532.75" stroke="#fff" stroke-width="0.7"/>
<line x1="336.6" y1="532.75" x2="338.6" y2="532.75" stroke="#fff" stroke-width="0.7"/>
<text transform="translate(342.4 536.15) scale(1 1.04)" font-size="9.4" text-anchor="start" font-weight="normal" fill="#1a1a1a" stroke="#1a1a1a" stroke-width="0.22">12.5</text>
<line x1="328" y1="544.9" x2="330" y2="544.9" stroke="#fff" stroke-width="0.7"/>
<line x1="336.6" y1="544.9" x2="338.6" y2="544.9" stroke="#fff" stroke-width="0.7"/>
<text transform="translate(342.4 548.3) scale(1 1.04)" font-size="9.4" text-anchor="start" font-weight="normal" fill="#1a1a1a" stroke="#1a1a1a" stroke-width="0.22">10.0</text>
<line x1="328" y1="557.05" x2="330" y2="557.05" stroke="#fff" stroke-width="0.7"/>
<line x1="336.6" y1="557.05" x2="338.6" y2="557.05" stroke="#fff" stroke-width="0.7"/>
<text transform="translate(342.4 560.45) scale(1 1.04)" font-size="9.4" text-anchor="start" font-weight="normal" fill="#1a1a1a" stroke="#1a1a1a" stroke-width="0.22">7.5</text>
<line x1="328" y1="569.2" x2="330" y2="569.2" stroke="#fff" stroke-width="0.7"/>
<line x1="336.6" y1="569.2" x2="338.6" y2="569.2" stroke="#fff" stroke-width="0.7"/>
<text transform="translate(342.4 572.6) scale(1 1.04)" font-size="9.4" text-anchor="start" font-weight="normal" fill="#1a1a1a" stroke="#1a1a1a" stroke-width="0.22">5.0</text>
<ellipse cx="542.5" cy="482.1" rx="13.8" ry="10.6" fill="#fbdfe2" transform="rotate(12 542.5 482.1)"/>
<ellipse cx="545.2" cy="598.4" rx="13.8" ry="11" fill="#fbdfe2" transform="rotate(-12 545.2 598.4)"/>
<ellipse cx="470" cy="600.6" rx="36" ry="9.6" fill="#cdd0ea" transform="rotate(27 470 600.6)"/>
<line x1="493.5" y1="447.9" x2="506.5" y2="457" stroke="#2b8792" stroke-width="1.1"/>
<line x1="506.5" y1="457" x2="510.6" y2="441.9" stroke="#2b8792" stroke-width="1.1"/>
<line x1="516.5" y1="458.8" x2="527.5" y2="467.5" stroke="#2b8792" stroke-width="1.1"/>
<line x1="527.5" y1="467.5" x2="512.9" y2="473.4" stroke="#2b8792" stroke-width="1.1"/>
<line x1="512.9" y1="473.4" x2="520.8" y2="486.1" stroke="#2b8792" stroke-width="1.1"/>
<line x1="520.8" y1="486.1" x2="504.8" y2="484.8" stroke="#2b8792" stroke-width="1.1"/>
<line x1="530.8" y1="525.8" x2="547.3" y2="526.6" stroke="#2b8792" stroke-width="1.1"/>
<line x1="547.3" y1="526.6" x2="540" y2="538.9" stroke="#2b8792" stroke-width="1.1"/>
<line x1="540" y1="538.9" x2="554.6" y2="544.4" stroke="#2b8792" stroke-width="1.1"/>
<line x1="554.6" y1="544.4" x2="544.6" y2="555.8" stroke="#2b8792" stroke-width="1.1"/>
<line x1="544.6" y1="555.8" x2="556" y2="565.9" stroke="#2b8792" stroke-width="1.1"/>
<line x1="556" y1="565.9" x2="545.4" y2="573.8" stroke="#2b8792" stroke-width="1.1"/>
<line x1="545.4" y1="573.8" x2="534" y2="564.9" stroke="#2b8792" stroke-width="1.1"/>
<line x1="534" y1="564.9" x2="529" y2="579.1" stroke="#2b8792" stroke-width="1.1"/>
<line x1="529" y1="579.1" x2="517.5" y2="567.7" stroke="#2b8792" stroke-width="1.1"/>
<line x1="517.5" y1="567.7" x2="513.4" y2="582.3" stroke="#2b8792" stroke-width="1.1"/>
<line x1="513.4" y1="582.3" x2="501.4" y2="572.1" stroke="#2b8792" stroke-width="1.1"/>
<line x1="501.4" y1="572.1" x2="495.2" y2="585.7" stroke="#2b8792" stroke-width="1.1"/>
<line x1="495.2" y1="585.7" x2="485.8" y2="572.9" stroke="#2b8792" stroke-width="1.1"/>
<line x1="485.8" y1="572.9" x2="474.4" y2="582.1" stroke="#2b8792" stroke-width="1.1"/>
<line x1="486.6" y1="546.5" x2="492.5" y2="533.6" stroke="#2b8792" stroke-width="1.1"/>
<line x1="492.5" y1="533.6" x2="479.3" y2="533.9" stroke="#2b8792" stroke-width="1.1"/>
<line x1="479.3" y1="533.9" x2="472.7" y2="515.3" stroke="#2b8792" stroke-width="1.1"/>
<line x1="467.8" y1="499.6" x2="480.7" y2="508.6" stroke="#2b8792" stroke-width="1.1"/>
<line x1="480.7" y1="508.6" x2="483.1" y2="493.6" stroke="#2b8792" stroke-width="1.1"/>
<line x1="483.1" y1="493.6" x2="494.8" y2="494.1" stroke="#2b8792" stroke-width="1.1"/>
<line x1="494.8" y1="494.1" x2="493.5" y2="508.6" stroke="#2b8792" stroke-width="1.1"/>
<line x1="493.5" y1="508.6" x2="508.8" y2="510.8" stroke="#2b8792" stroke-width="1.1"/>
<line x1="508.8" y1="510.8" x2="502.4" y2="523.4" stroke="#2b8792" stroke-width="1.1"/>
<line x1="502.4" y1="523.4" x2="517.6" y2="523.7" stroke="#2b8792" stroke-width="1.1"/>
<line x1="517.6" y1="523.7" x2="510.8" y2="537.2" stroke="#2b8792" stroke-width="1.1"/>
<line x1="510.8" y1="537.2" x2="524.8" y2="540.4" stroke="#2b8792" stroke-width="1.1"/>
<line x1="524.8" y1="540.4" x2="510" y2="558.9" stroke="#2b8792" stroke-width="1.1"/>
<line x1="510" y1="558.9" x2="498.7" y2="548.2" stroke="#2b8792" stroke-width="1.1"/>
<line x1="473" y1="541.7" x2="470.1" y2="555" stroke="#2b8792" stroke-width="1.1"/>
<line x1="457.5" y1="548.5" x2="470.1" y2="555" stroke="#2b8792" stroke-width="1.1"/>
<line x1="473" y1="541.7" x2="486.6" y2="546.5" stroke="#2b8792" stroke-width="1.1"/>
<line x1="481.6" y1="553.6" x2="486.6" y2="546.5" stroke="#2b8792" stroke-width="1.1"/>
<line x1="498.7" y1="548.2" x2="493.5" y2="562.6" stroke="#2b8792" stroke-width="1.1"/>
<path d="M510.6 441.9 Q527.55 448.35 516.5 458.8" fill="none" stroke="#2b8792" stroke-width="1.1"/>
<path d="M472.7 515.3 Q463.25 507.45 467.8 499.6" fill="none" stroke="#2b8792" stroke-width="1.1"/>
<path d="M474.4 582.1 Q469 569.85 481.6 553.6" fill="none" stroke="#2b8792" stroke-width="1.1"/>
<path d="M443 564.7 Q454.25 562.6 457.5 548.5" fill="none" stroke="#2b8792" stroke-width="1.1"/>
<path d="M504.8 484.8 C505 498 510 503 521 508 C534 513 536 519 530.8 525.8" fill="none" stroke="#2b8792" stroke-width="1.1"/>
<circle cx="510.6" cy="441.9" r="4.6" fill="url(#g4)"/>
<circle cx="493.5" cy="447.9" r="4.6" fill="url(#g5)"/>
<circle cx="506.5" cy="457" r="4.6" fill="url(#g6)"/>
<circle cx="516.5" cy="458.8" r="4.6" fill="url(#g7)"/>
<circle cx="527.5" cy="467.5" r="4.6" fill="url(#g8)"/>
<circle cx="512.9" cy="473.4" r="4.6" fill="url(#g4)"/>
<circle cx="504.8" cy="484.8" r="4.6" fill="url(#g8)"/>
<circle cx="520.8" cy="486.1" r="4.6" fill="url(#g9)"/>
<circle cx="517.6" cy="498" r="4.6" fill="url(#g8)"/>
<circle cx="531.3" cy="503.8" r="4.6" fill="url(#g8)"/>
<circle cx="483.1" cy="493.6" r="4.6" fill="url(#g4)"/>
<circle cx="494.8" cy="494.1" r="4.6" fill="url(#g4)"/>
<circle cx="467.8" cy="499.6" r="4.6" fill="url(#g4)"/>
<circle cx="480.7" cy="508.6" r="4.6" fill="url(#g10)"/>
<circle cx="493.5" cy="508.6" r="4.6" fill="url(#g4)"/>
<circle cx="508.8" cy="510.8" r="4.6" fill="url(#g8)"/>
<circle cx="519.2" cy="512.9" r="4.6" fill="url(#g4)"/>
<circle cx="472.7" cy="515.3" r="4.6" fill="url(#g4)"/>
<circle cx="502.4" cy="523.4" r="4.6" fill="url(#g4)"/>
<circle cx="517.6" cy="523.7" r="4.6" fill="url(#g4)"/>
<circle cx="530.8" cy="525.8" r="4.6" fill="url(#g11)"/>
<circle cx="547.3" cy="526.6" r="4.6" fill="url(#g4)"/>
<circle cx="479.3" cy="533.9" r="4.6" fill="url(#g12)"/>
<circle cx="492.5" cy="533.6" r="4.6" fill="url(#g8)"/>
<circle cx="510.8" cy="537.2" r="4.6" fill="url(#g4)"/>
<circle cx="524.8" cy="540.4" r="4.6" fill="url(#g8)"/>
<circle cx="540" cy="538.9" r="4.6" fill="url(#g4)"/>
<circle cx="554.6" cy="544.4" r="4.6" fill="url(#g4)"/>
<circle cx="473" cy="541.7" r="4.6" fill="url(#g4)"/>
<circle cx="486.6" cy="546.5" r="4.6" fill="url(#g4)"/>
<circle cx="498.7" cy="548.2" r="4.6" fill="url(#g4)"/>
<circle cx="457.5" cy="548.5" r="4.6" fill="url(#g8)"/>
<circle cx="470.1" cy="555" r="4.6" fill="url(#g4)"/>
<circle cx="481.6" cy="553.6" r="4.6" fill="url(#g13)"/>
<circle cx="510" cy="558.9" r="4.6" fill="url(#g8)"/>
<circle cx="544.6" cy="555.8" r="4.6" fill="url(#g4)"/>
<circle cx="443" cy="564.7" r="4.6" fill="url(#g4)"/>
<circle cx="493.5" cy="562.6" r="4.6" fill="url(#g4)"/>
<circle cx="534" cy="564.9" r="4.6" fill="url(#g4)"/>
<circle cx="556" cy="565.9" r="4.6" fill="url(#g4)"/>
<circle cx="485.8" cy="572.9" r="4.6" fill="url(#g14)"/>
<circle cx="501.4" cy="572.1" r="4.6" fill="url(#g4)"/>
<circle cx="517.5" cy="567.7" r="4.6" fill="url(#g8)"/>
<circle cx="545.4" cy="573.8" r="4.6" fill="url(#g15)"/>
<circle cx="474.4" cy="582.1" r="4.6" fill="url(#g16)"/>
<circle cx="495.2" cy="585.7" r="4.6" fill="url(#g17)"/>
<circle cx="513.4" cy="582.3" r="4.6" fill="url(#g4)"/>
<circle cx="529" cy="579.1" r="4.6" fill="url(#g4)"/>
<text transform="translate(482.3 459.7) scale(1 1.04)" font-size="9.4" text-anchor="middle" font-weight="normal" fill="#222" stroke="#222" stroke-width="0.22">L38</text>
<text transform="translate(496.5 468) scale(1 1.04)" font-size="9.4" text-anchor="middle" font-weight="normal" fill="#222" stroke="#222" stroke-width="0.22">Y39</text>
<text transform="translate(463.7 533.9) scale(1 1.04)" font-size="9.4" text-anchor="middle" font-weight="normal" fill="#222" stroke="#222" stroke-width="0.22">S87</text>
<text transform="translate(524.7 562.4) scale(1 1.04)" font-size="9.4" text-anchor="middle" font-weight="normal" fill="#222" stroke="#222" stroke-width="0.22">E61</text>
<text transform="translate(476.5 572) scale(1 1.04)" font-size="9.4" text-anchor="middle" font-weight="normal" fill="#222" stroke="#222" stroke-width="0.22">N65</text>
<text transform="translate(459.9 585.8) scale(1 1.04)" font-size="9.4" text-anchor="middle" font-weight="normal" fill="#222" stroke="#222" stroke-width="0.22">V66</text>
<text transform="translate(547.4 586.5) scale(1 1.04)" font-size="9.4" text-anchor="middle" font-weight="normal" fill="#222" stroke="#222" stroke-width="0.22">K58</text>
<text transform="translate(417.2 452) scale(1 1.04)" font-size="14" text-anchor="start" font-weight="bold" fill="#111">F</text>
<circle cx="469.3" cy="629.5" r="4.9" fill="#fbdfe2"/>
<circle cx="469.3" cy="642.2" r="4.9" fill="#cdd0ea"/>
<text transform="translate(478.7 632.9) scale(1 1.04)" font-size="9.4" text-anchor="start" font-weight="normal" fill="#222" stroke="#222" stroke-width="0.22">Heparin density</text>
<text transform="translate(478.7 645.6) scale(1 1.04)" font-size="9.4" text-anchor="start" font-weight="normal" fill="#222" stroke="#222" stroke-width="0.22">fragment 14–22/25 density</text>
</svg>
</body></html>
